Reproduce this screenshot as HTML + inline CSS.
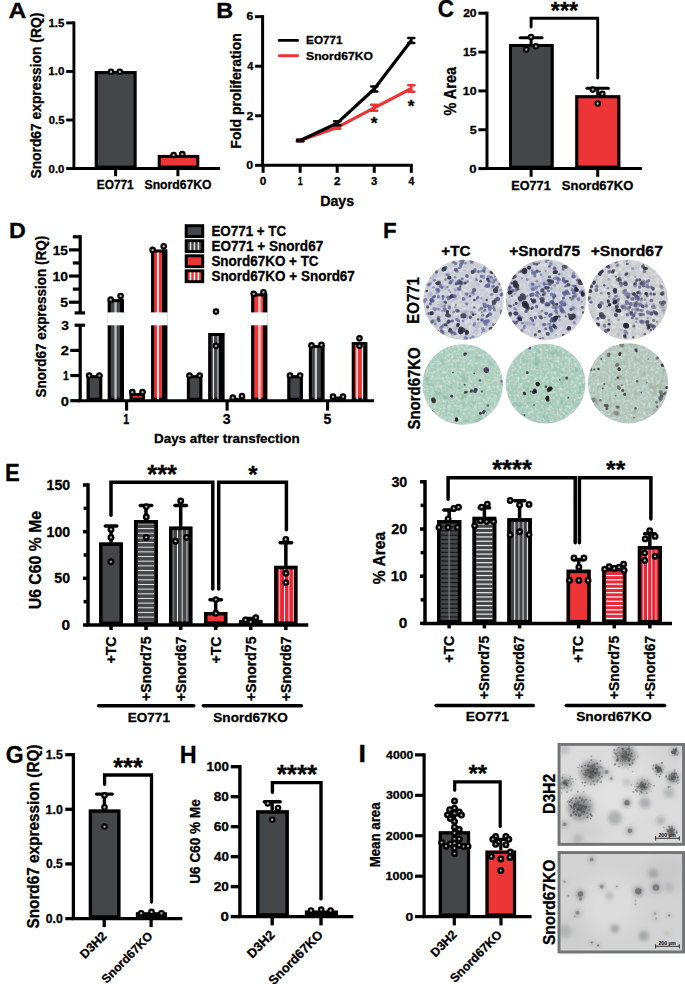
<!DOCTYPE html>
<html><head><meta charset="utf-8"><title>Figure</title>
<style>html,body{margin:0;padding:0;background:#fff;}body{width:685px;height:984px;overflow:hidden;font-family:"Liberation Sans", sans-serif;}svg{display:block;}</style>
</head><body><svg width="685" height="984" viewBox="0 0 685 984" font-family='"Liberation Sans", sans-serif'><defs><filter id="bl" x="-5%" y="-5%" width="110%" height="110%"><feGaussianBlur stdDeviation="0.45"/></filter><filter id="bl2" x="-50%" y="-50%" width="200%" height="200%"><feGaussianBlur stdDeviation="2.2"/></filter><filter id="bl3" x="-50%" y="-50%" width="200%" height="200%"><feGaussianBlur stdDeviation="0.9"/></filter><clipPath id="w1"><circle cx="463.5" cy="299.9" r="40.2"/></clipPath><filter id="w1n0" x="0" y="0" width="100%" height="100%" color-interpolation-filters="sRGB"><feTurbulence type="fractalNoise" baseFrequency="0.25" numOctaves="3" seed="110"/><feColorMatrix type="matrix" values="0 0 0 0 0.88 0 0 0 0 0.89 0 0 0 0 0.91 -2.2 0 0 0 1.3"/></filter><filter id="w1n1" x="0" y="0" width="100%" height="100%" color-interpolation-filters="sRGB"><feTurbulence type="fractalNoise" baseFrequency="0.1" numOctaves="2" seed="111"/><feColorMatrix type="matrix" values="0 0 0 0 0.52 0 0 0 0 0.54 0 0 0 0 0.72 -2.6 0 0 0 1.0"/></filter><clipPath id="w2"><circle cx="546" cy="299.7" r="40.2"/></clipPath><filter id="w2n0" x="0" y="0" width="100%" height="100%" color-interpolation-filters="sRGB"><feTurbulence type="fractalNoise" baseFrequency="0.25" numOctaves="3" seed="120"/><feColorMatrix type="matrix" values="0 0 0 0 0.88 0 0 0 0 0.89 0 0 0 0 0.91 -2.2 0 0 0 1.3"/></filter><filter id="w2n1" x="0" y="0" width="100%" height="100%" color-interpolation-filters="sRGB"><feTurbulence type="fractalNoise" baseFrequency="0.1" numOctaves="2" seed="121"/><feColorMatrix type="matrix" values="0 0 0 0 0.52 0 0 0 0 0.54 0 0 0 0 0.72 -2.6 0 0 0 1.0"/></filter><clipPath id="w3"><circle cx="627.7" cy="299.7" r="40"/></clipPath><filter id="w3n0" x="0" y="0" width="100%" height="100%" color-interpolation-filters="sRGB"><feTurbulence type="fractalNoise" baseFrequency="0.25" numOctaves="3" seed="130"/><feColorMatrix type="matrix" values="0 0 0 0 0.9 0 0 0 0 0.9 0 0 0 0 0.91 -2.2 0 0 0 1.3"/></filter><filter id="w3n1" x="0" y="0" width="100%" height="100%" color-interpolation-filters="sRGB"><feTurbulence type="fractalNoise" baseFrequency="0.1" numOctaves="2" seed="131"/><feColorMatrix type="matrix" values="0 0 0 0 0.54 0 0 0 0 0.54 0 0 0 0 0.64 -2.6 0 0 0 1.0"/></filter><clipPath id="w4"><circle cx="462.7" cy="384.5" r="40.2"/></clipPath><filter id="w4n0" x="0" y="0" width="100%" height="100%" color-interpolation-filters="sRGB"><feTurbulence type="fractalNoise" baseFrequency="0.35" numOctaves="2" seed="210"/><feColorMatrix type="matrix" values="0 0 0 0 0.87 0 0 0 0 0.91 0 0 0 0 0.87 -2.0 0 0 0 1.15"/></filter><filter id="w4n1" x="0" y="0" width="100%" height="100%" color-interpolation-filters="sRGB"><feTurbulence type="fractalNoise" baseFrequency="0.12" numOctaves="2" seed="211"/><feColorMatrix type="matrix" values="0 0 0 0 0.5 0 0 0 0 0.7 0 0 0 0 0.6 -2.3 0 0 0 1.0"/></filter><clipPath id="w5"><circle cx="545.6" cy="383.6" r="39.9"/></clipPath><filter id="w5n0" x="0" y="0" width="100%" height="100%" color-interpolation-filters="sRGB"><feTurbulence type="fractalNoise" baseFrequency="0.35" numOctaves="2" seed="220"/><feColorMatrix type="matrix" values="0 0 0 0 0.87 0 0 0 0 0.91 0 0 0 0 0.87 -2.0 0 0 0 1.15"/></filter><filter id="w5n1" x="0" y="0" width="100%" height="100%" color-interpolation-filters="sRGB"><feTurbulence type="fractalNoise" baseFrequency="0.12" numOctaves="2" seed="221"/><feColorMatrix type="matrix" values="0 0 0 0 0.5 0 0 0 0 0.7 0 0 0 0 0.6 -2.3 0 0 0 1.0"/></filter><clipPath id="w6"><circle cx="628.1" cy="383.3" r="40.1"/></clipPath><filter id="w6n0" x="0" y="0" width="100%" height="100%" color-interpolation-filters="sRGB"><feTurbulence type="fractalNoise" baseFrequency="0.35" numOctaves="2" seed="230"/><feColorMatrix type="matrix" values="0 0 0 0 0.86 0 0 0 0 0.88 0 0 0 0 0.86 -2.0 0 0 0 1.15"/></filter><filter id="w6n1" x="0" y="0" width="100%" height="100%" color-interpolation-filters="sRGB"><feTurbulence type="fractalNoise" baseFrequency="0.12" numOctaves="2" seed="231"/><feColorMatrix type="matrix" values="0 0 0 0 0.6 0 0 0 0 0.62 0 0 0 0 0.56 -2.3 0 0 0 1.0"/></filter><filter id="bl4" x="-50%" y="-50%" width="200%" height="200%"><feGaussianBlur stdDeviation="8"/></filter><filter id="bl5" x="-50%" y="-50%" width="200%" height="200%"><feGaussianBlur stdDeviation="0.55"/></filter><clipPath id="m1"><rect x="557.6" y="743" width="127.4" height="102.8"/></clipPath><clipPath id="m2"><rect x="557.6" y="851.1" width="127.4" height="102.3"/></clipPath></defs><text x="8.5" y="17.8" font-size="22.4" text-anchor="start" font-weight="bold" fill="#000" textLength="17.89" lengthAdjust="spacingAndGlyphs" stroke="#000" stroke-width="0.3">A</text><line x1="73.9" y1="21.45" x2="73.9" y2="168.55" stroke="#000" stroke-width="2.9" stroke-linecap="butt"/><line x1="66.2" y1="22.9" x2="73.9" y2="22.9" stroke="#000" stroke-width="2.9" stroke-linecap="butt"/><text x="64.4" y="26.85" font-size="11" text-anchor="end" font-weight="bold" fill="#000" textLength="15.87" lengthAdjust="spacingAndGlyphs" stroke="#000" stroke-width="0.3">1.5</text><line x1="66.2" y1="71.45" x2="73.9" y2="71.45" stroke="#000" stroke-width="2.9" stroke-linecap="butt"/><text x="64.4" y="75.4" font-size="11" text-anchor="end" font-weight="bold" fill="#000" textLength="16.06" lengthAdjust="spacingAndGlyphs" stroke="#000" stroke-width="0.3">1.0</text><line x1="66.2" y1="120" x2="73.9" y2="120" stroke="#000" stroke-width="2.9" stroke-linecap="butt"/><text x="64.4" y="123.95" font-size="11" text-anchor="end" font-weight="bold" fill="#000" textLength="15.63" lengthAdjust="spacingAndGlyphs" stroke="#000" stroke-width="0.3">0.5</text><line x1="66.2" y1="168.55" x2="73.9" y2="168.55" stroke="#000" stroke-width="2.9" stroke-linecap="butt"/><text x="64.4" y="172.5" font-size="11" text-anchor="end" font-weight="bold" fill="#000" textLength="15.81" lengthAdjust="spacingAndGlyphs" stroke="#000" stroke-width="0.3">0.0</text><rect x="94.8" y="71.15" width="41.7" height="97.4" fill="#434749"/><rect x="96.3" y="72.65" width="38.7" height="94.4" fill="none" stroke="#000" stroke-width="3"/><rect x="157.8" y="154.95" width="41.4" height="13.6" fill="#eb3536"/><rect x="159.3" y="156.45" width="38.4" height="10.6" fill="none" stroke="#000" stroke-width="3"/><line x1="72.45" y1="168.55" x2="220" y2="168.55" stroke="#000" stroke-width="2.9" stroke-linecap="butt"/><line x1="115.6" y1="168.55" x2="115.6" y2="176.2" stroke="#000" stroke-width="3" stroke-linecap="butt"/><line x1="177.9" y1="168.55" x2="177.9" y2="176.2" stroke="#000" stroke-width="3" stroke-linecap="butt"/><circle cx="111" cy="71.7" r="2.25" fill="#b0b0b0" stroke="#000" stroke-width="2.15"/><circle cx="119.8" cy="71.7" r="2.25" fill="#b0b0b0" stroke="#000" stroke-width="2.15"/><circle cx="173.6" cy="155.1" r="2.25" fill="#b0b0b0" stroke="#000" stroke-width="2.15"/><circle cx="182.3" cy="154.1" r="2.25" fill="#b0b0b0" stroke="#000" stroke-width="2.15"/><text x="115.25" y="188.8" font-size="11.9" text-anchor="middle" font-weight="bold" fill="#000" textLength="37.01" lengthAdjust="spacingAndGlyphs" stroke="#000" stroke-width="0.3">EO771</text><text x="178.05" y="188.8" font-size="11.9" text-anchor="middle" font-weight="bold" fill="#000" textLength="66.97" lengthAdjust="spacingAndGlyphs" stroke="#000" stroke-width="0.3">Snord67KO</text><text x="0" y="0" font-size="13.83" text-anchor="middle" font-weight="bold" fill="#000" transform="translate(41.3 95.65) scale(1.08 1) rotate(-90)" stroke="#000" stroke-width="0.3">Snord67 expression (RQ)</text><text x="216.2" y="17.8" font-size="22.8" text-anchor="start" font-weight="bold" fill="#000" textLength="16.93" lengthAdjust="spacingAndGlyphs" stroke="#000" stroke-width="0.3">B</text><line x1="262.6" y1="15.18" x2="262.6" y2="165.3" stroke="#000" stroke-width="3" stroke-linecap="butt"/><line x1="255.1" y1="16.68" x2="262.6" y2="16.68" stroke="#000" stroke-width="3" stroke-linecap="butt"/><text x="253.3" y="20.48" font-size="10.6" text-anchor="end" font-weight="bold" fill="#000" textLength="6.77" lengthAdjust="spacingAndGlyphs" stroke="#000" stroke-width="0.3">6</text><line x1="255.1" y1="66.22" x2="262.6" y2="66.22" stroke="#000" stroke-width="3" stroke-linecap="butt"/><text x="253.3" y="70.02" font-size="10.6" text-anchor="end" font-weight="bold" fill="#000" textLength="6.13" lengthAdjust="spacingAndGlyphs" stroke="#000" stroke-width="0.3">4</text><line x1="255.1" y1="115.76" x2="262.6" y2="115.76" stroke="#000" stroke-width="3" stroke-linecap="butt"/><text x="253.3" y="119.56" font-size="10.6" text-anchor="end" font-weight="bold" fill="#000" textLength="6.84" lengthAdjust="spacingAndGlyphs" stroke="#000" stroke-width="0.3">2</text><line x1="255.1" y1="165.3" x2="262.6" y2="165.3" stroke="#000" stroke-width="3" stroke-linecap="butt"/><text x="253.3" y="169.1" font-size="10.6" text-anchor="end" font-weight="bold" fill="#000" textLength="6.91" lengthAdjust="spacingAndGlyphs" stroke="#000" stroke-width="0.3">0</text><line x1="261.1" y1="165.3" x2="412.8" y2="165.3" stroke="#000" stroke-width="3" stroke-linecap="butt"/><line x1="263.1" y1="165.3" x2="263.1" y2="172.8" stroke="#000" stroke-width="3" stroke-linecap="butt"/><text x="263.1" y="185.4" font-size="10.8" text-anchor="middle" font-weight="bold" fill="#000" textLength="6.56" lengthAdjust="spacingAndGlyphs" stroke="#000" stroke-width="0.3">0</text><line x1="300.15" y1="165.3" x2="300.15" y2="172.8" stroke="#000" stroke-width="3" stroke-linecap="butt"/><text x="300.15" y="185.4" font-size="10.8" text-anchor="middle" font-weight="bold" fill="#000" textLength="4.97" lengthAdjust="spacingAndGlyphs" stroke="#000" stroke-width="0.3">1</text><line x1="337.2" y1="165.3" x2="337.2" y2="172.8" stroke="#000" stroke-width="3" stroke-linecap="butt"/><text x="337.2" y="185.4" font-size="10.8" text-anchor="middle" font-weight="bold" fill="#000" textLength="6.49" lengthAdjust="spacingAndGlyphs" stroke="#000" stroke-width="0.3">2</text><line x1="374.25" y1="165.3" x2="374.25" y2="172.8" stroke="#000" stroke-width="3" stroke-linecap="butt"/><text x="374.25" y="185.4" font-size="10.8" text-anchor="middle" font-weight="bold" fill="#000" textLength="6.29" lengthAdjust="spacingAndGlyphs" stroke="#000" stroke-width="0.3">3</text><line x1="411.3" y1="165.3" x2="411.3" y2="172.8" stroke="#000" stroke-width="3" stroke-linecap="butt"/><text x="411.3" y="185.4" font-size="10.8" text-anchor="middle" font-weight="bold" fill="#000" textLength="5.82" lengthAdjust="spacingAndGlyphs" stroke="#000" stroke-width="0.3">4</text><polyline points="300.15,140.53 337.2,127.4 374.25,107.83 411.3,88.51" fill="none" stroke="#eb3536" stroke-width="3.2" stroke-linecap="butt" stroke-linejoin="round"/><line x1="300.15" y1="139.79" x2="300.15" y2="141.27" stroke="#eb3536" stroke-width="2.6" stroke-linecap="butt"/><line x1="297.15" y1="139.79" x2="303.15" y2="139.79" stroke="#eb3536" stroke-width="2.6" stroke-linecap="round"/><line x1="297.15" y1="141.27" x2="303.15" y2="141.27" stroke="#eb3536" stroke-width="2.6" stroke-linecap="round"/><line x1="337.2" y1="126.16" x2="337.2" y2="128.64" stroke="#eb3536" stroke-width="2.6" stroke-linecap="butt"/><line x1="334.2" y1="126.16" x2="340.2" y2="126.16" stroke="#eb3536" stroke-width="2.6" stroke-linecap="round"/><line x1="334.2" y1="128.64" x2="340.2" y2="128.64" stroke="#eb3536" stroke-width="2.6" stroke-linecap="round"/><line x1="374.25" y1="104.86" x2="374.25" y2="110.81" stroke="#eb3536" stroke-width="2.6" stroke-linecap="butt"/><line x1="371.25" y1="104.86" x2="377.25" y2="104.86" stroke="#eb3536" stroke-width="2.6" stroke-linecap="round"/><line x1="371.25" y1="110.81" x2="377.25" y2="110.81" stroke="#eb3536" stroke-width="2.6" stroke-linecap="round"/><line x1="411.3" y1="85.29" x2="411.3" y2="91.73" stroke="#eb3536" stroke-width="2.6" stroke-linecap="butt"/><line x1="408.3" y1="85.29" x2="414.3" y2="85.29" stroke="#eb3536" stroke-width="2.6" stroke-linecap="round"/><line x1="408.3" y1="91.73" x2="414.3" y2="91.73" stroke="#eb3536" stroke-width="2.6" stroke-linecap="round"/><polyline points="300.15,140.53 337.2,123.19 374.25,89.01 411.3,40.46" fill="none" stroke="#000" stroke-width="3.2" stroke-linecap="butt" stroke-linejoin="round"/><line x1="300.15" y1="139.79" x2="300.15" y2="141.27" stroke="#000" stroke-width="2.6" stroke-linecap="butt"/><line x1="297.15" y1="139.79" x2="303.15" y2="139.79" stroke="#000" stroke-width="2.6" stroke-linecap="round"/><line x1="297.15" y1="141.27" x2="303.15" y2="141.27" stroke="#000" stroke-width="2.6" stroke-linecap="round"/><line x1="337.2" y1="121.21" x2="337.2" y2="125.17" stroke="#000" stroke-width="2.6" stroke-linecap="butt"/><line x1="334.2" y1="121.21" x2="340.2" y2="121.21" stroke="#000" stroke-width="2.6" stroke-linecap="round"/><line x1="334.2" y1="125.17" x2="340.2" y2="125.17" stroke="#000" stroke-width="2.6" stroke-linecap="round"/><line x1="374.25" y1="86.53" x2="374.25" y2="91.49" stroke="#000" stroke-width="2.6" stroke-linecap="butt"/><line x1="371.25" y1="86.53" x2="377.25" y2="86.53" stroke="#000" stroke-width="2.6" stroke-linecap="round"/><line x1="371.25" y1="91.49" x2="377.25" y2="91.49" stroke="#000" stroke-width="2.6" stroke-linecap="round"/><line x1="411.3" y1="37.98" x2="411.3" y2="42.94" stroke="#000" stroke-width="2.6" stroke-linecap="butt"/><line x1="408.3" y1="37.98" x2="414.3" y2="37.98" stroke="#000" stroke-width="2.6" stroke-linecap="round"/><line x1="408.3" y1="42.94" x2="414.3" y2="42.94" stroke="#000" stroke-width="2.6" stroke-linecap="round"/><line x1="279.3" y1="40.4" x2="297.6" y2="40.4" stroke="#000" stroke-width="2.9" stroke-linecap="round"/><line x1="279.3" y1="55.7" x2="297.6" y2="55.7" stroke="#eb3536" stroke-width="2.9" stroke-linecap="round"/><text x="306.1" y="44.1" font-size="11.3" text-anchor="start" font-weight="bold" fill="#000" textLength="36.49" lengthAdjust="spacingAndGlyphs" stroke="#000" stroke-width="0.3">EO771</text><text x="306.1" y="60" font-size="11.3" text-anchor="start" font-weight="bold" fill="#000" textLength="66.76" lengthAdjust="spacingAndGlyphs" stroke="#000" stroke-width="0.3">Snord67KO</text><text x="374.2" y="128.6" font-size="17.3" text-anchor="middle" font-weight="bold" fill="#000" stroke="#000" stroke-width="0.3">*</text><text x="411.2" y="112.1" font-size="17.3" text-anchor="middle" font-weight="bold" fill="#000" stroke="#000" stroke-width="0.3">*</text><text x="337.15" y="205.8" font-size="14.2" text-anchor="middle" font-weight="bold" fill="#000" textLength="34" lengthAdjust="spacingAndGlyphs" stroke="#000" stroke-width="0.3">Days</text><text x="0" y="0" font-size="14.06" text-anchor="middle" font-weight="bold" fill="#000" transform="translate(240.5 90.9) scale(1.08 1) rotate(-90)" stroke="#000" stroke-width="0.3">Fold proliferation</text><text x="437.8" y="17.2" font-size="23" text-anchor="start" font-weight="bold" fill="#000" textLength="16.32" lengthAdjust="spacingAndGlyphs" stroke="#000" stroke-width="0.3">C</text><line x1="487" y1="11.7" x2="487" y2="168.6" stroke="#000" stroke-width="3" stroke-linecap="butt"/><line x1="478.4" y1="13.2" x2="487" y2="13.2" stroke="#000" stroke-width="3" stroke-linecap="butt"/><text x="476.6" y="17.15" font-size="11" text-anchor="end" font-weight="bold" fill="#000" textLength="13.43" lengthAdjust="spacingAndGlyphs" stroke="#000" stroke-width="0.3">20</text><line x1="478.4" y1="52.05" x2="487" y2="52.05" stroke="#000" stroke-width="3" stroke-linecap="butt"/><text x="476.6" y="56" font-size="11" text-anchor="end" font-weight="bold" fill="#000" textLength="13.57" lengthAdjust="spacingAndGlyphs" stroke="#000" stroke-width="0.3">15</text><line x1="478.4" y1="90.9" x2="487" y2="90.9" stroke="#000" stroke-width="3" stroke-linecap="butt"/><text x="476.6" y="94.85" font-size="11" text-anchor="end" font-weight="bold" fill="#000" textLength="13.77" lengthAdjust="spacingAndGlyphs" stroke="#000" stroke-width="0.3">10</text><line x1="478.4" y1="129.75" x2="487" y2="129.75" stroke="#000" stroke-width="3" stroke-linecap="butt"/><text x="476.6" y="133.7" font-size="11" text-anchor="end" font-weight="bold" fill="#000" textLength="6.9" lengthAdjust="spacingAndGlyphs" stroke="#000" stroke-width="0.3">5</text><line x1="478.4" y1="168.6" x2="487" y2="168.6" stroke="#000" stroke-width="3" stroke-linecap="butt"/><text x="476.6" y="172.55" font-size="11" text-anchor="end" font-weight="bold" fill="#000" textLength="7.26" lengthAdjust="spacingAndGlyphs" stroke="#000" stroke-width="0.3">0</text><line x1="531.1" y1="37.68" x2="531.1" y2="44.28" stroke="#000" stroke-width="3" stroke-linecap="butt"/><line x1="520.1" y1="37.68" x2="542.1" y2="37.68" stroke="#000" stroke-width="3" stroke-linecap="round"/><rect x="509" y="43.98" width="44.6" height="124.62" fill="#434749"/><rect x="510.5" y="45.48" width="41.6" height="121.62" fill="none" stroke="#000" stroke-width="3"/><line x1="597.7" y1="88.18" x2="597.7" y2="95.56" stroke="#000" stroke-width="3" stroke-linecap="butt"/><line x1="586.95" y1="88.18" x2="608.45" y2="88.18" stroke="#000" stroke-width="3" stroke-linecap="round"/><rect x="575.3" y="95.26" width="45" height="73.34" fill="#eb3536"/><rect x="576.8" y="96.76" width="42" height="70.34" fill="none" stroke="#000" stroke-width="3"/><line x1="485.5" y1="168.6" x2="642" y2="168.6" stroke="#000" stroke-width="3" stroke-linecap="butt"/><line x1="531.1" y1="168.6" x2="531.1" y2="176.8" stroke="#000" stroke-width="3" stroke-linecap="butt"/><line x1="597.7" y1="168.6" x2="597.7" y2="176.8" stroke="#000" stroke-width="3" stroke-linecap="butt"/><circle cx="531.1" cy="37" r="2.25" fill="#b0b0b0" stroke="#000" stroke-width="2.15"/><circle cx="526.3" cy="49.5" r="2.25" fill="#b0b0b0" stroke="#000" stroke-width="2.15"/><circle cx="535.9" cy="46.3" r="2.25" fill="#b0b0b0" stroke="#000" stroke-width="2.15"/><circle cx="592.8" cy="89.6" r="2.25" fill="#b0b0b0" stroke="#000" stroke-width="2.15"/><circle cx="602.3" cy="93.9" r="2.25" fill="#b0b0b0" stroke="#000" stroke-width="2.15"/><circle cx="597.7" cy="103.5" r="2.25" fill="#b0b0b0" stroke="#000" stroke-width="2.15"/><polyline points="531.1,27.05 531.1,18.3 597.7,18.3 597.7,78.05" fill="none" stroke="#000" stroke-width="2.9" stroke-linecap="round" stroke-linejoin="miter"/><text x="564.45" y="19" font-size="23.4" text-anchor="middle" font-weight="bold" fill="#000" stroke="#000" stroke-width="0.3">***</text><text x="531" y="190.3" font-size="12" text-anchor="middle" font-weight="bold" fill="#000" textLength="39.38" lengthAdjust="spacingAndGlyphs" stroke="#000" stroke-width="0.3">EO771</text><text x="597.55" y="190.3" font-size="12" text-anchor="middle" font-weight="bold" fill="#000" textLength="71.42" lengthAdjust="spacingAndGlyphs" stroke="#000" stroke-width="0.3">Snord67KO</text><text x="0" y="0" font-size="14.42" text-anchor="middle" font-weight="bold" fill="#000" transform="translate(456.3 91.25) scale(1.08 1) rotate(-90)" stroke="#000" stroke-width="0.3">% Area</text><text x="9.1" y="238.1" font-size="22.9" text-anchor="start" font-weight="bold" fill="#000" textLength="16.79" lengthAdjust="spacingAndGlyphs" stroke="#000" stroke-width="0.3">D</text><line x1="80.2" y1="235.22" x2="80.2" y2="312.9" stroke="#000" stroke-width="3.2" stroke-linecap="butt"/><line x1="69" y1="249.9" x2="80.2" y2="249.9" stroke="#000" stroke-width="3.2" stroke-linecap="butt"/><text x="68" y="254.8" font-size="13.7" text-anchor="end" font-weight="bold" fill="#000" textLength="15.3" lengthAdjust="spacingAndGlyphs" stroke="#000" stroke-width="0.3">15</text><line x1="69" y1="276.05" x2="80.2" y2="276.05" stroke="#000" stroke-width="3.2" stroke-linecap="butt"/><text x="68" y="280.95" font-size="13.7" text-anchor="end" font-weight="bold" fill="#000" textLength="15.53" lengthAdjust="spacingAndGlyphs" stroke="#000" stroke-width="0.3">10</text><line x1="69" y1="302.2" x2="80.2" y2="302.2" stroke="#000" stroke-width="3.2" stroke-linecap="butt"/><text x="68" y="307.1" font-size="13.7" text-anchor="end" font-weight="bold" fill="#000" textLength="7.79" lengthAdjust="spacingAndGlyphs" stroke="#000" stroke-width="0.3">5</text><line x1="72.8" y1="236.82" x2="80.2" y2="236.82" stroke="#000" stroke-width="3.2" stroke-linecap="butt"/><line x1="72.8" y1="262.97" x2="80.2" y2="262.97" stroke="#000" stroke-width="3.2" stroke-linecap="butt"/><line x1="72.8" y1="289.12" x2="80.2" y2="289.12" stroke="#000" stroke-width="3.2" stroke-linecap="butt"/><line x1="74.6" y1="312.9" x2="85.1" y2="312.9" stroke="#000" stroke-width="3.2" stroke-linecap="butt"/><line x1="80.2" y1="325.2" x2="80.2" y2="400.7" stroke="#000" stroke-width="3.2" stroke-linecap="butt"/><line x1="74.6" y1="325.2" x2="85.1" y2="325.2" stroke="#000" stroke-width="3.2" stroke-linecap="butt"/><text x="68.8" y="330.1" font-size="13.7" text-anchor="end" font-weight="bold" fill="#000" textLength="7.64" lengthAdjust="spacingAndGlyphs" stroke="#000" stroke-width="0.3">3</text><line x1="70.3" y1="350.4" x2="80.2" y2="350.4" stroke="#000" stroke-width="3.2" stroke-linecap="butt"/><text x="68.9" y="355.3" font-size="13.7" text-anchor="end" font-weight="bold" fill="#000" textLength="8.11" lengthAdjust="spacingAndGlyphs" stroke="#000" stroke-width="0.3">2</text><line x1="70.3" y1="375.55" x2="80.2" y2="375.55" stroke="#000" stroke-width="3.2" stroke-linecap="butt"/><text x="68.9" y="380.45" font-size="13.7" text-anchor="end" font-weight="bold" fill="#000" textLength="5.92" lengthAdjust="spacingAndGlyphs" stroke="#000" stroke-width="0.3">1</text><line x1="70.3" y1="400.7" x2="80.2" y2="400.7" stroke="#000" stroke-width="3.2" stroke-linecap="butt"/><text x="68.9" y="405.6" font-size="13.7" text-anchor="end" font-weight="bold" fill="#000" textLength="8.2" lengthAdjust="spacingAndGlyphs" stroke="#000" stroke-width="0.3">0</text><rect x="86.7" y="375.25" width="15.5" height="25.45" fill="#434749"/><rect x="88.2" y="376.75" width="12.5" height="22.45" fill="none" stroke="#000" stroke-width="3"/><rect x="107.8" y="299.28" width="16" height="101.42" fill="#434749"/><rect x="109.3" y="300.78" width="13" height="98.42" fill="none" stroke="#000" stroke-width="3"/><line x1="115.55" y1="302.28" x2="115.55" y2="400.7" stroke="#bfc0c0" stroke-width="2.3" stroke-linecap="butt"/><rect x="120.1" y="299.28" width="3.7" height="101.42" fill="#000"/><rect x="107.3" y="312.4" width="17" height="12.9" fill="#fff"/><rect x="129.6" y="393.11" width="15.4" height="7.59" fill="#eb3536"/><rect x="131.1" y="394.61" width="12.4" height="4.59" fill="none" stroke="#000" stroke-width="3"/><rect x="151.1" y="249.6" width="16.1" height="151.1" fill="#eb3536"/><rect x="152.6" y="251.1" width="13.1" height="148.1" fill="none" stroke="#000" stroke-width="3"/><line x1="158" y1="252.6" x2="158" y2="400.7" stroke="#ffffff" stroke-width="1.7" stroke-linecap="butt"/><rect x="162" y="249.6" width="5.2" height="151.1" fill="#000"/><rect x="150.6" y="312.4" width="17.1" height="12.9" fill="#fff"/><rect x="186.9" y="375.25" width="15.4" height="25.45" fill="#434749"/><rect x="188.4" y="376.75" width="12.4" height="22.45" fill="none" stroke="#000" stroke-width="3"/><rect x="208.3" y="333" width="16" height="67.7" fill="#434749"/><rect x="209.8" y="334.5" width="13" height="64.7" fill="none" stroke="#000" stroke-width="3"/><line x1="213.45" y1="336" x2="213.45" y2="400.7" stroke="#e8e8e8" stroke-width="1.1" stroke-linecap="butt"/><line x1="218.1" y1="336" x2="218.1" y2="400.7" stroke="#e8e8e8" stroke-width="1.2" stroke-linecap="butt"/><rect x="218.7" y="333" width="5.6" height="67.7" fill="#000"/><rect x="229.8" y="397.88" width="15.4" height="2.81" fill="#eb3536"/><rect x="231.3" y="399.38" width="12.4" height="0.1" fill="none" stroke="#000" stroke-width="3"/><rect x="251.2" y="293.53" width="16" height="107.17" fill="#eb3536"/><rect x="252.7" y="295.03" width="13" height="104.17" fill="none" stroke="#000" stroke-width="3"/><line x1="259.1" y1="296.53" x2="259.1" y2="400.7" stroke="#ffffff" stroke-width="1.4" stroke-linecap="butt"/><line x1="260.55" y1="296.53" x2="260.55" y2="400.7" stroke="#f49a9a" stroke-width="1.5" stroke-linecap="butt"/><rect x="263.1" y="293.53" width="4.1" height="107.17" fill="#000"/><rect x="250.7" y="312.4" width="17" height="12.9" fill="#fff"/><rect x="287.4" y="375.25" width="15.4" height="25.45" fill="#434749"/><rect x="288.9" y="376.75" width="12.4" height="22.45" fill="none" stroke="#000" stroke-width="3"/><rect x="308.9" y="345.07" width="15.4" height="55.63" fill="#434749"/><rect x="310.4" y="346.57" width="12.4" height="52.63" fill="none" stroke="#000" stroke-width="3"/><line x1="315.9" y1="348.07" x2="315.9" y2="400.7" stroke="#d0d0d0" stroke-width="2.1" stroke-linecap="butt"/><rect x="320.8" y="345.07" width="3.5" height="55.63" fill="#000"/><rect x="330.3" y="396.63" width="15.4" height="4.07" fill="#eb3536"/><rect x="331.8" y="398.13" width="12.4" height="1.07" fill="none" stroke="#000" stroke-width="3"/><rect x="351.8" y="342.05" width="15.4" height="58.65" fill="#eb3536"/><rect x="353.3" y="343.55" width="12.4" height="55.65" fill="none" stroke="#000" stroke-width="3"/><line x1="357.1" y1="345.05" x2="357.1" y2="400.7" stroke="#ffffff" stroke-width="1.4" stroke-linecap="butt"/><line x1="362.6" y1="345.05" x2="362.6" y2="400.7" stroke="#ffffff" stroke-width="1.4" stroke-linecap="butt"/><rect x="363.3" y="342.05" width="3.9" height="58.65" fill="#000"/><line x1="78.6" y1="400.7" x2="374" y2="400.7" stroke="#000" stroke-width="3.1" stroke-linecap="butt"/><line x1="126.6" y1="400.7" x2="126.6" y2="410.6" stroke="#000" stroke-width="3.1" stroke-linecap="butt"/><line x1="227.1" y1="400.7" x2="227.1" y2="410.6" stroke="#000" stroke-width="3.1" stroke-linecap="butt"/><line x1="327.6" y1="400.7" x2="327.6" y2="410.6" stroke="#000" stroke-width="3.1" stroke-linecap="butt"/><circle cx="89.2" cy="375.55" r="2.25" fill="#b0b0b0" stroke="#000" stroke-width="2.15"/><circle cx="99.4" cy="375.55" r="2.25" fill="#b0b0b0" stroke="#000" stroke-width="2.15"/><circle cx="110.7" cy="299.69" r="2.25" fill="#b0b0b0" stroke="#000" stroke-width="2.15"/><circle cx="120.6" cy="296.03" r="2.25" fill="#b0b0b0" stroke="#000" stroke-width="2.15"/><circle cx="132.3" cy="392.15" r="2.25" fill="#b0b0b0" stroke="#000" stroke-width="2.15"/><circle cx="142.5" cy="392.15" r="2.25" fill="#b0b0b0" stroke="#000" stroke-width="2.15"/><circle cx="152.6" cy="249.9" r="2.25" fill="#b0b0b0" stroke="#000" stroke-width="2.15"/><circle cx="163.7" cy="246.24" r="2.25" fill="#b0b0b0" stroke="#000" stroke-width="2.15"/><circle cx="189.5" cy="375.55" r="2.25" fill="#b0b0b0" stroke="#000" stroke-width="2.15"/><circle cx="199.6" cy="375.55" r="2.25" fill="#b0b0b0" stroke="#000" stroke-width="2.15"/><circle cx="216" cy="311.6" r="2.25" fill="#b0b0b0" stroke="#000" stroke-width="2.15"/><circle cx="216" cy="345.87" r="2.25" fill="#b0b0b0" stroke="#000" stroke-width="2.15"/><circle cx="232.8" cy="397.68" r="2.25" fill="#b0b0b0" stroke="#000" stroke-width="2.15"/><circle cx="242" cy="396.17" r="2.25" fill="#b0b0b0" stroke="#000" stroke-width="2.15"/><circle cx="253.7" cy="293.83" r="2.25" fill="#b0b0b0" stroke="#000" stroke-width="2.15"/><circle cx="263.5" cy="292.26" r="2.25" fill="#b0b0b0" stroke="#000" stroke-width="2.15"/><circle cx="290" cy="375.55" r="2.25" fill="#b0b0b0" stroke="#000" stroke-width="2.15"/><circle cx="300.1" cy="375.55" r="2.25" fill="#b0b0b0" stroke="#000" stroke-width="2.15"/><circle cx="311.5" cy="345.37" r="2.25" fill="#b0b0b0" stroke="#000" stroke-width="2.15"/><circle cx="321.5" cy="344.87" r="2.25" fill="#b0b0b0" stroke="#000" stroke-width="2.15"/><circle cx="333" cy="396.68" r="2.25" fill="#b0b0b0" stroke="#000" stroke-width="2.15"/><circle cx="343" cy="396.68" r="2.25" fill="#b0b0b0" stroke="#000" stroke-width="2.15"/><circle cx="359.5" cy="338.33" r="2.25" fill="#b0b0b0" stroke="#000" stroke-width="2.15"/><circle cx="359.5" cy="345.87" r="2.25" fill="#b0b0b0" stroke="#000" stroke-width="2.15"/><text x="126.3" y="424" font-size="14" text-anchor="middle" font-weight="bold" fill="#000" textLength="5.92" lengthAdjust="spacingAndGlyphs" stroke="#000" stroke-width="0.3">1</text><text x="226.8" y="424" font-size="14" text-anchor="middle" font-weight="bold" fill="#000" textLength="7.87" lengthAdjust="spacingAndGlyphs" stroke="#000" stroke-width="0.3">3</text><text x="327.3" y="424" font-size="14" text-anchor="middle" font-weight="bold" fill="#000" textLength="7.79" lengthAdjust="spacingAndGlyphs" stroke="#000" stroke-width="0.3">5</text><text x="226.85" y="443.3" font-size="13.7" text-anchor="middle" font-weight="bold" fill="#000" textLength="145.81" lengthAdjust="spacingAndGlyphs" stroke="#000" stroke-width="0.3">Days after transfection</text><text x="0" y="0" font-size="13.48" text-anchor="middle" font-weight="bold" fill="#000" transform="translate(46 316.65) scale(1.08 1) rotate(-90)" stroke="#000" stroke-width="0.3">Snord67 expression (RQ)</text><rect x="184.7" y="224.2" width="19.5" height="13.8" fill="#000"/><rect x="187.7" y="227.2" width="13.5" height="7.8" fill="#434749"/><text x="211.4" y="235.8" font-size="14" text-anchor="start" font-weight="bold" fill="#000" textLength="74.82" lengthAdjust="spacingAndGlyphs" stroke="#000" stroke-width="0.3">EO771 + TC</text><rect x="184.7" y="239.25" width="19.5" height="13.8" fill="#000"/><rect x="187.7" y="242.25" width="13.5" height="7.8" fill="#434749"/><line x1="190.5" y1="242.25" x2="190.5" y2="250.05" stroke="#e0e0e0" stroke-width="1.5" stroke-linecap="butt"/><line x1="194.45" y1="242.25" x2="194.45" y2="250.05" stroke="#e0e0e0" stroke-width="1.5" stroke-linecap="butt"/><line x1="198.4" y1="242.25" x2="198.4" y2="250.05" stroke="#e0e0e0" stroke-width="1.5" stroke-linecap="butt"/><text x="211.4" y="250.85" font-size="14" text-anchor="start" font-weight="bold" fill="#000" textLength="111.81" lengthAdjust="spacingAndGlyphs" stroke="#000" stroke-width="0.3">EO771 + Snord67</text><rect x="184.7" y="254.3" width="19.5" height="13.8" fill="#000"/><rect x="187.7" y="257.3" width="13.5" height="7.8" fill="#eb3536"/><text x="211.4" y="265.9" font-size="14" text-anchor="start" font-weight="bold" fill="#000" textLength="107.19" lengthAdjust="spacingAndGlyphs" stroke="#000" stroke-width="0.3">Snord67KO + TC</text><rect x="184.7" y="269.35" width="19.5" height="13.8" fill="#000"/><rect x="187.7" y="272.35" width="13.5" height="7.8" fill="#eb3536"/><line x1="190.5" y1="272.35" x2="190.5" y2="280.15" stroke="#ffffff" stroke-width="1.5" stroke-linecap="butt"/><line x1="194.45" y1="272.35" x2="194.45" y2="280.15" stroke="#ffffff" stroke-width="1.5" stroke-linecap="butt"/><line x1="198.4" y1="272.35" x2="198.4" y2="280.15" stroke="#ffffff" stroke-width="1.5" stroke-linecap="butt"/><text x="211.4" y="280.95" font-size="14" text-anchor="start" font-weight="bold" fill="#000" textLength="143.47" lengthAdjust="spacingAndGlyphs" stroke="#000" stroke-width="0.3">Snord67KO + Snord67</text><text x="5" y="480.6" font-size="23.4" text-anchor="start" font-weight="bold" fill="#000" textLength="14.76" lengthAdjust="spacingAndGlyphs" stroke="#000" stroke-width="0.3">E</text><line x1="88" y1="483.25" x2="88" y2="625" stroke="#000" stroke-width="3.5" stroke-linecap="butt"/><line x1="83" y1="485" x2="88" y2="485" stroke="#000" stroke-width="3.5" stroke-linecap="butt"/><text x="70.1" y="490" font-size="14.1" text-anchor="end" font-weight="bold" fill="#000" textLength="23.56" lengthAdjust="spacingAndGlyphs" stroke="#000" stroke-width="0.3">150</text><line x1="83" y1="531.67" x2="88" y2="531.67" stroke="#000" stroke-width="3.5" stroke-linecap="butt"/><text x="70.1" y="536.67" font-size="14.1" text-anchor="end" font-weight="bold" fill="#000" textLength="23.56" lengthAdjust="spacingAndGlyphs" stroke="#000" stroke-width="0.3">100</text><line x1="83" y1="578.34" x2="88" y2="578.34" stroke="#000" stroke-width="3.5" stroke-linecap="butt"/><text x="70.1" y="583.34" font-size="14.1" text-anchor="end" font-weight="bold" fill="#000" textLength="15.72" lengthAdjust="spacingAndGlyphs" stroke="#000" stroke-width="0.3">50</text><line x1="83" y1="625" x2="88" y2="625" stroke="#000" stroke-width="3.5" stroke-linecap="butt"/><text x="70.1" y="630" font-size="14.1" text-anchor="end" font-weight="bold" fill="#000" textLength="8.55" lengthAdjust="spacingAndGlyphs" stroke="#000" stroke-width="0.3">0</text><line x1="83.6" y1="508.34" x2="88" y2="508.34" stroke="#000" stroke-width="3.5" stroke-linecap="butt"/><line x1="83.6" y1="555" x2="88" y2="555" stroke="#000" stroke-width="3.5" stroke-linecap="butt"/><line x1="83.6" y1="601.67" x2="88" y2="601.67" stroke="#000" stroke-width="3.5" stroke-linecap="butt"/><line x1="111.05" y1="526.07" x2="111.05" y2="542.87" stroke="#000" stroke-width="3.5" stroke-linecap="butt"/><line x1="105.3" y1="526.07" x2="116.8" y2="526.07" stroke="#000" stroke-width="3.5" stroke-linecap="round"/><rect x="99.1" y="542.47" width="23.9" height="82.53" fill="#434749"/><rect x="100.85" y="544.22" width="20.4" height="79.03" fill="none" stroke="#000" stroke-width="3.5"/><line x1="146" y1="505.54" x2="146" y2="520.47" stroke="#000" stroke-width="3.5" stroke-linecap="butt"/><line x1="140.25" y1="505.54" x2="151.75" y2="505.54" stroke="#000" stroke-width="3.5" stroke-linecap="round"/><rect x="134" y="520.07" width="24" height="104.93" fill="#434749"/><line x1="137.9" y1="523.91" x2="154.1" y2="523.91" stroke="#e6e6e6" stroke-width="1" stroke-linecap="butt"/><line x1="137.9" y1="528.57" x2="154.1" y2="528.57" stroke="#e6e6e6" stroke-width="1" stroke-linecap="butt"/><line x1="137.9" y1="533.23" x2="154.1" y2="533.23" stroke="#e6e6e6" stroke-width="1" stroke-linecap="butt"/><line x1="137.9" y1="537.89" x2="154.1" y2="537.89" stroke="#e6e6e6" stroke-width="1" stroke-linecap="butt"/><line x1="137.9" y1="542.55" x2="154.1" y2="542.55" stroke="#e6e6e6" stroke-width="1" stroke-linecap="butt"/><line x1="137.9" y1="547.21" x2="154.1" y2="547.21" stroke="#e6e6e6" stroke-width="1" stroke-linecap="butt"/><line x1="137.9" y1="551.87" x2="154.1" y2="551.87" stroke="#e6e6e6" stroke-width="1" stroke-linecap="butt"/><line x1="137.9" y1="556.53" x2="154.1" y2="556.53" stroke="#e6e6e6" stroke-width="1" stroke-linecap="butt"/><line x1="137.9" y1="561.19" x2="154.1" y2="561.19" stroke="#e6e6e6" stroke-width="1" stroke-linecap="butt"/><line x1="137.9" y1="565.85" x2="154.1" y2="565.85" stroke="#e6e6e6" stroke-width="1" stroke-linecap="butt"/><line x1="137.9" y1="570.51" x2="154.1" y2="570.51" stroke="#e6e6e6" stroke-width="1" stroke-linecap="butt"/><line x1="137.9" y1="575.17" x2="154.1" y2="575.17" stroke="#e6e6e6" stroke-width="1" stroke-linecap="butt"/><line x1="137.9" y1="579.83" x2="154.1" y2="579.83" stroke="#e6e6e6" stroke-width="1" stroke-linecap="butt"/><line x1="137.9" y1="584.49" x2="154.1" y2="584.49" stroke="#e6e6e6" stroke-width="1" stroke-linecap="butt"/><line x1="137.9" y1="589.15" x2="154.1" y2="589.15" stroke="#e6e6e6" stroke-width="1" stroke-linecap="butt"/><line x1="137.9" y1="593.81" x2="154.1" y2="593.81" stroke="#e6e6e6" stroke-width="1" stroke-linecap="butt"/><line x1="137.9" y1="598.47" x2="154.1" y2="598.47" stroke="#e6e6e6" stroke-width="1" stroke-linecap="butt"/><line x1="137.9" y1="603.13" x2="154.1" y2="603.13" stroke="#e6e6e6" stroke-width="1" stroke-linecap="butt"/><line x1="137.9" y1="607.79" x2="154.1" y2="607.79" stroke="#e6e6e6" stroke-width="1" stroke-linecap="butt"/><line x1="137.9" y1="612.45" x2="154.1" y2="612.45" stroke="#e6e6e6" stroke-width="1" stroke-linecap="butt"/><line x1="137.9" y1="617.11" x2="154.1" y2="617.11" stroke="#e6e6e6" stroke-width="1" stroke-linecap="butt"/><line x1="137.9" y1="621.77" x2="154.1" y2="621.77" stroke="#e6e6e6" stroke-width="1" stroke-linecap="butt"/><rect x="135.75" y="521.82" width="20.5" height="101.43" fill="none" stroke="#000" stroke-width="3.5"/><line x1="180.7" y1="505.54" x2="180.7" y2="527" stroke="#000" stroke-width="3.5" stroke-linecap="butt"/><line x1="174.95" y1="505.54" x2="186.45" y2="505.54" stroke="#000" stroke-width="3.5" stroke-linecap="round"/><rect x="169" y="526.6" width="23.4" height="98.4" fill="#434749"/><line x1="172.9" y1="530.1" x2="172.9" y2="625" stroke="#b4b4b4" stroke-width="1.05" stroke-linecap="butt"/><line x1="177.5" y1="530.1" x2="177.5" y2="625" stroke="#f2f2f2" stroke-width="1.05" stroke-linecap="butt"/><line x1="182.25" y1="530.1" x2="182.25" y2="625" stroke="#d4d4d4" stroke-width="1.05" stroke-linecap="butt"/><line x1="186.9" y1="530.1" x2="186.9" y2="625" stroke="#c4c4c4" stroke-width="1.05" stroke-linecap="butt"/><rect x="170.75" y="528.35" width="19.9" height="94.9" fill="none" stroke="#000" stroke-width="3.5"/><line x1="215.7" y1="599.8" x2="215.7" y2="612.4" stroke="#000" stroke-width="3.5" stroke-linecap="butt"/><line x1="209.95" y1="599.8" x2="221.45" y2="599.8" stroke="#000" stroke-width="3.5" stroke-linecap="round"/><rect x="204" y="612" width="23.4" height="13" fill="#eb3536"/><rect x="205.75" y="613.75" width="19.9" height="9.5" fill="none" stroke="#000" stroke-width="3.5"/><line x1="250.75" y1="618.47" x2="250.75" y2="620.33" stroke="#000" stroke-width="3.5" stroke-linecap="butt"/><line x1="245" y1="618.47" x2="256.5" y2="618.47" stroke="#000" stroke-width="3.5" stroke-linecap="round"/><rect x="239" y="619.93" width="23.5" height="5.07" fill="#e62838"/><rect x="240.75" y="621.68" width="20" height="1.57" fill="none" stroke="#000" stroke-width="3.5"/><line x1="285.85" y1="542.87" x2="285.85" y2="566.2" stroke="#000" stroke-width="3.5" stroke-linecap="butt"/><line x1="280.1" y1="542.87" x2="291.6" y2="542.87" stroke="#000" stroke-width="3.5" stroke-linecap="round"/><rect x="274.2" y="565.8" width="23.3" height="59.2" fill="#e62838"/><line x1="279.6" y1="569.3" x2="279.6" y2="625" stroke="#f6b4bc" stroke-width="1.05" stroke-linecap="butt"/><line x1="284.5" y1="569.3" x2="284.5" y2="625" stroke="#ffffff" stroke-width="1.05" stroke-linecap="butt"/><line x1="288.9" y1="569.3" x2="288.9" y2="625" stroke="#f8c4cc" stroke-width="1.05" stroke-linecap="butt"/><line x1="293.4" y1="569.3" x2="293.4" y2="625" stroke="#f2a8b0" stroke-width="1.05" stroke-linecap="butt"/><rect x="275.95" y="567.55" width="19.8" height="55.7" fill="none" stroke="#000" stroke-width="3.5"/><circle cx="111" cy="561.8" r="2.3" fill="#b0b0b0" stroke="#000" stroke-width="2.3"/><circle cx="111" cy="537.4" r="2.3" fill="#b0b0b0" stroke="#000" stroke-width="2.3"/><circle cx="111" cy="529.5" r="2.3" fill="#b0b0b0" stroke="#000" stroke-width="2.3"/><circle cx="146.3" cy="506.7" r="2.3" fill="#b0b0b0" stroke="#000" stroke-width="2.3"/><circle cx="146.3" cy="516.9" r="2.3" fill="#b0b0b0" stroke="#000" stroke-width="2.3"/><circle cx="146.3" cy="537.4" r="2.3" fill="#b0b0b0" stroke="#000" stroke-width="2.3"/><circle cx="180.7" cy="500.9" r="2.3" fill="#b0b0b0" stroke="#000" stroke-width="2.3"/><circle cx="175.5" cy="541.2" r="2.3" fill="#b0b0b0" stroke="#000" stroke-width="2.3"/><circle cx="186.6" cy="537.4" r="2.3" fill="#b0b0b0" stroke="#000" stroke-width="2.3"/><circle cx="215.8" cy="599.6" r="2.3" fill="#b0b0b0" stroke="#000" stroke-width="2.3"/><circle cx="215.8" cy="613.3" r="2.3" fill="#b0b0b0" stroke="#000" stroke-width="2.3"/><circle cx="215.8" cy="624.5" r="2.3" fill="#b0b0b0" stroke="#000" stroke-width="2.3"/><circle cx="245.5" cy="620" r="2.3" fill="#b0b0b0" stroke="#000" stroke-width="2.3"/><circle cx="255.8" cy="617.7" r="2.3" fill="#b0b0b0" stroke="#000" stroke-width="2.3"/><circle cx="250.7" cy="622" r="2.3" fill="#b0b0b0" stroke="#000" stroke-width="2.3"/><circle cx="285.8" cy="539.4" r="2.3" fill="#b0b0b0" stroke="#000" stroke-width="2.3"/><circle cx="285.8" cy="573.3" r="2.3" fill="#b0b0b0" stroke="#000" stroke-width="2.3"/><circle cx="285.8" cy="582.6" r="2.3" fill="#b0b0b0" stroke="#000" stroke-width="2.3"/><line x1="86.25" y1="625" x2="308.3" y2="625" stroke="#000" stroke-width="3.5" stroke-linecap="butt"/><line x1="111.05" y1="625" x2="111.05" y2="630" stroke="#000" stroke-width="3.5" stroke-linecap="butt"/><line x1="146" y1="625" x2="146" y2="630" stroke="#000" stroke-width="3.5" stroke-linecap="butt"/><line x1="180.7" y1="625" x2="180.7" y2="630" stroke="#000" stroke-width="3.5" stroke-linecap="butt"/><line x1="215.7" y1="625" x2="215.7" y2="630" stroke="#000" stroke-width="3.5" stroke-linecap="butt"/><line x1="250.75" y1="625" x2="250.75" y2="630" stroke="#000" stroke-width="3.5" stroke-linecap="butt"/><line x1="285.85" y1="625" x2="285.85" y2="630" stroke="#000" stroke-width="3.5" stroke-linecap="butt"/><polyline points="111,515.25 111,482.3 212.8,482.3 212.8,589.05" fill="none" stroke="#000" stroke-width="3.5" stroke-linecap="round" stroke-linejoin="miter"/><polyline points="218.7,589.05 218.7,482.3 286.4,482.3 286.4,529.75" fill="none" stroke="#000" stroke-width="3.5" stroke-linecap="round" stroke-linejoin="miter"/><text x="162.1" y="482.7" font-size="25.5" text-anchor="middle" font-weight="bold" fill="#000" stroke="#000" stroke-width="0.3">***</text><text x="252.8" y="482.5" font-size="24" text-anchor="middle" font-weight="bold" fill="#000" stroke="#000" stroke-width="0.3">*</text><text x="0" y="0" font-size="14.11" text-anchor="end" font-weight="bold" fill="#000" transform="translate(115.85 636.5) scale(1.08 1) rotate(-90)" stroke="#000" stroke-width="0.3">+TC</text><text x="0" y="0" font-size="14.07" text-anchor="end" font-weight="bold" fill="#000" transform="translate(150.8 636.5) scale(1.08 1) rotate(-90)" stroke="#000" stroke-width="0.3">+Snord75</text><text x="0" y="0" font-size="14.12" text-anchor="end" font-weight="bold" fill="#000" transform="translate(185.5 636.5) scale(1.08 1) rotate(-90)" stroke="#000" stroke-width="0.3">+Snord67</text><text x="0" y="0" font-size="14.11" text-anchor="end" font-weight="bold" fill="#000" transform="translate(220.5 636.5) scale(1.08 1) rotate(-90)" stroke="#000" stroke-width="0.3">+TC</text><text x="0" y="0" font-size="14.07" text-anchor="end" font-weight="bold" fill="#000" transform="translate(255.55 636.5) scale(1.08 1) rotate(-90)" stroke="#000" stroke-width="0.3">+Snord75</text><text x="0" y="0" font-size="14.12" text-anchor="end" font-weight="bold" fill="#000" transform="translate(290.65 636.5) scale(1.08 1) rotate(-90)" stroke="#000" stroke-width="0.3">+Snord67</text><line x1="98.5" y1="705.8" x2="193.8" y2="705.8" stroke="#000" stroke-width="3.5" stroke-linecap="round"/><line x1="203.3" y1="705.8" x2="301.4" y2="705.8" stroke="#000" stroke-width="3.5" stroke-linecap="round"/><text x="148.85" y="722.2" font-size="13.3" text-anchor="middle" font-weight="bold" fill="#000" textLength="42.16" lengthAdjust="spacingAndGlyphs" stroke="#000" stroke-width="0.3">EO771</text><text x="250.6" y="722.2" font-size="13.3" text-anchor="middle" font-weight="bold" fill="#000" textLength="74.56" lengthAdjust="spacingAndGlyphs" stroke="#000" stroke-width="0.3">Snord67KO</text><text x="0" y="0" font-size="15.81" text-anchor="middle" font-weight="bold" fill="#000" transform="translate(40.9 560.05) scale(1.08 1) rotate(-90)" stroke="#000" stroke-width="0.3">U6 C60 % Me</text><line x1="425" y1="480.05" x2="425" y2="623.4" stroke="#000" stroke-width="3.5" stroke-linecap="butt"/><line x1="420" y1="481.8" x2="425" y2="481.8" stroke="#000" stroke-width="3.5" stroke-linecap="butt"/><text x="407.3" y="486.8" font-size="14.1" text-anchor="end" font-weight="bold" fill="#000" textLength="15.86" lengthAdjust="spacingAndGlyphs" stroke="#000" stroke-width="0.3">30</text><line x1="420" y1="529" x2="425" y2="529" stroke="#000" stroke-width="3.5" stroke-linecap="butt"/><text x="407.3" y="534" font-size="14.1" text-anchor="end" font-weight="bold" fill="#000" textLength="16.01" lengthAdjust="spacingAndGlyphs" stroke="#000" stroke-width="0.3">20</text><line x1="420" y1="576.2" x2="425" y2="576.2" stroke="#000" stroke-width="3.5" stroke-linecap="butt"/><text x="407.3" y="581.2" font-size="14.1" text-anchor="end" font-weight="bold" fill="#000" textLength="16.41" lengthAdjust="spacingAndGlyphs" stroke="#000" stroke-width="0.3">10</text><line x1="420" y1="623.4" x2="425" y2="623.4" stroke="#000" stroke-width="3.5" stroke-linecap="butt"/><text x="407.3" y="628.4" font-size="14.1" text-anchor="end" font-weight="bold" fill="#000" textLength="8.55" lengthAdjust="spacingAndGlyphs" stroke="#000" stroke-width="0.3">0</text><line x1="420.6" y1="505.4" x2="425" y2="505.4" stroke="#000" stroke-width="3.5" stroke-linecap="butt"/><line x1="420.6" y1="552.6" x2="425" y2="552.6" stroke="#000" stroke-width="3.5" stroke-linecap="butt"/><line x1="420.6" y1="599.8" x2="425" y2="599.8" stroke="#000" stroke-width="3.5" stroke-linecap="butt"/><line x1="449.15" y1="510.12" x2="449.15" y2="520.5" stroke="#000" stroke-width="3.5" stroke-linecap="butt"/><line x1="443.9" y1="510.12" x2="454.4" y2="510.12" stroke="#000" stroke-width="3.5" stroke-linecap="round"/><rect x="437" y="520.1" width="24.3" height="103.3" fill="#434749"/><line x1="440.5" y1="621.2" x2="457.8" y2="621.2" stroke="#1a1a1a" stroke-width="1.2" stroke-linecap="butt"/><line x1="440.5" y1="616.9" x2="457.8" y2="616.9" stroke="#1a1a1a" stroke-width="1.2" stroke-linecap="butt"/><line x1="440.5" y1="612.6" x2="457.8" y2="612.6" stroke="#1a1a1a" stroke-width="1.2" stroke-linecap="butt"/><line x1="440.5" y1="608.3" x2="457.8" y2="608.3" stroke="#1a1a1a" stroke-width="1.2" stroke-linecap="butt"/><line x1="440.5" y1="604" x2="457.8" y2="604" stroke="#1a1a1a" stroke-width="1.2" stroke-linecap="butt"/><line x1="440.5" y1="599.7" x2="457.8" y2="599.7" stroke="#1a1a1a" stroke-width="1.2" stroke-linecap="butt"/><line x1="440.5" y1="595.4" x2="457.8" y2="595.4" stroke="#1a1a1a" stroke-width="1.2" stroke-linecap="butt"/><line x1="440.5" y1="591.1" x2="457.8" y2="591.1" stroke="#1a1a1a" stroke-width="1.2" stroke-linecap="butt"/><line x1="440.5" y1="586.8" x2="457.8" y2="586.8" stroke="#1a1a1a" stroke-width="1.2" stroke-linecap="butt"/><line x1="440.5" y1="582.5" x2="457.8" y2="582.5" stroke="#1a1a1a" stroke-width="1.2" stroke-linecap="butt"/><line x1="440.5" y1="578.2" x2="457.8" y2="578.2" stroke="#1a1a1a" stroke-width="1.2" stroke-linecap="butt"/><line x1="440.5" y1="573.9" x2="457.8" y2="573.9" stroke="#1a1a1a" stroke-width="1.2" stroke-linecap="butt"/><line x1="440.5" y1="569.6" x2="457.8" y2="569.6" stroke="#1a1a1a" stroke-width="1.2" stroke-linecap="butt"/><line x1="440.5" y1="565.3" x2="457.8" y2="565.3" stroke="#1a1a1a" stroke-width="1.2" stroke-linecap="butt"/><line x1="440.5" y1="561" x2="457.8" y2="561" stroke="#1a1a1a" stroke-width="1.2" stroke-linecap="butt"/><line x1="440.5" y1="556.7" x2="457.8" y2="556.7" stroke="#1a1a1a" stroke-width="1.2" stroke-linecap="butt"/><line x1="440.5" y1="552.4" x2="457.8" y2="552.4" stroke="#1a1a1a" stroke-width="1.2" stroke-linecap="butt"/><line x1="440.5" y1="548.1" x2="457.8" y2="548.1" stroke="#1a1a1a" stroke-width="1.2" stroke-linecap="butt"/><line x1="440.5" y1="543.8" x2="457.8" y2="543.8" stroke="#1a1a1a" stroke-width="1.2" stroke-linecap="butt"/><line x1="440.5" y1="539.5" x2="457.8" y2="539.5" stroke="#1a1a1a" stroke-width="1.2" stroke-linecap="butt"/><line x1="440.5" y1="535.2" x2="457.8" y2="535.2" stroke="#1a1a1a" stroke-width="1.2" stroke-linecap="butt"/><line x1="440.5" y1="530.9" x2="457.8" y2="530.9" stroke="#1a1a1a" stroke-width="1.2" stroke-linecap="butt"/><line x1="440.5" y1="526.6" x2="457.8" y2="526.6" stroke="#1a1a1a" stroke-width="1.2" stroke-linecap="butt"/><line x1="449.15" y1="523.6" x2="449.15" y2="623.4" stroke="#9a9a9a" stroke-width="0.9" stroke-linecap="butt"/><rect x="438.75" y="521.85" width="20.8" height="99.8" fill="none" stroke="#000" stroke-width="3.5"/><line x1="484.4" y1="507.76" x2="484.4" y2="517.2" stroke="#000" stroke-width="3.5" stroke-linecap="butt"/><line x1="479.15" y1="507.76" x2="489.65" y2="507.76" stroke="#000" stroke-width="3.5" stroke-linecap="round"/><rect x="472.5" y="516.8" width="23.8" height="106.6" fill="#434749"/><line x1="476.4" y1="524.06" x2="492.4" y2="524.06" stroke="#eeeeee" stroke-width="1.2" stroke-linecap="butt"/><line x1="476.4" y1="528.35" x2="492.4" y2="528.35" stroke="#eeeeee" stroke-width="1.2" stroke-linecap="butt"/><line x1="476.4" y1="532.64" x2="492.4" y2="532.64" stroke="#eeeeee" stroke-width="1.2" stroke-linecap="butt"/><line x1="476.4" y1="536.93" x2="492.4" y2="536.93" stroke="#eeeeee" stroke-width="1.2" stroke-linecap="butt"/><line x1="476.4" y1="541.22" x2="492.4" y2="541.22" stroke="#eeeeee" stroke-width="1.2" stroke-linecap="butt"/><line x1="476.4" y1="545.51" x2="492.4" y2="545.51" stroke="#eeeeee" stroke-width="1.2" stroke-linecap="butt"/><line x1="476.4" y1="549.8" x2="492.4" y2="549.8" stroke="#eeeeee" stroke-width="1.2" stroke-linecap="butt"/><line x1="476.4" y1="554.09" x2="492.4" y2="554.09" stroke="#eeeeee" stroke-width="1.2" stroke-linecap="butt"/><line x1="476.4" y1="558.38" x2="492.4" y2="558.38" stroke="#eeeeee" stroke-width="1.2" stroke-linecap="butt"/><line x1="476.4" y1="562.67" x2="492.4" y2="562.67" stroke="#eeeeee" stroke-width="1.2" stroke-linecap="butt"/><line x1="476.4" y1="566.96" x2="492.4" y2="566.96" stroke="#eeeeee" stroke-width="1.2" stroke-linecap="butt"/><line x1="476.4" y1="571.25" x2="492.4" y2="571.25" stroke="#eeeeee" stroke-width="1.2" stroke-linecap="butt"/><line x1="476.4" y1="575.54" x2="492.4" y2="575.54" stroke="#eeeeee" stroke-width="1.2" stroke-linecap="butt"/><line x1="476.4" y1="579.83" x2="492.4" y2="579.83" stroke="#eeeeee" stroke-width="1.2" stroke-linecap="butt"/><line x1="476.4" y1="584.12" x2="492.4" y2="584.12" stroke="#eeeeee" stroke-width="1.2" stroke-linecap="butt"/><line x1="476.4" y1="588.41" x2="492.4" y2="588.41" stroke="#eeeeee" stroke-width="1.2" stroke-linecap="butt"/><line x1="476.4" y1="592.7" x2="492.4" y2="592.7" stroke="#eeeeee" stroke-width="1.2" stroke-linecap="butt"/><line x1="476.4" y1="596.99" x2="492.4" y2="596.99" stroke="#eeeeee" stroke-width="1.2" stroke-linecap="butt"/><line x1="476.4" y1="601.28" x2="492.4" y2="601.28" stroke="#eeeeee" stroke-width="1.2" stroke-linecap="butt"/><line x1="476.4" y1="605.57" x2="492.4" y2="605.57" stroke="#eeeeee" stroke-width="1.2" stroke-linecap="butt"/><line x1="476.4" y1="609.86" x2="492.4" y2="609.86" stroke="#eeeeee" stroke-width="1.2" stroke-linecap="butt"/><line x1="476.4" y1="614.15" x2="492.4" y2="614.15" stroke="#eeeeee" stroke-width="1.2" stroke-linecap="butt"/><line x1="476.4" y1="618.44" x2="492.4" y2="618.44" stroke="#eeeeee" stroke-width="1.2" stroke-linecap="butt"/><line x1="476.4" y1="622.73" x2="492.4" y2="622.73" stroke="#eeeeee" stroke-width="1.2" stroke-linecap="butt"/><rect x="474.25" y="518.55" width="20.3" height="103.1" fill="none" stroke="#000" stroke-width="3.5"/><line x1="519.6" y1="500.68" x2="519.6" y2="518.62" stroke="#000" stroke-width="3.5" stroke-linecap="butt"/><line x1="514.35" y1="500.68" x2="524.85" y2="500.68" stroke="#000" stroke-width="3.5" stroke-linecap="round"/><rect x="507.3" y="518.22" width="24.6" height="105.18" fill="#434749"/><line x1="514.7" y1="521.72" x2="514.7" y2="623.4" stroke="#f0f0f0" stroke-width="1.05" stroke-linecap="butt"/><line x1="518.9" y1="521.72" x2="518.9" y2="623.4" stroke="#c8c8c8" stroke-width="1.05" stroke-linecap="butt"/><line x1="523.1" y1="521.72" x2="523.1" y2="623.4" stroke="#d4d4d4" stroke-width="1.05" stroke-linecap="butt"/><line x1="527.4" y1="521.72" x2="527.4" y2="623.4" stroke="#f0f0f0" stroke-width="1.05" stroke-linecap="butt"/><rect x="509.05" y="519.97" width="21.1" height="101.68" fill="none" stroke="#000" stroke-width="3.5"/><line x1="578.65" y1="559.68" x2="578.65" y2="570.06" stroke="#000" stroke-width="3.5" stroke-linecap="butt"/><line x1="573.4" y1="559.68" x2="583.9" y2="559.68" stroke="#000" stroke-width="3.5" stroke-linecap="round"/><rect x="566.6" y="569.66" width="24.1" height="53.74" fill="#eb3536"/><rect x="568.35" y="571.41" width="20.6" height="50.24" fill="none" stroke="#000" stroke-width="3.5"/><line x1="614.3" y1="566.76" x2="614.3" y2="568.18" stroke="#000" stroke-width="3.5" stroke-linecap="butt"/><line x1="609.05" y1="566.76" x2="619.55" y2="566.76" stroke="#000" stroke-width="3.5" stroke-linecap="round"/><rect x="602.2" y="567.78" width="24.2" height="55.62" fill="#e62838"/><line x1="606.1" y1="575.54" x2="622.5" y2="575.54" stroke="#ffffff" stroke-width="1.2" stroke-linecap="butt"/><line x1="606.1" y1="579.83" x2="622.5" y2="579.83" stroke="#ffffff" stroke-width="1.2" stroke-linecap="butt"/><line x1="606.1" y1="584.12" x2="622.5" y2="584.12" stroke="#ffffff" stroke-width="1.2" stroke-linecap="butt"/><line x1="606.1" y1="588.41" x2="622.5" y2="588.41" stroke="#ffffff" stroke-width="1.2" stroke-linecap="butt"/><line x1="606.1" y1="592.7" x2="622.5" y2="592.7" stroke="#ffffff" stroke-width="1.2" stroke-linecap="butt"/><line x1="606.1" y1="596.99" x2="622.5" y2="596.99" stroke="#ffffff" stroke-width="1.2" stroke-linecap="butt"/><line x1="606.1" y1="601.28" x2="622.5" y2="601.28" stroke="#ffffff" stroke-width="1.2" stroke-linecap="butt"/><line x1="606.1" y1="605.57" x2="622.5" y2="605.57" stroke="#ffffff" stroke-width="1.2" stroke-linecap="butt"/><line x1="606.1" y1="609.86" x2="622.5" y2="609.86" stroke="#ffffff" stroke-width="1.2" stroke-linecap="butt"/><line x1="606.1" y1="614.15" x2="622.5" y2="614.15" stroke="#ffffff" stroke-width="1.2" stroke-linecap="butt"/><line x1="606.1" y1="618.44" x2="622.5" y2="618.44" stroke="#ffffff" stroke-width="1.2" stroke-linecap="butt"/><line x1="606.1" y1="622.73" x2="622.5" y2="622.73" stroke="#ffffff" stroke-width="1.2" stroke-linecap="butt"/><rect x="603.95" y="569.53" width="20.7" height="52.12" fill="none" stroke="#000" stroke-width="3.5"/><line x1="649.85" y1="533.72" x2="649.85" y2="546.46" stroke="#000" stroke-width="3.5" stroke-linecap="butt"/><line x1="644.6" y1="533.72" x2="655.1" y2="533.72" stroke="#000" stroke-width="3.5" stroke-linecap="round"/><rect x="637.8" y="546.06" width="24.1" height="77.34" fill="#e62838"/><line x1="643.3" y1="549.56" x2="643.3" y2="623.4" stroke="#f8c4cc" stroke-width="1.05" stroke-linecap="butt"/><line x1="647.6" y1="549.56" x2="647.6" y2="623.4" stroke="#ffffff" stroke-width="1.05" stroke-linecap="butt"/><line x1="651.7" y1="549.56" x2="651.7" y2="623.4" stroke="#fbd0d8" stroke-width="1.05" stroke-linecap="butt"/><line x1="655.9" y1="549.56" x2="655.9" y2="623.4" stroke="#f4a8b0" stroke-width="1.05" stroke-linecap="butt"/><rect x="639.55" y="547.81" width="20.6" height="73.84" fill="none" stroke="#000" stroke-width="3.5"/><circle cx="439" cy="527.5" r="2.3" fill="#b0b0b0" stroke="#000" stroke-width="2.3"/><circle cx="448.1" cy="527.5" r="2.3" fill="#b0b0b0" stroke="#000" stroke-width="2.3"/><circle cx="457.5" cy="527.5" r="2.3" fill="#b0b0b0" stroke="#000" stroke-width="2.3"/><circle cx="448.1" cy="519" r="2.3" fill="#b0b0b0" stroke="#000" stroke-width="2.3"/><circle cx="453.8" cy="508.4" r="2.3" fill="#b0b0b0" stroke="#000" stroke-width="2.3"/><circle cx="458.5" cy="507.2" r="2.3" fill="#b0b0b0" stroke="#000" stroke-width="2.3"/><circle cx="474.7" cy="525.8" r="2.3" fill="#b0b0b0" stroke="#000" stroke-width="2.3"/><circle cx="480.4" cy="520.8" r="2.3" fill="#b0b0b0" stroke="#000" stroke-width="2.3"/><circle cx="486.6" cy="521.6" r="2.3" fill="#b0b0b0" stroke="#000" stroke-width="2.3"/><circle cx="493.5" cy="521.6" r="2.3" fill="#b0b0b0" stroke="#000" stroke-width="2.3"/><circle cx="481.6" cy="507.2" r="2.3" fill="#b0b0b0" stroke="#000" stroke-width="2.3"/><circle cx="487.3" cy="504.2" r="2.3" fill="#b0b0b0" stroke="#000" stroke-width="2.3"/><circle cx="510.2" cy="500.5" r="2.3" fill="#b0b0b0" stroke="#000" stroke-width="2.3"/><circle cx="519.6" cy="504.9" r="2.3" fill="#b0b0b0" stroke="#000" stroke-width="2.3"/><circle cx="529" cy="504.4" r="2.3" fill="#b0b0b0" stroke="#000" stroke-width="2.3"/><circle cx="510.2" cy="534.9" r="2.3" fill="#b0b0b0" stroke="#000" stroke-width="2.3"/><circle cx="519.6" cy="531.8" r="2.3" fill="#b0b0b0" stroke="#000" stroke-width="2.3"/><circle cx="529" cy="534.7" r="2.3" fill="#b0b0b0" stroke="#000" stroke-width="2.3"/><circle cx="574" cy="558" r="2.3" fill="#b0b0b0" stroke="#000" stroke-width="2.3"/><circle cx="583.9" cy="558" r="2.3" fill="#b0b0b0" stroke="#000" stroke-width="2.3"/><circle cx="578.9" cy="567.2" r="2.3" fill="#b0b0b0" stroke="#000" stroke-width="2.3"/><circle cx="569.5" cy="580.4" r="2.3" fill="#b0b0b0" stroke="#000" stroke-width="2.3"/><circle cx="578.9" cy="580.4" r="2.3" fill="#b0b0b0" stroke="#000" stroke-width="2.3"/><circle cx="588.1" cy="580.4" r="2.3" fill="#b0b0b0" stroke="#000" stroke-width="2.3"/><circle cx="604.7" cy="569.2" r="2.3" fill="#b0b0b0" stroke="#000" stroke-width="2.3"/><circle cx="609.2" cy="566.7" r="2.3" fill="#b0b0b0" stroke="#000" stroke-width="2.3"/><circle cx="614.2" cy="568.5" r="2.3" fill="#b0b0b0" stroke="#000" stroke-width="2.3"/><circle cx="619.1" cy="567.2" r="2.3" fill="#b0b0b0" stroke="#000" stroke-width="2.3"/><circle cx="623.6" cy="564.2" r="2.3" fill="#b0b0b0" stroke="#000" stroke-width="2.3"/><circle cx="624.1" cy="570.4" r="2.3" fill="#b0b0b0" stroke="#000" stroke-width="2.3"/><circle cx="645.2" cy="538.9" r="2.3" fill="#b0b0b0" stroke="#000" stroke-width="2.3"/><circle cx="649.7" cy="530.7" r="2.3" fill="#b0b0b0" stroke="#000" stroke-width="2.3"/><circle cx="655.1" cy="536.4" r="2.3" fill="#b0b0b0" stroke="#000" stroke-width="2.3"/><circle cx="644.7" cy="553" r="2.3" fill="#b0b0b0" stroke="#000" stroke-width="2.3"/><circle cx="644.7" cy="560.5" r="2.3" fill="#b0b0b0" stroke="#000" stroke-width="2.3"/><circle cx="655.1" cy="556.3" r="2.3" fill="#b0b0b0" stroke="#000" stroke-width="2.3"/><line x1="423.25" y1="623.4" x2="672" y2="623.4" stroke="#000" stroke-width="3.5" stroke-linecap="butt"/><line x1="449.15" y1="623.4" x2="449.15" y2="628.4" stroke="#000" stroke-width="3.5" stroke-linecap="butt"/><line x1="484.4" y1="623.4" x2="484.4" y2="628.4" stroke="#000" stroke-width="3.5" stroke-linecap="butt"/><line x1="519.6" y1="623.4" x2="519.6" y2="628.4" stroke="#000" stroke-width="3.5" stroke-linecap="butt"/><line x1="578.65" y1="623.4" x2="578.65" y2="628.4" stroke="#000" stroke-width="3.5" stroke-linecap="butt"/><line x1="614.3" y1="623.4" x2="614.3" y2="628.4" stroke="#000" stroke-width="3.5" stroke-linecap="butt"/><line x1="649.85" y1="623.4" x2="649.85" y2="628.4" stroke="#000" stroke-width="3.5" stroke-linecap="butt"/><polyline points="448.1,499.25 448.1,477.7 575.2,477.7 575.2,542.65" fill="none" stroke="#000" stroke-width="3.5" stroke-linecap="round" stroke-linejoin="miter"/><polyline points="579.4,542.65 579.4,477.7 650.9,477.7 650.9,519.05" fill="none" stroke="#000" stroke-width="3.5" stroke-linecap="round" stroke-linejoin="miter"/><text x="512" y="478.3" font-size="25.5" text-anchor="middle" font-weight="bold" fill="#000" stroke="#000" stroke-width="0.3">****</text><text x="615.7" y="478.1" font-size="24.7" text-anchor="middle" font-weight="bold" fill="#000" stroke="#000" stroke-width="0.3">**</text><text x="0" y="0" font-size="14.11" text-anchor="end" font-weight="bold" fill="#000" transform="translate(453.95 635.8) scale(1.08 1) rotate(-90)" stroke="#000" stroke-width="0.3">+TC</text><text x="0" y="0" font-size="13.83" text-anchor="end" font-weight="bold" fill="#000" transform="translate(489.2 635.8) scale(1.08 1) rotate(-90)" stroke="#000" stroke-width="0.3">+Snord75</text><text x="0" y="0" font-size="13.87" text-anchor="end" font-weight="bold" fill="#000" transform="translate(524.4 635.8) scale(1.08 1) rotate(-90)" stroke="#000" stroke-width="0.3">+Snord67</text><text x="0" y="0" font-size="14.11" text-anchor="end" font-weight="bold" fill="#000" transform="translate(583.45 635.8) scale(1.08 1) rotate(-90)" stroke="#000" stroke-width="0.3">+TC</text><text x="0" y="0" font-size="13.83" text-anchor="end" font-weight="bold" fill="#000" transform="translate(619.1 635.8) scale(1.08 1) rotate(-90)" stroke="#000" stroke-width="0.3">+Snord75</text><text x="0" y="0" font-size="13.87" text-anchor="end" font-weight="bold" fill="#000" transform="translate(654.65 635.8) scale(1.08 1) rotate(-90)" stroke="#000" stroke-width="0.3">+Snord67</text><line x1="436.1" y1="705.4" x2="533.3" y2="705.4" stroke="#000" stroke-width="3.5" stroke-linecap="round"/><line x1="566.2" y1="705.4" x2="664.5" y2="705.4" stroke="#000" stroke-width="3.5" stroke-linecap="round"/><text x="487.3" y="721.4" font-size="13.3" text-anchor="middle" font-weight="bold" fill="#000" textLength="43.09" lengthAdjust="spacingAndGlyphs" stroke="#000" stroke-width="0.3">EO771</text><text x="614" y="721.4" font-size="13.3" text-anchor="middle" font-weight="bold" fill="#000" textLength="75.58" lengthAdjust="spacingAndGlyphs" stroke="#000" stroke-width="0.3">Snord67KO</text><text x="0" y="0" font-size="15.62" text-anchor="middle" font-weight="bold" fill="#000" transform="translate(385 558.05) scale(1.08 1) rotate(-90)" stroke="#000" stroke-width="0.3">% Area</text><text x="5.7" y="762.5" font-size="23" text-anchor="start" font-weight="bold" fill="#000" textLength="17.86" lengthAdjust="spacingAndGlyphs" stroke="#000" stroke-width="0.3">G</text><line x1="73.4" y1="753" x2="73.4" y2="918.6" stroke="#000" stroke-width="3.3" stroke-linecap="butt"/><line x1="65.3" y1="754.65" x2="73.4" y2="754.65" stroke="#000" stroke-width="3.3" stroke-linecap="butt"/><text x="62.8" y="758.9" font-size="11.9" text-anchor="end" font-weight="bold" fill="#000" textLength="17.04" lengthAdjust="spacingAndGlyphs" stroke="#000" stroke-width="0.3">1.5</text><line x1="65.3" y1="809.3" x2="73.4" y2="809.3" stroke="#000" stroke-width="3.3" stroke-linecap="butt"/><text x="62.8" y="813.55" font-size="11.9" text-anchor="end" font-weight="bold" fill="#000" textLength="17.24" lengthAdjust="spacingAndGlyphs" stroke="#000" stroke-width="0.3">1.0</text><line x1="65.3" y1="863.95" x2="73.4" y2="863.95" stroke="#000" stroke-width="3.3" stroke-linecap="butt"/><text x="62.8" y="868.2" font-size="11.9" text-anchor="end" font-weight="bold" fill="#000" textLength="16.79" lengthAdjust="spacingAndGlyphs" stroke="#000" stroke-width="0.3">0.5</text><line x1="65.3" y1="918.6" x2="73.4" y2="918.6" stroke="#000" stroke-width="3.3" stroke-linecap="butt"/><text x="62.8" y="922.85" font-size="11.9" text-anchor="end" font-weight="bold" fill="#000" textLength="16.98" lengthAdjust="spacingAndGlyphs" stroke="#000" stroke-width="0.3">0.0</text><line x1="104.4" y1="794.05" x2="104.4" y2="809.3" stroke="#000" stroke-width="3.3" stroke-linecap="butt"/><line x1="96.55" y1="794.05" x2="112.25" y2="794.05" stroke="#000" stroke-width="3.3" stroke-linecap="round"/><rect x="88.8" y="809.5" width="31.6" height="109.1" fill="#434749"/><rect x="90.45" y="811.15" width="28.3" height="105.8" fill="none" stroke="#000" stroke-width="3.3"/><rect x="135.9" y="912.3" width="31" height="6.3" fill="#eb3536"/><rect x="137.55" y="913.95" width="27.7" height="3" fill="none" stroke="#000" stroke-width="3.3"/><line x1="71.75" y1="918.6" x2="182.4" y2="918.6" stroke="#000" stroke-width="3.3" stroke-linecap="butt"/><line x1="104.2" y1="918.6" x2="104.2" y2="927.1" stroke="#000" stroke-width="3.3" stroke-linecap="butt"/><line x1="151.1" y1="918.6" x2="151.1" y2="927.1" stroke="#000" stroke-width="3.3" stroke-linecap="butt"/><circle cx="104.5" cy="795.4" r="2.25" fill="#b0b0b0" stroke="#000" stroke-width="2.15"/><circle cx="104.5" cy="807.2" r="2.25" fill="#b0b0b0" stroke="#000" stroke-width="2.15"/><circle cx="104.5" cy="826.6" r="2.25" fill="#b0b0b0" stroke="#000" stroke-width="2.15"/><circle cx="141.2" cy="913.2" r="2.25" fill="#b0b0b0" stroke="#000" stroke-width="2.15"/><circle cx="151.5" cy="911.9" r="2.25" fill="#b0b0b0" stroke="#000" stroke-width="2.15"/><circle cx="161.5" cy="913.2" r="2.25" fill="#b0b0b0" stroke="#000" stroke-width="2.15"/><polyline points="104.6,784.25 104.6,775 151.5,775 151.5,902.05" fill="none" stroke="#000" stroke-width="3.3" stroke-linecap="round" stroke-linejoin="miter"/><text x="128" y="775.6" font-size="25.2" text-anchor="middle" font-weight="bold" fill="#000" stroke="#000" stroke-width="0.3">***</text><text x="107.3" y="936.9" font-size="12.3" text-anchor="end" font-weight="bold" fill="#000" transform="rotate(-45 107.3 936.9)" stroke="#000" stroke-width="0.3">D3H2</text><text x="153.5" y="936.9" font-size="12.1" text-anchor="end" font-weight="bold" fill="#000" transform="rotate(-45 153.5 936.9)" stroke="#000" stroke-width="0.3">Snord67KO</text><text x="0" y="0" font-size="15.35" text-anchor="middle" font-weight="bold" fill="#000" transform="translate(38.5 836.5) scale(1.08 1) rotate(-90)" stroke="#000" stroke-width="0.3">Snord67 expression (RQ)</text><text x="179.7" y="762.8" font-size="23.3" text-anchor="start" font-weight="bold" fill="#000" textLength="16.89" lengthAdjust="spacingAndGlyphs" stroke="#000" stroke-width="0.3">H</text><line x1="239.9" y1="765" x2="239.9" y2="916.6" stroke="#000" stroke-width="3.4" stroke-linecap="butt"/><line x1="230.7" y1="766.7" x2="239.9" y2="766.7" stroke="#000" stroke-width="3.4" stroke-linecap="butt"/><text x="228.9" y="771.3" font-size="12.8" text-anchor="end" font-weight="bold" fill="#000" textLength="22.39" lengthAdjust="spacingAndGlyphs" stroke="#000" stroke-width="0.3">100</text><line x1="230.7" y1="796.68" x2="239.9" y2="796.68" stroke="#000" stroke-width="3.4" stroke-linecap="butt"/><text x="228.9" y="801.28" font-size="12.8" text-anchor="end" font-weight="bold" fill="#000" textLength="15.08" lengthAdjust="spacingAndGlyphs" stroke="#000" stroke-width="0.3">80</text><line x1="230.7" y1="826.66" x2="239.9" y2="826.66" stroke="#000" stroke-width="3.4" stroke-linecap="butt"/><text x="228.9" y="831.26" font-size="12.8" text-anchor="end" font-weight="bold" fill="#000" textLength="15.15" lengthAdjust="spacingAndGlyphs" stroke="#000" stroke-width="0.3">60</text><line x1="230.7" y1="856.64" x2="239.9" y2="856.64" stroke="#000" stroke-width="3.4" stroke-linecap="butt"/><text x="228.9" y="861.24" font-size="12.8" text-anchor="end" font-weight="bold" fill="#000" textLength="14.87" lengthAdjust="spacingAndGlyphs" stroke="#000" stroke-width="0.3">40</text><line x1="230.7" y1="886.62" x2="239.9" y2="886.62" stroke="#000" stroke-width="3.4" stroke-linecap="butt"/><text x="228.9" y="891.22" font-size="12.8" text-anchor="end" font-weight="bold" fill="#000" textLength="15.15" lengthAdjust="spacingAndGlyphs" stroke="#000" stroke-width="0.3">20</text><line x1="230.7" y1="916.6" x2="239.9" y2="916.6" stroke="#000" stroke-width="3.4" stroke-linecap="butt"/><text x="228.9" y="921.2" font-size="12.8" text-anchor="end" font-weight="bold" fill="#000" textLength="8.43" lengthAdjust="spacingAndGlyphs" stroke="#000" stroke-width="0.3">0</text><line x1="272.2" y1="801.7" x2="272.2" y2="810.62" stroke="#000" stroke-width="3.4" stroke-linecap="butt"/><line x1="264.25" y1="801.7" x2="280.15" y2="801.7" stroke="#000" stroke-width="3.4" stroke-linecap="round"/><rect x="256.1" y="810.32" width="32.7" height="106.28" fill="#434749"/><rect x="257.8" y="812.02" width="29.3" height="102.88" fill="none" stroke="#000" stroke-width="3.4"/><rect x="304.9" y="910.6" width="33" height="6" fill="#eb3536"/><rect x="306.6" y="912.3" width="29.6" height="2.6" fill="none" stroke="#000" stroke-width="3.4"/><line x1="238.2" y1="916.6" x2="353.4" y2="916.6" stroke="#000" stroke-width="3.4" stroke-linecap="butt"/><line x1="272.2" y1="916.6" x2="272.2" y2="925.4" stroke="#000" stroke-width="3.4" stroke-linecap="butt"/><line x1="321" y1="916.6" x2="321" y2="925.4" stroke="#000" stroke-width="3.4" stroke-linecap="butt"/><circle cx="267.8" cy="803.4" r="2.25" fill="#b0b0b0" stroke="#000" stroke-width="2.15"/><circle cx="278" cy="808" r="2.25" fill="#b0b0b0" stroke="#000" stroke-width="2.15"/><circle cx="272.2" cy="819.7" r="2.25" fill="#b0b0b0" stroke="#000" stroke-width="2.15"/><circle cx="311" cy="910.5" r="2.25" fill="#b0b0b0" stroke="#000" stroke-width="2.15"/><circle cx="321.2" cy="909.6" r="2.25" fill="#b0b0b0" stroke="#000" stroke-width="2.15"/><circle cx="330.6" cy="910.5" r="2.25" fill="#b0b0b0" stroke="#000" stroke-width="2.15"/><polyline points="272.4,792.2 272.4,782.6 321,782.6 321,898.9" fill="none" stroke="#000" stroke-width="3.4" stroke-linecap="round" stroke-linejoin="miter"/><text x="297" y="783.1" font-size="26" text-anchor="middle" font-weight="bold" fill="#000" stroke="#000" stroke-width="0.3">****</text><text x="275.5" y="935.6" font-size="12.9" text-anchor="end" font-weight="bold" fill="#000" transform="rotate(-45 275.5 935.6)" stroke="#000" stroke-width="0.3">D3H2</text><text x="323.9" y="935.6" font-size="12.9" text-anchor="end" font-weight="bold" fill="#000" transform="rotate(-45 323.9 935.6)" stroke="#000" stroke-width="0.3">Snord67KO</text><text x="0" y="0" font-size="13.57" text-anchor="middle" font-weight="bold" fill="#000" transform="translate(200 841.5) scale(1.08 1) rotate(-90)" stroke="#000" stroke-width="0.3">U6 C60 % Me</text><text x="358.4" y="762.1" font-size="23.5" text-anchor="start" font-weight="bold" fill="#000" textLength="7.47" lengthAdjust="spacingAndGlyphs" stroke="#000" stroke-width="0.3">I</text><line x1="424.1" y1="753.3" x2="424.1" y2="916.6" stroke="#000" stroke-width="3.2" stroke-linecap="butt"/><line x1="415" y1="754.9" x2="424.1" y2="754.9" stroke="#000" stroke-width="3.2" stroke-linecap="butt"/><text x="413.3" y="758.9" font-size="11.2" text-anchor="end" font-weight="bold" fill="#000" textLength="27.17" lengthAdjust="spacingAndGlyphs" stroke="#000" stroke-width="0.3">4000</text><line x1="415" y1="795.33" x2="424.1" y2="795.33" stroke="#000" stroke-width="3.2" stroke-linecap="butt"/><text x="413.3" y="799.33" font-size="11.2" text-anchor="end" font-weight="bold" fill="#000" textLength="27.29" lengthAdjust="spacingAndGlyphs" stroke="#000" stroke-width="0.3">3000</text><line x1="415" y1="835.75" x2="424.1" y2="835.75" stroke="#000" stroke-width="3.2" stroke-linecap="butt"/><text x="413.3" y="839.75" font-size="11.2" text-anchor="end" font-weight="bold" fill="#000" textLength="27.42" lengthAdjust="spacingAndGlyphs" stroke="#000" stroke-width="0.3">2000</text><line x1="415" y1="876.18" x2="424.1" y2="876.18" stroke="#000" stroke-width="3.2" stroke-linecap="butt"/><text x="413.3" y="880.18" font-size="11.2" text-anchor="end" font-weight="bold" fill="#000" textLength="27.74" lengthAdjust="spacingAndGlyphs" stroke="#000" stroke-width="0.3">1000</text><line x1="415" y1="916.6" x2="424.1" y2="916.6" stroke="#000" stroke-width="3.2" stroke-linecap="butt"/><text x="413.3" y="920.6" font-size="11.2" text-anchor="end" font-weight="bold" fill="#000" textLength="7.73" lengthAdjust="spacingAndGlyphs" stroke="#000" stroke-width="0.3">0</text><line x1="454.5" y1="814.8" x2="454.5" y2="831.71" stroke="#000" stroke-width="3.2" stroke-linecap="butt"/><line x1="447.75" y1="814.8" x2="461.25" y2="814.8" stroke="#000" stroke-width="3.2" stroke-linecap="round"/><rect x="438.8" y="831.3" width="31.3" height="85.3" fill="#434749"/><rect x="440.4" y="832.9" width="28.1" height="82.1" fill="none" stroke="#000" stroke-width="3.2"/><line x1="500.8" y1="839.3" x2="500.8" y2="850.6" stroke="#000" stroke-width="3.2" stroke-linecap="butt"/><line x1="494.05" y1="839.3" x2="507.55" y2="839.3" stroke="#000" stroke-width="3.2" stroke-linecap="round"/><rect x="485.5" y="850.6" width="30.6" height="66" fill="#eb3536"/><rect x="487.1" y="852.2" width="27.4" height="62.8" fill="none" stroke="#000" stroke-width="3.2"/><line x1="422.5" y1="916.6" x2="531.6" y2="916.6" stroke="#000" stroke-width="3.2" stroke-linecap="butt"/><line x1="454.3" y1="916.6" x2="454.3" y2="925.4" stroke="#000" stroke-width="3.2" stroke-linecap="butt"/><line x1="501" y1="916.6" x2="501" y2="925.4" stroke="#000" stroke-width="3.2" stroke-linecap="butt"/><circle cx="454.5" cy="801" r="2.3" fill="#b0b0b0" stroke="#000" stroke-width="2.4"/><circle cx="454.5" cy="808.2" r="2.3" fill="#b0b0b0" stroke="#000" stroke-width="2.4"/><circle cx="449.7" cy="809.7" r="2.3" fill="#b0b0b0" stroke="#000" stroke-width="2.4"/><circle cx="459.2" cy="811.9" r="2.3" fill="#b0b0b0" stroke="#000" stroke-width="2.4"/><circle cx="454.5" cy="813.4" r="2.3" fill="#b0b0b0" stroke="#000" stroke-width="2.4"/><circle cx="447.5" cy="814.8" r="2.3" fill="#b0b0b0" stroke="#000" stroke-width="2.4"/><circle cx="461.4" cy="815.1" r="2.3" fill="#b0b0b0" stroke="#000" stroke-width="2.4"/><circle cx="450.4" cy="818.5" r="2.3" fill="#b0b0b0" stroke="#000" stroke-width="2.4"/><circle cx="454.5" cy="821.4" r="2.3" fill="#b0b0b0" stroke="#000" stroke-width="2.4"/><circle cx="454.5" cy="827.2" r="2.3" fill="#b0b0b0" stroke="#000" stroke-width="2.4"/><circle cx="459.2" cy="829.4" r="2.3" fill="#b0b0b0" stroke="#000" stroke-width="2.4"/><circle cx="454.5" cy="833.1" r="2.3" fill="#b0b0b0" stroke="#000" stroke-width="2.4"/><circle cx="454.5" cy="838.9" r="2.3" fill="#b0b0b0" stroke="#000" stroke-width="2.4"/><circle cx="459.2" cy="838.9" r="2.3" fill="#b0b0b0" stroke="#000" stroke-width="2.4"/><circle cx="441.7" cy="842.6" r="2.3" fill="#b0b0b0" stroke="#000" stroke-width="2.4"/><circle cx="446.1" cy="846.2" r="2.3" fill="#b0b0b0" stroke="#000" stroke-width="2.4"/><circle cx="450.4" cy="844" r="2.3" fill="#b0b0b0" stroke="#000" stroke-width="2.4"/><circle cx="454.5" cy="843.3" r="2.3" fill="#b0b0b0" stroke="#000" stroke-width="2.4"/><circle cx="459.2" cy="845.2" r="2.3" fill="#b0b0b0" stroke="#000" stroke-width="2.4"/><circle cx="463.6" cy="846.6" r="2.3" fill="#b0b0b0" stroke="#000" stroke-width="2.4"/><circle cx="468" cy="846.2" r="2.3" fill="#b0b0b0" stroke="#000" stroke-width="2.4"/><circle cx="454.5" cy="848.1" r="2.3" fill="#b0b0b0" stroke="#000" stroke-width="2.4"/><circle cx="454.5" cy="853.5" r="2.3" fill="#b0b0b0" stroke="#000" stroke-width="2.4"/><circle cx="495.7" cy="836.4" r="2.3" fill="#b0b0b0" stroke="#000" stroke-width="2.4"/><circle cx="505.9" cy="836.4" r="2.3" fill="#b0b0b0" stroke="#000" stroke-width="2.4"/><circle cx="492.8" cy="839.3" r="2.3" fill="#b0b0b0" stroke="#000" stroke-width="2.4"/><circle cx="508.8" cy="839.3" r="2.3" fill="#b0b0b0" stroke="#000" stroke-width="2.4"/><circle cx="495.7" cy="844.3" r="2.3" fill="#b0b0b0" stroke="#000" stroke-width="2.4"/><circle cx="505.9" cy="844.7" r="2.3" fill="#b0b0b0" stroke="#000" stroke-width="2.4"/><circle cx="510.3" cy="852" r="2.3" fill="#b0b0b0" stroke="#000" stroke-width="2.4"/><circle cx="491.3" cy="856.4" r="2.3" fill="#b0b0b0" stroke="#000" stroke-width="2.4"/><circle cx="500.8" cy="858.9" r="2.3" fill="#b0b0b0" stroke="#000" stroke-width="2.4"/><circle cx="510" cy="857.4" r="2.3" fill="#b0b0b0" stroke="#000" stroke-width="2.4"/><circle cx="500.8" cy="870.6" r="2.3" fill="#b0b0b0" stroke="#000" stroke-width="2.4"/><polyline points="454.7,790.2 454.7,781.8 500.2,781.8 500.2,826.4" fill="none" stroke="#000" stroke-width="3.2" stroke-linecap="round" stroke-linejoin="miter"/><text x="477.8" y="782.2" font-size="24" text-anchor="middle" font-weight="bold" fill="#000" stroke="#000" stroke-width="0.3">**</text><text x="457.7" y="935.4" font-size="12.3" text-anchor="end" font-weight="bold" fill="#000" transform="rotate(-45 457.7 935.4)" stroke="#000" stroke-width="0.3">D3H2</text><text x="502.9" y="935.4" font-size="12.3" text-anchor="end" font-weight="bold" fill="#000" transform="rotate(-45 502.9 935.4)" stroke="#000" stroke-width="0.3">Snord67KO</text><text x="0" y="0" font-size="13.28" text-anchor="middle" font-weight="bold" fill="#000" transform="translate(379.8 834.9) scale(1.08 1) rotate(-90)" stroke="#000" stroke-width="0.3">Mean area</text><text x="382.9" y="237.9" font-size="22.4" text-anchor="start" font-weight="bold" fill="#000" textLength="13.65" lengthAdjust="spacingAndGlyphs" stroke="#000" stroke-width="0.3">F</text><text x="455.9" y="255.8" font-size="14" text-anchor="middle" font-weight="bold" fill="#000" textLength="29.22" lengthAdjust="spacingAndGlyphs" stroke="#000" stroke-width="0.3">+TC</text><text x="544.65" y="255.8" font-size="14" text-anchor="middle" font-weight="bold" fill="#000" textLength="70.7" lengthAdjust="spacingAndGlyphs" stroke="#000" stroke-width="0.3">+Snord75</text><text x="626.8" y="255.8" font-size="14" text-anchor="middle" font-weight="bold" fill="#000" textLength="72.26" lengthAdjust="spacingAndGlyphs" stroke="#000" stroke-width="0.3">+Snord67</text><text x="0" y="0" font-size="14.93" text-anchor="middle" font-weight="bold" fill="#000" transform="translate(419 300.45) scale(1.08 1) rotate(-90)" stroke="#000" stroke-width="0.3">EO771</text><text x="0" y="0" font-size="14.95" text-anchor="middle" font-weight="bold" fill="#000" transform="translate(420 388.4) scale(1.08 1) rotate(-90)" stroke="#000" stroke-width="0.3">Snord67KO</text><g clip-path="url(#w1)"><rect x="422.3" y="258.7" width="82.4" height="82.4" fill="#c9cbd4"/><rect x="422.3" y="258.7" width="82.4" height="82.4" filter="url(#w1n0)"/><rect x="422.3" y="258.7" width="82.4" height="82.4" filter="url(#w1n1)"/><g filter="url(#bl)"><circle cx="434.04" cy="308.79" r="1.83" fill="#7478a6" fill-opacity="0.61"/><circle cx="435.06" cy="309.44" r="1.83" fill="#7478a6" fill-opacity="0.61"/><circle cx="481.77" cy="312.2" r="1.04" fill="#5a5e92" fill-opacity="0.66"/><circle cx="460.68" cy="267.09" r="1.47" fill="#62669a" fill-opacity="0.47"/><circle cx="460.38" cy="267.5" r="1.47" fill="#62669a" fill-opacity="0.47"/><circle cx="429.08" cy="313" r="1.34" fill="#50547f" fill-opacity="0.62"/><circle cx="429.98" cy="314.2" r="1.34" fill="#50547f" fill-opacity="0.62"/><circle cx="481.02" cy="271.46" r="1.37" fill="#6a6d9e" fill-opacity="0.63"/><circle cx="474.24" cy="307.51" r="1.34" fill="#5a5e92" fill-opacity="0.79"/><circle cx="473.55" cy="336.66" r="1.28" fill="#7478a6" fill-opacity="0.6"/><circle cx="472.44" cy="336.76" r="1.28" fill="#7478a6" fill-opacity="0.6"/><circle cx="497.09" cy="292.03" r="1.08" fill="#6a6d9e" fill-opacity="0.7"/><circle cx="430.69" cy="302.21" r="1.18" fill="#62669a" fill-opacity="0.52"/><circle cx="455.56" cy="289.85" r="1.53" fill="#6a6d9e" fill-opacity="0.45"/><circle cx="430.3" cy="277.93" r="0.93" fill="#6a6d9e" fill-opacity="0.59"/><circle cx="495.93" cy="323.87" r="1.22" fill="#50547f" fill-opacity="0.45"/><circle cx="455.07" cy="307.23" r="1.21" fill="#6a6d9e" fill-opacity="0.46"/><circle cx="485.25" cy="321.58" r="1.72" fill="#6a6d9e" fill-opacity="0.75"/><circle cx="484.39" cy="322.22" r="1.72" fill="#6a6d9e" fill-opacity="0.75"/><circle cx="461.74" cy="284.28" r="1.47" fill="#62669a" fill-opacity="0.52"/><circle cx="460.89" cy="283.36" r="1.47" fill="#62669a" fill-opacity="0.52"/><circle cx="460.18" cy="284.94" r="1.47" fill="#62669a" fill-opacity="0.52"/><circle cx="465.98" cy="334.11" r="1.29" fill="#62669a" fill-opacity="0.62"/><circle cx="477.18" cy="298.53" r="1.3" fill="#62669a" fill-opacity="0.67"/><circle cx="478.05" cy="297.16" r="1.3" fill="#62669a" fill-opacity="0.67"/><circle cx="477.5" cy="297.45" r="1.3" fill="#62669a" fill-opacity="0.67"/><circle cx="484.6" cy="306.88" r="1.36" fill="#6a6d9e" fill-opacity="0.48"/><circle cx="484.2" cy="306.39" r="1.36" fill="#6a6d9e" fill-opacity="0.48"/><circle cx="450.37" cy="292.1" r="0.95" fill="#5a5e92" fill-opacity="0.62"/><circle cx="493.73" cy="306.91" r="1.01" fill="#5a5e92" fill-opacity="0.71"/><circle cx="489.65" cy="313.8" r="1.6" fill="#6a6d9e" fill-opacity="0.73"/><circle cx="490.75" cy="314.17" r="1.6" fill="#6a6d9e" fill-opacity="0.73"/><circle cx="489.78" cy="314.01" r="1.6" fill="#6a6d9e" fill-opacity="0.73"/><circle cx="483.6" cy="276.11" r="1.47" fill="#7478a6" fill-opacity="0.58"/><circle cx="483.66" cy="277.79" r="1.47" fill="#7478a6" fill-opacity="0.58"/><circle cx="488.42" cy="276.45" r="1.48" fill="#62669a" fill-opacity="0.61"/><circle cx="434.49" cy="296.79" r="1.37" fill="#5a5e92" fill-opacity="0.62"/><circle cx="431.54" cy="300.85" r="1.82" fill="#50547f" fill-opacity="0.76"/><circle cx="431.31" cy="299.69" r="1.82" fill="#50547f" fill-opacity="0.76"/><circle cx="432.92" cy="300.81" r="1.82" fill="#50547f" fill-opacity="0.76"/><circle cx="427.94" cy="313.87" r="1.39" fill="#50547f" fill-opacity="0.52"/><circle cx="495.44" cy="280" r="1.48" fill="#62669a" fill-opacity="0.77"/><circle cx="440.78" cy="330.26" r="0.96" fill="#5a5e92" fill-opacity="0.78"/><circle cx="443.44" cy="306.54" r="1.22" fill="#7478a6" fill-opacity="0.58"/><circle cx="455.34" cy="264.04" r="1.47" fill="#50547f" fill-opacity="0.48"/><circle cx="456.07" cy="263.44" r="1.47" fill="#50547f" fill-opacity="0.48"/><circle cx="442.94" cy="326.17" r="1.4" fill="#6a6d9e" fill-opacity="0.59"/><circle cx="443.31" cy="324.97" r="1.4" fill="#6a6d9e" fill-opacity="0.59"/><circle cx="494.49" cy="309.89" r="1.57" fill="#62669a" fill-opacity="0.68"/><circle cx="456.38" cy="282.7" r="1.29" fill="#6a6d9e" fill-opacity="0.7"/><circle cx="455.88" cy="283.9" r="1.29" fill="#6a6d9e" fill-opacity="0.7"/><circle cx="456.38" cy="284.17" r="1.29" fill="#6a6d9e" fill-opacity="0.7"/><circle cx="423.86" cy="300.05" r="1.14" fill="#6a6d9e" fill-opacity="0.48"/><circle cx="481.98" cy="319.9" r="1.47" fill="#5a5e92" fill-opacity="0.58"/><circle cx="481.5" cy="320.03" r="1.47" fill="#5a5e92" fill-opacity="0.58"/><circle cx="482.63" cy="319.89" r="1.47" fill="#5a5e92" fill-opacity="0.58"/><circle cx="459.22" cy="282.21" r="1.8" fill="#5a5e92" fill-opacity="0.79"/><circle cx="458.66" cy="281.73" r="1.8" fill="#5a5e92" fill-opacity="0.79"/><circle cx="458.71" cy="281.36" r="1.8" fill="#5a5e92" fill-opacity="0.79"/><circle cx="444.77" cy="308.84" r="1.82" fill="#6a6d9e" fill-opacity="0.73"/><circle cx="445" cy="310.32" r="1.82" fill="#6a6d9e" fill-opacity="0.73"/><circle cx="488.39" cy="286" r="1.92" fill="#62669a" fill-opacity="0.74"/><circle cx="488.4" cy="285.02" r="1.92" fill="#62669a" fill-opacity="0.74"/><circle cx="486.66" cy="286.08" r="1.92" fill="#62669a" fill-opacity="0.74"/><circle cx="454.58" cy="332.91" r="1.49" fill="#62669a" fill-opacity="0.63"/><circle cx="455.57" cy="333.88" r="1.49" fill="#62669a" fill-opacity="0.63"/><circle cx="454.39" cy="333.78" r="1.49" fill="#62669a" fill-opacity="0.63"/><circle cx="492.04" cy="294.35" r="1.41" fill="#6a6d9e" fill-opacity="0.59"/><circle cx="491.2" cy="294.99" r="1.41" fill="#6a6d9e" fill-opacity="0.59"/><circle cx="438.59" cy="296.43" r="1.68" fill="#62669a" fill-opacity="0.49"/><circle cx="438.27" cy="297.16" r="1.68" fill="#62669a" fill-opacity="0.49"/><circle cx="500.51" cy="290.08" r="1.3" fill="#7478a6" fill-opacity="0.62"/><circle cx="499.67" cy="284.11" r="1.35" fill="#5a5e92" fill-opacity="0.52"/><circle cx="499.42" cy="283.93" r="1.35" fill="#5a5e92" fill-opacity="0.52"/><circle cx="470.32" cy="317.13" r="1.54" fill="#50547f" fill-opacity="0.7"/><circle cx="470.54" cy="317.17" r="1.54" fill="#50547f" fill-opacity="0.7"/><circle cx="442.85" cy="298.74" r="1.2" fill="#62669a" fill-opacity="0.76"/><circle cx="478.45" cy="272" r="1.37" fill="#62669a" fill-opacity="0.67"/><circle cx="478.46" cy="271.35" r="1.37" fill="#62669a" fill-opacity="0.67"/><circle cx="460.77" cy="264.89" r="1.8" fill="#50547f" fill-opacity="0.66"/><circle cx="462.28" cy="262.94" r="1.8" fill="#50547f" fill-opacity="0.66"/><circle cx="466.36" cy="334.15" r="1.29" fill="#5a5e92" fill-opacity="0.6"/><circle cx="459.22" cy="283.48" r="1.47" fill="#5a5e92" fill-opacity="0.48"/><circle cx="457.75" cy="282.62" r="1.47" fill="#5a5e92" fill-opacity="0.48"/><circle cx="458.93" cy="282.62" r="1.47" fill="#5a5e92" fill-opacity="0.48"/><circle cx="456.89" cy="283.94" r="1.01" fill="#5a5e92" fill-opacity="0.46"/><circle cx="486.98" cy="284.82" r="1.18" fill="#5a5e92" fill-opacity="0.52"/><circle cx="474.22" cy="294.29" r="0.99" fill="#7478a6" fill-opacity="0.48"/><circle cx="442.32" cy="310.99" r="1.22" fill="#50547f" fill-opacity="0.45"/><circle cx="474.02" cy="325.09" r="1.61" fill="#7478a6" fill-opacity="0.77"/><circle cx="474.48" cy="323.66" r="1.61" fill="#7478a6" fill-opacity="0.77"/><circle cx="484.04" cy="269.47" r="1.81" fill="#7478a6" fill-opacity="0.65"/><circle cx="484.73" cy="267.84" r="1.81" fill="#7478a6" fill-opacity="0.65"/><circle cx="493.72" cy="281.96" r="1.65" fill="#7478a6" fill-opacity="0.5"/><circle cx="493.49" cy="282.1" r="1.65" fill="#7478a6" fill-opacity="0.5"/><circle cx="492.74" cy="282.01" r="1.65" fill="#7478a6" fill-opacity="0.5"/><circle cx="484.3" cy="310.69" r="1.28" fill="#5a5e92" fill-opacity="0.76"/><circle cx="484.99" cy="309.72" r="1.28" fill="#5a5e92" fill-opacity="0.76"/><circle cx="447.45" cy="274.65" r="1.36" fill="#7478a6" fill-opacity="0.63"/><circle cx="447.65" cy="275.12" r="1.36" fill="#7478a6" fill-opacity="0.63"/><circle cx="446.39" cy="274.5" r="1.36" fill="#7478a6" fill-opacity="0.63"/><circle cx="462.29" cy="278.85" r="1.5" fill="#5a5e92" fill-opacity="0.72"/><circle cx="463.02" cy="321.07" r="1.41" fill="#62669a" fill-opacity="0.63"/><circle cx="495.35" cy="299.84" r="1.69" fill="#5a5e92" fill-opacity="0.64"/><circle cx="495.35" cy="299.91" r="1.69" fill="#5a5e92" fill-opacity="0.64"/><circle cx="481.35" cy="276.41" r="1.44" fill="#7478a6" fill-opacity="0.78"/><circle cx="481.4" cy="276.65" r="1.44" fill="#7478a6" fill-opacity="0.78"/><circle cx="481.71" cy="276.18" r="1.44" fill="#7478a6" fill-opacity="0.78"/><circle cx="493.26" cy="286.13" r="1.62" fill="#5a5e92" fill-opacity="0.45"/><circle cx="492.9" cy="286.23" r="1.62" fill="#5a5e92" fill-opacity="0.45"/><circle cx="485.5" cy="306.61" r="1.5" fill="#62669a" fill-opacity="0.8"/><circle cx="486.05" cy="285.53" r="1.29" fill="#6a6d9e" fill-opacity="0.47"/><circle cx="485.29" cy="285.94" r="1.29" fill="#6a6d9e" fill-opacity="0.47"/><circle cx="475.8" cy="271.76" r="1.07" fill="#62669a" fill-opacity="0.6"/><circle cx="453.61" cy="311.95" r="1.44" fill="#6a6d9e" fill-opacity="0.68"/><circle cx="441.8" cy="287.52" r="1.65" fill="#62669a" fill-opacity="0.74"/><circle cx="440.32" cy="286.24" r="1.65" fill="#62669a" fill-opacity="0.74"/><circle cx="491.56" cy="278.14" r="1.47" fill="#50547f" fill-opacity="0.55"/><circle cx="490.74" cy="277.21" r="1.47" fill="#50547f" fill-opacity="0.55"/><circle cx="501.15" cy="294.85" r="1.77" fill="#5a5e92" fill-opacity="0.67"/><circle cx="501.93" cy="294.13" r="1.77" fill="#5a5e92" fill-opacity="0.67"/><circle cx="453.18" cy="296.97" r="1.03" fill="#6a6d9e" fill-opacity="0.64"/><circle cx="444.62" cy="301.84" r="1.42" fill="#6a6d9e" fill-opacity="0.74"/><circle cx="474.81" cy="269.6" r="1.64" fill="#6a6d9e" fill-opacity="0.61"/><circle cx="474.32" cy="271.01" r="1.64" fill="#6a6d9e" fill-opacity="0.61"/><circle cx="475.23" cy="269.89" r="1.64" fill="#6a6d9e" fill-opacity="0.61"/><circle cx="465.52" cy="263.21" r="1.18" fill="#50547f" fill-opacity="0.65"/><circle cx="437.32" cy="292.24" r="1.4" fill="#7478a6" fill-opacity="0.55"/><circle cx="438.35" cy="292.01" r="1.4" fill="#7478a6" fill-opacity="0.55"/><circle cx="451.87" cy="332.63" r="1.55" fill="#50547f" fill-opacity="0.76"/><circle cx="451.89" cy="331.45" r="1.55" fill="#50547f" fill-opacity="0.76"/><circle cx="455.73" cy="269.92" r="1.82" fill="#50547f" fill-opacity="0.6"/><circle cx="456.89" cy="271.08" r="1.82" fill="#50547f" fill-opacity="0.6"/><circle cx="455.86" cy="269.61" r="1.82" fill="#50547f" fill-opacity="0.6"/><circle cx="466.91" cy="294.15" r="1.53" fill="#62669a" fill-opacity="0.59"/><circle cx="466.25" cy="293.74" r="1.53" fill="#62669a" fill-opacity="0.59"/><circle cx="449.05" cy="290.23" r="1.03" fill="#7478a6" fill-opacity="0.76"/><circle cx="433.23" cy="297.07" r="1.4" fill="#5a5e92" fill-opacity="0.68"/><circle cx="434.49" cy="296.26" r="1.4" fill="#5a5e92" fill-opacity="0.68"/><circle cx="433.26" cy="297.41" r="1.4" fill="#5a5e92" fill-opacity="0.68"/><circle cx="472.45" cy="292.45" r="1.48" fill="#6a6d9e" fill-opacity="0.48"/><circle cx="473.42" cy="293.01" r="1.48" fill="#6a6d9e" fill-opacity="0.48"/><circle cx="473.41" cy="292.77" r="1.48" fill="#6a6d9e" fill-opacity="0.48"/><circle cx="443.16" cy="334.38" r="1.53" fill="#7478a6" fill-opacity="0.62"/><circle cx="442.59" cy="334.21" r="1.53" fill="#7478a6" fill-opacity="0.62"/><circle cx="444.99" cy="268.17" r="1.69" fill="#5a5e92" fill-opacity="0.76"/><circle cx="445.58" cy="267.56" r="1.69" fill="#5a5e92" fill-opacity="0.76"/><circle cx="449.41" cy="307.12" r="1.61" fill="#7478a6" fill-opacity="0.69"/><circle cx="449.59" cy="308.21" r="1.61" fill="#7478a6" fill-opacity="0.69"/><circle cx="449.12" cy="306.88" r="1.61" fill="#7478a6" fill-opacity="0.69"/><circle cx="486.8" cy="321.23" r="1.65" fill="#6a6d9e" fill-opacity="0.77"/><circle cx="488.42" cy="320.88" r="1.65" fill="#6a6d9e" fill-opacity="0.77"/><circle cx="487.17" cy="320.98" r="1.65" fill="#6a6d9e" fill-opacity="0.77"/><circle cx="437.67" cy="283.33" r="1.29" fill="#62669a" fill-opacity="0.53"/><circle cx="437.7" cy="284.19" r="1.29" fill="#62669a" fill-opacity="0.53"/><circle cx="436.93" cy="271.74" r="1.38" fill="#50547f" fill-opacity="0.62"/><circle cx="436.3" cy="272.8" r="1.38" fill="#50547f" fill-opacity="0.62"/><circle cx="436.19" cy="271.53" r="1.38" fill="#50547f" fill-opacity="0.62"/><circle cx="501.34" cy="310.99" r="1.68" fill="#7478a6" fill-opacity="0.79"/><circle cx="501.63" cy="312.75" r="1.68" fill="#7478a6" fill-opacity="0.79"/><circle cx="501.52" cy="312.78" r="1.68" fill="#7478a6" fill-opacity="0.79"/><circle cx="444.93" cy="305.52" r="1.53" fill="#6a6d9e" fill-opacity="0.6"/><circle cx="493.85" cy="279.77" r="1.1" fill="#62669a" fill-opacity="0.54"/><circle cx="463.37" cy="298.67" r="1.71" fill="#6a6d9e" fill-opacity="0.74"/><circle cx="463.75" cy="299.26" r="1.71" fill="#6a6d9e" fill-opacity="0.74"/><circle cx="458.52" cy="288.41" r="1.62" fill="#62669a" fill-opacity="0.75"/><circle cx="458.87" cy="289.41" r="1.62" fill="#62669a" fill-opacity="0.75"/><circle cx="460.06" cy="288.92" r="1.62" fill="#62669a" fill-opacity="0.75"/><circle cx="487.94" cy="305.57" r="1.31" fill="#50547f" fill-opacity="0.56"/><circle cx="488.58" cy="306.24" r="1.31" fill="#50547f" fill-opacity="0.56"/><circle cx="488.41" cy="306.2" r="1.31" fill="#50547f" fill-opacity="0.56"/><circle cx="482.59" cy="315.27" r="1.59" fill="#5a5e92" fill-opacity="0.68"/><circle cx="459.33" cy="280.32" r="1.4" fill="#7478a6" fill-opacity="0.72"/><circle cx="458.85" cy="281.69" r="1.4" fill="#7478a6" fill-opacity="0.72"/><circle cx="462.8" cy="260.38" r="1.63" fill="#62669a" fill-opacity="0.68"/><circle cx="462.64" cy="260.25" r="1.63" fill="#62669a" fill-opacity="0.68"/><circle cx="462.97" cy="260.57" r="1.63" fill="#62669a" fill-opacity="0.68"/><circle cx="445.82" cy="279.42" r="1.47" fill="#5a5e92" fill-opacity="0.5"/><circle cx="458.47" cy="283.02" r="1.5" fill="#7478a6" fill-opacity="0.66"/><circle cx="471.79" cy="312.36" r="1.51" fill="#5a5e92" fill-opacity="0.57"/><circle cx="475.67" cy="314.01" r="1.12" fill="#7478a6" fill-opacity="0.62"/><circle cx="459.1" cy="268.09" r="1.38" fill="#6a6d9e" fill-opacity="0.68"/><circle cx="452.06" cy="320.98" r="1.5" fill="#5a5e92" fill-opacity="0.65"/><circle cx="452.65" cy="320.64" r="1.5" fill="#5a5e92" fill-opacity="0.65"/><circle cx="482.83" cy="328.74" r="1.8" fill="#62669a" fill-opacity="0.53"/><circle cx="483.64" cy="330.54" r="1.8" fill="#62669a" fill-opacity="0.53"/><circle cx="453.56" cy="261.8" r="1.4" fill="#5a5e92" fill-opacity="0.67"/><circle cx="453.04" cy="262.29" r="1.4" fill="#5a5e92" fill-opacity="0.67"/><circle cx="457.29" cy="310.94" r="1.77" fill="#50547f" fill-opacity="0.61"/><circle cx="456.82" cy="310.59" r="1.77" fill="#50547f" fill-opacity="0.61"/><circle cx="454.02" cy="296.14" r="1.82" fill="#6a6d9e" fill-opacity="0.77"/><circle cx="454.52" cy="296.52" r="1.82" fill="#6a6d9e" fill-opacity="0.77"/><circle cx="454.69" cy="296.41" r="1.82" fill="#6a6d9e" fill-opacity="0.77"/><circle cx="430.65" cy="283.44" r="1.18" fill="#62669a" fill-opacity="0.73"/><circle cx="471.69" cy="262.29" r="1.92" fill="#6a6d9e" fill-opacity="0.56"/><circle cx="472.04" cy="261.13" r="1.92" fill="#6a6d9e" fill-opacity="0.56"/><circle cx="471.2" cy="260.83" r="1.92" fill="#6a6d9e" fill-opacity="0.56"/><circle cx="449.53" cy="297.59" r="1.51" fill="#50547f" fill-opacity="0.63"/><circle cx="447.61" cy="327.53" r="0.96" fill="#6a6d9e" fill-opacity="0.59"/><circle cx="441.98" cy="332.45" r="1.82" fill="#62669a" fill-opacity="0.72"/><circle cx="442.78" cy="332.13" r="1.82" fill="#62669a" fill-opacity="0.72"/><circle cx="441.81" cy="331.17" r="1.82" fill="#62669a" fill-opacity="0.72"/><circle cx="429.17" cy="284.19" r="1.35" fill="#62669a" fill-opacity="0.63"/><circle cx="427.74" cy="284.88" r="1.35" fill="#62669a" fill-opacity="0.63"/><circle cx="429.17" cy="284.89" r="1.35" fill="#62669a" fill-opacity="0.63"/><circle cx="434.64" cy="280.32" r="1.36" fill="#62669a" fill-opacity="0.76"/><circle cx="465.41" cy="337.79" r="1.89" fill="#7478a6" fill-opacity="0.69"/><circle cx="466.34" cy="338.31" r="1.89" fill="#7478a6" fill-opacity="0.69"/><circle cx="498.01" cy="299" r="1.77" fill="#50547f" fill-opacity="0.75"/><circle cx="498.2" cy="299.57" r="1.77" fill="#50547f" fill-opacity="0.75"/><circle cx="497.03" cy="298.8" r="1.77" fill="#50547f" fill-opacity="0.75"/><circle cx="448.67" cy="298.62" r="1.78" fill="#62669a" fill-opacity="0.78"/><circle cx="448.06" cy="297.39" r="1.78" fill="#62669a" fill-opacity="0.78"/><circle cx="437.61" cy="308.91" r="1.36" fill="#6a6d9e" fill-opacity="0.57"/><circle cx="439.05" cy="309.38" r="1.36" fill="#6a6d9e" fill-opacity="0.57"/><circle cx="424.17" cy="301.29" r="1.89" fill="#7478a6" fill-opacity="0.76"/><circle cx="425.59" cy="299.57" r="1.89" fill="#7478a6" fill-opacity="0.76"/><circle cx="476.11" cy="279.11" r="1.29" fill="#6a6d9e" fill-opacity="0.67"/><circle cx="476.78" cy="280.3" r="1.29" fill="#6a6d9e" fill-opacity="0.67"/><circle cx="450.09" cy="282.87" r="1.7" fill="#50547f" fill-opacity="0.75"/><circle cx="451.03" cy="281.72" r="1.7" fill="#50547f" fill-opacity="0.75"/><circle cx="481.84" cy="332.53" r="1.08" fill="#6a6d9e" fill-opacity="0.54"/><circle cx="458.58" cy="320.9" r="1.68" fill="#62669a" fill-opacity="0.76"/><circle cx="456.91" cy="319.49" r="1.68" fill="#62669a" fill-opacity="0.76"/><circle cx="485.65" cy="324.25" r="1.59" fill="#5a5e92" fill-opacity="0.6"/><circle cx="493.47" cy="308.2" r="1.33" fill="#50547f" fill-opacity="0.6"/><circle cx="481.29" cy="298.21" r="1.17" fill="#62669a" fill-opacity="0.46"/><circle cx="487.9" cy="279.94" r="1.82" fill="#62669a" fill-opacity="0.58"/><circle cx="489.53" cy="281.86" r="1.82" fill="#62669a" fill-opacity="0.58"/><circle cx="488.49" cy="280.89" r="1.82" fill="#62669a" fill-opacity="0.58"/><circle cx="484.97" cy="304.81" r="1.71" fill="#62669a" fill-opacity="0.71"/><circle cx="483.94" cy="304.09" r="1.71" fill="#62669a" fill-opacity="0.71"/><circle cx="448.97" cy="274.42" r="1.28" fill="#6a6d9e" fill-opacity="0.54"/><circle cx="447.58" cy="287.09" r="1.2" fill="#5a5e92" fill-opacity="0.65"/><circle cx="467.19" cy="303.5" r="1.32" fill="#7478a6" fill-opacity="0.63"/><circle cx="465.97" cy="303.74" r="1.32" fill="#7478a6" fill-opacity="0.63"/><circle cx="466.83" cy="304.4" r="1.32" fill="#7478a6" fill-opacity="0.63"/><circle cx="457.8" cy="268.77" r="0.98" fill="#7478a6" fill-opacity="0.46"/><circle cx="442.86" cy="296.16" r="1.43" fill="#5a5e92" fill-opacity="0.68"/><circle cx="443.08" cy="296.89" r="1.43" fill="#5a5e92" fill-opacity="0.68"/><circle cx="440.78" cy="285.19" r="1.37" fill="#7478a6" fill-opacity="0.58"/><circle cx="490.69" cy="308.25" r="1.63" fill="#6a6d9e" fill-opacity="0.5"/><circle cx="489.63" cy="307.07" r="1.63" fill="#6a6d9e" fill-opacity="0.5"/><circle cx="490.7" cy="306.42" r="1.63" fill="#6a6d9e" fill-opacity="0.5"/><circle cx="437.11" cy="289.49" r="1.84" fill="#5a5e92" fill-opacity="0.69"/><circle cx="438.4" cy="290.18" r="1.84" fill="#5a5e92" fill-opacity="0.69"/><circle cx="479.47" cy="309.88" r="1.36" fill="#62669a" fill-opacity="0.53"/><circle cx="497.94" cy="298.57" r="1.4" fill="#62669a" fill-opacity="0.77"/><circle cx="498.6" cy="298.55" r="1.4" fill="#62669a" fill-opacity="0.77"/><circle cx="467.58" cy="281.58" r="1.42" fill="#6a6d9e" fill-opacity="0.73"/><circle cx="439.15" cy="317.47" r="1.63" fill="#7478a6" fill-opacity="0.61"/><circle cx="438.17" cy="317.2" r="1.63" fill="#7478a6" fill-opacity="0.61"/><circle cx="455.1" cy="277.33" r="1.31" fill="#5a5e92" fill-opacity="0.63"/><circle cx="433.54" cy="287.13" r="1.23" fill="#5a5e92" fill-opacity="0.58"/><circle cx="441.8" cy="326.94" r="1.59" fill="#5a5e92" fill-opacity="0.46"/><circle cx="441.83" cy="326.81" r="1.59" fill="#5a5e92" fill-opacity="0.46"/><circle cx="440.64" cy="327.79" r="1.59" fill="#5a5e92" fill-opacity="0.46"/><circle cx="452.78" cy="279.91" r="1.45" fill="#7478a6" fill-opacity="0.46"/><circle cx="452.23" cy="280.42" r="1.45" fill="#7478a6" fill-opacity="0.46"/><circle cx="430.59" cy="303.79" r="1.34" fill="#62669a" fill-opacity="0.54"/><circle cx="429.82" cy="304.02" r="1.34" fill="#62669a" fill-opacity="0.54"/><circle cx="430.67" cy="304.23" r="1.34" fill="#62669a" fill-opacity="0.54"/><circle cx="435.34" cy="323.93" r="1.24" fill="#50547f" fill-opacity="0.58"/><circle cx="483.87" cy="270.86" r="1.3" fill="#5a5e92" fill-opacity="0.73"/><circle cx="484.18" cy="271.66" r="1.3" fill="#5a5e92" fill-opacity="0.73"/><circle cx="483.37" cy="270.95" r="1.3" fill="#5a5e92" fill-opacity="0.73"/><circle cx="466.52" cy="275.59" r="1.66" fill="#50547f" fill-opacity="0.48"/><circle cx="467.28" cy="276.5" r="1.66" fill="#50547f" fill-opacity="0.48"/><circle cx="466.86" cy="276.03" r="1.66" fill="#50547f" fill-opacity="0.48"/><circle cx="470.61" cy="337.99" r="1.2" fill="#6a6d9e" fill-opacity="0.57"/><circle cx="462.18" cy="260.64" r="1.69" fill="#7478a6" fill-opacity="0.65"/><circle cx="461.53" cy="261.36" r="1.69" fill="#7478a6" fill-opacity="0.65"/><circle cx="460.84" cy="261.44" r="1.69" fill="#7478a6" fill-opacity="0.65"/><circle cx="489.39" cy="308.6" r="1.42" fill="#7478a6" fill-opacity="0.7"/><circle cx="489.84" cy="309.2" r="1.42" fill="#7478a6" fill-opacity="0.7"/><circle cx="489.79" cy="309.98" r="1.42" fill="#7478a6" fill-opacity="0.7"/><circle cx="487.72" cy="279.03" r="1.58" fill="#26283a" fill-opacity="0.83"/><circle cx="496.09" cy="288.03" r="1.55" fill="#44465c" fill-opacity="0.71"/><circle cx="497.26" cy="287.17" r="1.55" fill="#44465c" fill-opacity="0.71"/><circle cx="469.95" cy="296.25" r="1.2" fill="#26283a" fill-opacity="0.61"/><circle cx="473.21" cy="314.22" r="1.34" fill="#3a3c50" fill-opacity="0.58"/><circle cx="447.63" cy="311.37" r="1.39" fill="#2e3040" fill-opacity="0.72"/><circle cx="447.21" cy="312.59" r="1.39" fill="#2e3040" fill-opacity="0.72"/><circle cx="447.54" cy="311.88" r="1.39" fill="#2e3040" fill-opacity="0.72"/><circle cx="473.26" cy="314.64" r="1.24" fill="#26283a" fill-opacity="0.72"/><circle cx="448.55" cy="316.05" r="1.7" fill="#44465c" fill-opacity="0.58"/><circle cx="449.72" cy="316.11" r="1.7" fill="#44465c" fill-opacity="0.58"/><circle cx="492.24" cy="272.47" r="1.78" fill="#26283a" fill-opacity="0.54"/><circle cx="491.18" cy="272.34" r="1.78" fill="#26283a" fill-opacity="0.54"/><circle cx="492.01" cy="272.03" r="1.78" fill="#26283a" fill-opacity="0.54"/><circle cx="449.02" cy="321.28" r="1.69" fill="#44465c" fill-opacity="0.59"/><circle cx="448.64" cy="321.64" r="1.69" fill="#44465c" fill-opacity="0.59"/><circle cx="448.68" cy="321.03" r="1.69" fill="#44465c" fill-opacity="0.59"/><circle cx="491.5" cy="328.12" r="1.57" fill="#3a3c50" fill-opacity="0.72"/><circle cx="490.66" cy="329.18" r="1.57" fill="#3a3c50" fill-opacity="0.72"/><circle cx="490.38" cy="328.23" r="1.57" fill="#3a3c50" fill-opacity="0.72"/><circle cx="493.95" cy="302.86" r="1.93" fill="#3a3c50" fill-opacity="0.59"/><circle cx="493.9" cy="303.59" r="1.93" fill="#3a3c50" fill-opacity="0.59"/><circle cx="495.33" cy="301.46" r="1.93" fill="#3a3c50" fill-opacity="0.59"/><circle cx="460.38" cy="286.76" r="1.06" fill="#26283a" fill-opacity="0.62"/><circle cx="431.5" cy="322.15" r="1.8" fill="#44465c" fill-opacity="0.56"/><circle cx="432.69" cy="320.99" r="1.8" fill="#44465c" fill-opacity="0.56"/><circle cx="439.04" cy="320.43" r="1.72" fill="#44465c" fill-opacity="0.74"/><circle cx="438.18" cy="319.08" r="1.72" fill="#44465c" fill-opacity="0.74"/><circle cx="493.39" cy="324.64" r="1.38" fill="#44465c" fill-opacity="0.65"/><circle cx="459.28" cy="329.95" r="1.41" fill="#44465c" fill-opacity="0.6"/><circle cx="450.15" cy="315.37" r="1.08" fill="#2e3040" fill-opacity="0.5"/><circle cx="486.69" cy="299.92" r="1.21" fill="#3a3c50" fill-opacity="0.85"/><circle cx="445.2" cy="324.88" r="1.47" fill="#3a3c50" fill-opacity="0.69"/><circle cx="446.28" cy="324.98" r="1.47" fill="#3a3c50" fill-opacity="0.69"/><circle cx="445.5" cy="324.69" r="1.47" fill="#3a3c50" fill-opacity="0.69"/><circle cx="461.04" cy="283.01" r="1.04" fill="#3a3c50" fill-opacity="0.69"/><circle cx="492.81" cy="304.9" r="1.09" fill="#44465c" fill-opacity="0.5"/><circle cx="493.59" cy="301.88" r="1.77" fill="#44465c" fill-opacity="0.64"/><circle cx="493.37" cy="301.72" r="1.77" fill="#44465c" fill-opacity="0.64"/><circle cx="488.96" cy="280.95" r="1.01" fill="#3a3c50" fill-opacity="0.58"/><circle cx="443.18" cy="270.34" r="1.55" fill="#44465c" fill-opacity="0.62"/><circle cx="458.5" cy="311.08" r="1.5" fill="#3a3c50" fill-opacity="0.57"/><circle cx="455.95" cy="284.02" r="1.16" fill="#3a3c50" fill-opacity="0.63"/><circle cx="455.71" cy="304.82" r="1.14" fill="#3a3c50" fill-opacity="0.51"/><circle cx="437.17" cy="283.53" r="1.48" fill="#44465c" fill-opacity="0.84"/><circle cx="458.63" cy="283.14" r="1.41" fill="#44465c" fill-opacity="0.83"/><circle cx="438.02" cy="331.3" r="1.22" fill="#44465c" fill-opacity="0.82"/><circle cx="447.79" cy="322.47" r="1.66" fill="#44465c" fill-opacity="0.68"/><circle cx="449.08" cy="321.85" r="1.66" fill="#44465c" fill-opacity="0.68"/><circle cx="427.53" cy="306.59" r="1.4" fill="#44465c" fill-opacity="0.71"/><circle cx="427.73" cy="307.32" r="1.4" fill="#44465c" fill-opacity="0.71"/><circle cx="438.87" cy="283.31" r="1.92" fill="#3a3c50" fill-opacity="0.69"/><circle cx="437.24" cy="283.31" r="1.92" fill="#3a3c50" fill-opacity="0.69"/><circle cx="438.86" cy="282.51" r="1.92" fill="#3a3c50" fill-opacity="0.69"/><circle cx="473.97" cy="289.69" r="1.99" fill="#44465c" fill-opacity="0.54"/><circle cx="474.22" cy="290.13" r="1.99" fill="#44465c" fill-opacity="0.54"/><circle cx="472.51" cy="271.81" r="1.99" fill="#2e3040" fill-opacity="0.56"/><circle cx="472.75" cy="272.31" r="1.99" fill="#2e3040" fill-opacity="0.56"/><circle cx="426.73" cy="290.93" r="1.29" fill="#26283a" fill-opacity="0.84"/><circle cx="431.57" cy="312.79" r="1.85" fill="#2e3040" fill-opacity="0.78"/><circle cx="431.88" cy="313.37" r="1.85" fill="#2e3040" fill-opacity="0.78"/><circle cx="478.1" cy="319.41" r="1.15" fill="#2e3040" fill-opacity="0.83"/><circle cx="458.06" cy="324.25" r="1.54" fill="#2e3040" fill-opacity="0.8"/><circle cx="458.22" cy="324.51" r="1.54" fill="#2e3040" fill-opacity="0.8"/><circle cx="457.54" cy="325.8" r="1.54" fill="#2e3040" fill-opacity="0.8"/><circle cx="461.4" cy="282.92" r="1.6" fill="#44465c" fill-opacity="0.63"/><circle cx="461.9" cy="282.55" r="1.6" fill="#44465c" fill-opacity="0.63"/><circle cx="460.42" cy="281.65" r="1.6" fill="#44465c" fill-opacity="0.63"/><circle cx="464.76" cy="283.05" r="1.5" fill="#2e3040" fill-opacity="0.55"/><circle cx="465.44" cy="282.98" r="1.5" fill="#2e3040" fill-opacity="0.55"/><circle cx="474.4" cy="300.04" r="1.31" fill="#26283a" fill-opacity="0.8"/><circle cx="481.6" cy="308.31" r="1.56" fill="#44465c" fill-opacity="0.6"/><circle cx="486.71" cy="316.72" r="1.3" fill="#44465c" fill-opacity="0.7"/><circle cx="488.06" cy="315.42" r="1.3" fill="#44465c" fill-opacity="0.7"/><circle cx="487.57" cy="315.66" r="1.3" fill="#44465c" fill-opacity="0.7"/><circle cx="445.54" cy="302.16" r="1.3" fill="#3a3c50" fill-opacity="0.66"/><circle cx="445.9" cy="302.68" r="1.3" fill="#3a3c50" fill-opacity="0.66"/><circle cx="459.75" cy="332.5" r="1.02" fill="#3a3c50" fill-opacity="0.51"/><circle cx="480.7" cy="281.37" r="1.42" fill="#2e3040" fill-opacity="0.79"/><circle cx="451.05" cy="296.82" r="1.88" fill="#2e3040" fill-opacity="0.78"/><circle cx="451.74" cy="295.93" r="1.88" fill="#2e3040" fill-opacity="0.78"/><circle cx="494.75" cy="276.42" r="1.03" fill="#3a3c50" fill-opacity="0.66"/><circle cx="450.1" cy="329.52" r="1.53" fill="#3a3c50" fill-opacity="0.84"/><circle cx="450.31" cy="329.29" r="1.53" fill="#3a3c50" fill-opacity="0.84"/><circle cx="449.38" cy="330.99" r="1.53" fill="#3a3c50" fill-opacity="0.84"/><circle cx="443.68" cy="269.14" r="2.1" fill="#3a3c50" fill-opacity="0.9"/><circle cx="444.41" cy="268.89" r="2.1" fill="#3a3c50" fill-opacity="0.9"/><circle cx="495.69" cy="290.16" r="2.47" fill="#44465c" fill-opacity="0.96"/><circle cx="495.49" cy="290.81" r="2.47" fill="#44465c" fill-opacity="0.96"/><circle cx="460.91" cy="329.12" r="2.54" fill="#2e3040" fill-opacity="0.86"/><circle cx="462.8" cy="329.98" r="2.54" fill="#2e3040" fill-opacity="0.86"/><circle cx="463.99" cy="315.72" r="2.55" fill="#44465c" fill-opacity="0.83"/><circle cx="462.86" cy="315.72" r="2.55" fill="#44465c" fill-opacity="0.83"/><circle cx="460.86" cy="332.01" r="2.43" fill="#2e3040" fill-opacity="0.88"/><circle cx="460.5" cy="331.83" r="2.43" fill="#2e3040" fill-opacity="0.88"/><circle cx="447.66" cy="314.67" r="1.99" fill="#44465c" fill-opacity="0.86"/><circle cx="447.22" cy="315.26" r="1.99" fill="#44465c" fill-opacity="0.86"/><circle cx="448.93" cy="277.73" r="1.8" fill="#3a3c50" fill-opacity="0.91"/><circle cx="449.7" cy="277.63" r="1.8" fill="#3a3c50" fill-opacity="0.91"/><circle cx="466.58" cy="331.54" r="2.03" fill="#2e3040" fill-opacity="0.86"/><circle cx="466.99" cy="332.65" r="2.03" fill="#2e3040" fill-opacity="0.86"/></g></g><g clip-path="url(#w2)"><rect x="504.8" y="258.5" width="82.4" height="82.4" fill="#c7c9d4"/><rect x="504.8" y="258.5" width="82.4" height="82.4" filter="url(#w2n0)"/><rect x="504.8" y="258.5" width="82.4" height="82.4" filter="url(#w2n1)"/><g filter="url(#bl)"><circle cx="513.8" cy="305.05" r="1.11" fill="#5a5e92" fill-opacity="0.8"/><circle cx="573.83" cy="292.63" r="1.89" fill="#50547f" fill-opacity="0.51"/><circle cx="573.87" cy="292.32" r="1.89" fill="#50547f" fill-opacity="0.51"/><circle cx="532.86" cy="321.29" r="0.93" fill="#5a5e92" fill-opacity="0.74"/><circle cx="573.01" cy="298.7" r="1.51" fill="#6a6d9e" fill-opacity="0.64"/><circle cx="572.22" cy="297.98" r="1.51" fill="#6a6d9e" fill-opacity="0.64"/><circle cx="573.33" cy="314.74" r="1.28" fill="#62669a" fill-opacity="0.58"/><circle cx="572.61" cy="315.87" r="1.28" fill="#62669a" fill-opacity="0.58"/><circle cx="542.78" cy="338.39" r="1.48" fill="#50547f" fill-opacity="0.49"/><circle cx="509.46" cy="297.29" r="0.94" fill="#7478a6" fill-opacity="0.46"/><circle cx="562.56" cy="304.15" r="1.62" fill="#6a6d9e" fill-opacity="0.51"/><circle cx="563.18" cy="304.88" r="1.62" fill="#6a6d9e" fill-opacity="0.51"/><circle cx="562.59" cy="304.52" r="1.62" fill="#6a6d9e" fill-opacity="0.51"/><circle cx="551.38" cy="320.45" r="1.87" fill="#7478a6" fill-opacity="0.53"/><circle cx="550.72" cy="320.96" r="1.87" fill="#7478a6" fill-opacity="0.53"/><circle cx="551.89" cy="329.88" r="1.82" fill="#50547f" fill-opacity="0.51"/><circle cx="551.02" cy="330.14" r="1.82" fill="#50547f" fill-opacity="0.51"/><circle cx="531.49" cy="295.14" r="1.78" fill="#50547f" fill-opacity="0.67"/><circle cx="530.83" cy="294.81" r="1.78" fill="#50547f" fill-opacity="0.67"/><circle cx="534.93" cy="275.82" r="1.57" fill="#62669a" fill-opacity="0.76"/><circle cx="512.04" cy="295.9" r="1.22" fill="#50547f" fill-opacity="0.63"/><circle cx="563.62" cy="297.73" r="1.29" fill="#5a5e92" fill-opacity="0.65"/><circle cx="563.34" cy="298.5" r="1.29" fill="#5a5e92" fill-opacity="0.65"/><circle cx="563.67" cy="297.99" r="1.29" fill="#5a5e92" fill-opacity="0.65"/><circle cx="532.68" cy="320.19" r="1.4" fill="#5a5e92" fill-opacity="0.69"/><circle cx="532.67" cy="320.38" r="1.4" fill="#5a5e92" fill-opacity="0.69"/><circle cx="510.91" cy="292.23" r="1.05" fill="#50547f" fill-opacity="0.52"/><circle cx="534.93" cy="273.41" r="1.22" fill="#62669a" fill-opacity="0.7"/><circle cx="526.72" cy="311.97" r="1.11" fill="#5a5e92" fill-opacity="0.7"/><circle cx="531.98" cy="270.43" r="1.16" fill="#6a6d9e" fill-opacity="0.62"/><circle cx="544.79" cy="317.45" r="0.91" fill="#50547f" fill-opacity="0.58"/><circle cx="566.81" cy="285.95" r="1.32" fill="#7478a6" fill-opacity="0.66"/><circle cx="566.13" cy="285.92" r="1.32" fill="#7478a6" fill-opacity="0.66"/><circle cx="518" cy="318.45" r="1.35" fill="#7478a6" fill-opacity="0.68"/><circle cx="517.66" cy="318.53" r="1.35" fill="#7478a6" fill-opacity="0.68"/><circle cx="533.94" cy="324.75" r="1.36" fill="#6a6d9e" fill-opacity="0.62"/><circle cx="520.16" cy="301.03" r="1.51" fill="#62669a" fill-opacity="0.55"/><circle cx="574.97" cy="295.85" r="1.68" fill="#7478a6" fill-opacity="0.59"/><circle cx="575.29" cy="296.21" r="1.68" fill="#7478a6" fill-opacity="0.59"/><circle cx="575.96" cy="294.63" r="1.68" fill="#7478a6" fill-opacity="0.59"/><circle cx="555.76" cy="317.55" r="1.76" fill="#50547f" fill-opacity="0.79"/><circle cx="554.75" cy="317.58" r="1.76" fill="#50547f" fill-opacity="0.79"/><circle cx="555.72" cy="317.55" r="1.76" fill="#50547f" fill-opacity="0.79"/><circle cx="537.96" cy="296.49" r="1.19" fill="#6a6d9e" fill-opacity="0.7"/><circle cx="555.1" cy="320.16" r="1.45" fill="#5a5e92" fill-opacity="0.58"/><circle cx="555.09" cy="320.53" r="1.45" fill="#5a5e92" fill-opacity="0.58"/><circle cx="555.58" cy="320.26" r="1.45" fill="#5a5e92" fill-opacity="0.58"/><circle cx="527.2" cy="279.54" r="1.48" fill="#7478a6" fill-opacity="0.76"/><circle cx="561.96" cy="301.63" r="1.45" fill="#5a5e92" fill-opacity="0.78"/><circle cx="519.14" cy="316.28" r="1.73" fill="#6a6d9e" fill-opacity="0.57"/><circle cx="519.03" cy="316.11" r="1.73" fill="#6a6d9e" fill-opacity="0.57"/><circle cx="546.28" cy="313.15" r="1.46" fill="#5a5e92" fill-opacity="0.66"/><circle cx="545.74" cy="313.5" r="1.46" fill="#5a5e92" fill-opacity="0.66"/><circle cx="546.64" cy="313.77" r="1.46" fill="#5a5e92" fill-opacity="0.66"/><circle cx="578.9" cy="299.66" r="1.54" fill="#50547f" fill-opacity="0.5"/><circle cx="578.41" cy="298.53" r="1.54" fill="#50547f" fill-opacity="0.5"/><circle cx="550.32" cy="328.18" r="1.71" fill="#50547f" fill-opacity="0.57"/><circle cx="550.42" cy="327.03" r="1.71" fill="#50547f" fill-opacity="0.57"/><circle cx="550.59" cy="327.66" r="1.71" fill="#50547f" fill-opacity="0.57"/><circle cx="556.05" cy="308.22" r="1.73" fill="#7478a6" fill-opacity="0.71"/><circle cx="555.57" cy="307.35" r="1.73" fill="#7478a6" fill-opacity="0.71"/><circle cx="556.37" cy="306.87" r="1.73" fill="#7478a6" fill-opacity="0.71"/><circle cx="551.04" cy="302.01" r="1.81" fill="#50547f" fill-opacity="0.78"/><circle cx="552.89" cy="302.72" r="1.81" fill="#50547f" fill-opacity="0.78"/><circle cx="552.28" cy="301.99" r="1.81" fill="#50547f" fill-opacity="0.78"/><circle cx="574.86" cy="290.97" r="0.96" fill="#50547f" fill-opacity="0.68"/><circle cx="561.53" cy="310.61" r="1.91" fill="#50547f" fill-opacity="0.51"/><circle cx="562.63" cy="310.89" r="1.91" fill="#50547f" fill-opacity="0.51"/><circle cx="561.64" cy="310.74" r="1.91" fill="#50547f" fill-opacity="0.51"/><circle cx="549.9" cy="316.37" r="1.37" fill="#6a6d9e" fill-opacity="0.78"/><circle cx="524.41" cy="326.17" r="1.26" fill="#62669a" fill-opacity="0.72"/><circle cx="553.21" cy="295.98" r="1.01" fill="#50547f" fill-opacity="0.59"/><circle cx="567.78" cy="329.16" r="1.37" fill="#50547f" fill-opacity="0.6"/><circle cx="563.86" cy="311.42" r="1.38" fill="#62669a" fill-opacity="0.62"/><circle cx="562.64" cy="312.65" r="1.38" fill="#62669a" fill-opacity="0.62"/><circle cx="578.29" cy="279.33" r="1.45" fill="#6a6d9e" fill-opacity="0.49"/><circle cx="545.39" cy="287.17" r="1.31" fill="#62669a" fill-opacity="0.51"/><circle cx="545.48" cy="287.72" r="1.31" fill="#62669a" fill-opacity="0.51"/><circle cx="537" cy="306.86" r="1.35" fill="#62669a" fill-opacity="0.73"/><circle cx="536.71" cy="306.95" r="1.35" fill="#62669a" fill-opacity="0.73"/><circle cx="536.13" cy="306.78" r="1.35" fill="#62669a" fill-opacity="0.73"/><circle cx="514.78" cy="294.07" r="1.23" fill="#7478a6" fill-opacity="0.55"/><circle cx="551.61" cy="320.98" r="1.55" fill="#50547f" fill-opacity="0.48"/><circle cx="551.57" cy="320.89" r="1.55" fill="#50547f" fill-opacity="0.48"/><circle cx="567.31" cy="329.14" r="1.15" fill="#62669a" fill-opacity="0.74"/><circle cx="550.02" cy="324.41" r="1.32" fill="#62669a" fill-opacity="0.61"/><circle cx="546.84" cy="303.49" r="1.64" fill="#6a6d9e" fill-opacity="0.51"/><circle cx="545.53" cy="304.02" r="1.64" fill="#6a6d9e" fill-opacity="0.51"/><circle cx="550.29" cy="314.94" r="1.47" fill="#62669a" fill-opacity="0.77"/><circle cx="549.4" cy="315.45" r="1.47" fill="#62669a" fill-opacity="0.77"/><circle cx="550.83" cy="314.35" r="1.47" fill="#62669a" fill-opacity="0.77"/><circle cx="512.13" cy="290.24" r="1.78" fill="#5a5e92" fill-opacity="0.79"/><circle cx="512.99" cy="290.79" r="1.78" fill="#5a5e92" fill-opacity="0.79"/><circle cx="560.23" cy="302.73" r="1.41" fill="#50547f" fill-opacity="0.68"/><circle cx="532.63" cy="294.81" r="1.84" fill="#62669a" fill-opacity="0.52"/><circle cx="532.17" cy="294.35" r="1.84" fill="#62669a" fill-opacity="0.52"/><circle cx="533.51" cy="294.22" r="1.84" fill="#62669a" fill-opacity="0.52"/><circle cx="533.27" cy="272.44" r="1.9" fill="#5a5e92" fill-opacity="0.52"/><circle cx="532.93" cy="272.95" r="1.9" fill="#5a5e92" fill-opacity="0.52"/><circle cx="534.96" cy="272.91" r="1.9" fill="#5a5e92" fill-opacity="0.52"/><circle cx="573.58" cy="316.83" r="1.15" fill="#62669a" fill-opacity="0.68"/><circle cx="551.26" cy="288.38" r="1.25" fill="#7478a6" fill-opacity="0.71"/><circle cx="563.57" cy="279.24" r="1.39" fill="#6a6d9e" fill-opacity="0.5"/><circle cx="563.74" cy="278.44" r="1.39" fill="#6a6d9e" fill-opacity="0.5"/><circle cx="563.22" cy="278.46" r="1.39" fill="#6a6d9e" fill-opacity="0.5"/><circle cx="532.18" cy="284.18" r="1.38" fill="#62669a" fill-opacity="0.76"/><circle cx="532.88" cy="284.33" r="1.38" fill="#62669a" fill-opacity="0.76"/><circle cx="553.62" cy="324.48" r="1.17" fill="#5a5e92" fill-opacity="0.69"/><circle cx="521.03" cy="294.75" r="1.03" fill="#62669a" fill-opacity="0.74"/><circle cx="559.69" cy="307.1" r="1.73" fill="#5a5e92" fill-opacity="0.5"/><circle cx="560.47" cy="306.11" r="1.73" fill="#5a5e92" fill-opacity="0.5"/><circle cx="521.74" cy="330.42" r="1.56" fill="#5a5e92" fill-opacity="0.76"/><circle cx="513.89" cy="322.38" r="1.92" fill="#5a5e92" fill-opacity="0.56"/><circle cx="512.84" cy="322.1" r="1.92" fill="#5a5e92" fill-opacity="0.56"/><circle cx="567.56" cy="292.71" r="1.84" fill="#62669a" fill-opacity="0.75"/><circle cx="566.42" cy="291.1" r="1.84" fill="#62669a" fill-opacity="0.75"/><circle cx="567.58" cy="293.17" r="1.84" fill="#62669a" fill-opacity="0.75"/><circle cx="534.16" cy="288.8" r="1.73" fill="#7478a6" fill-opacity="0.56"/><circle cx="532.08" cy="288.71" r="1.73" fill="#7478a6" fill-opacity="0.56"/><circle cx="533.14" cy="289.5" r="1.73" fill="#7478a6" fill-opacity="0.56"/><circle cx="548.68" cy="258.95" r="1.68" fill="#7478a6" fill-opacity="0.5"/><circle cx="547.58" cy="259.68" r="1.68" fill="#7478a6" fill-opacity="0.5"/><circle cx="547.26" cy="259.66" r="1.68" fill="#7478a6" fill-opacity="0.5"/><circle cx="563.56" cy="293.05" r="1.83" fill="#62669a" fill-opacity="0.73"/><circle cx="564.72" cy="294.42" r="1.83" fill="#62669a" fill-opacity="0.73"/><circle cx="544.72" cy="293.1" r="1.75" fill="#50547f" fill-opacity="0.52"/><circle cx="543.53" cy="294.54" r="1.75" fill="#50547f" fill-opacity="0.52"/><circle cx="544.12" cy="293.95" r="1.75" fill="#50547f" fill-opacity="0.52"/><circle cx="556.76" cy="312.97" r="1.54" fill="#6a6d9e" fill-opacity="0.71"/><circle cx="548.62" cy="290.83" r="1.37" fill="#5a5e92" fill-opacity="0.78"/><circle cx="536.28" cy="305.59" r="0.96" fill="#5a5e92" fill-opacity="0.79"/><circle cx="580.69" cy="291.78" r="1.5" fill="#7478a6" fill-opacity="0.62"/><circle cx="580.37" cy="291.93" r="1.5" fill="#7478a6" fill-opacity="0.62"/><circle cx="580.71" cy="292.52" r="1.5" fill="#7478a6" fill-opacity="0.62"/><circle cx="549.43" cy="277.2" r="1.25" fill="#7478a6" fill-opacity="0.55"/><circle cx="556.05" cy="334.84" r="0.93" fill="#7478a6" fill-opacity="0.65"/><circle cx="551.76" cy="330.97" r="1.56" fill="#6a6d9e" fill-opacity="0.77"/><circle cx="551.74" cy="294" r="1.85" fill="#62669a" fill-opacity="0.49"/><circle cx="551.57" cy="294.7" r="1.85" fill="#62669a" fill-opacity="0.49"/><circle cx="515.66" cy="309.18" r="1.51" fill="#62669a" fill-opacity="0.45"/><circle cx="514.92" cy="308.52" r="1.51" fill="#62669a" fill-opacity="0.45"/><circle cx="554.42" cy="293.7" r="1.09" fill="#7478a6" fill-opacity="0.6"/><circle cx="553.49" cy="297.89" r="1.5" fill="#50547f" fill-opacity="0.68"/><circle cx="559.38" cy="319.64" r="1.21" fill="#7478a6" fill-opacity="0.66"/><circle cx="577.39" cy="299.39" r="1.12" fill="#7478a6" fill-opacity="0.58"/><circle cx="516.06" cy="290.3" r="1.53" fill="#6a6d9e" fill-opacity="0.54"/><circle cx="516.75" cy="289.54" r="1.53" fill="#6a6d9e" fill-opacity="0.54"/><circle cx="515.59" cy="290.32" r="1.53" fill="#6a6d9e" fill-opacity="0.54"/><circle cx="569.63" cy="294.09" r="0.94" fill="#50547f" fill-opacity="0.56"/><circle cx="582.09" cy="291.02" r="1.44" fill="#7478a6" fill-opacity="0.47"/><circle cx="582.23" cy="290.72" r="1.44" fill="#7478a6" fill-opacity="0.47"/><circle cx="583.03" cy="291.18" r="1.44" fill="#7478a6" fill-opacity="0.47"/><circle cx="532.57" cy="289.15" r="1.46" fill="#62669a" fill-opacity="0.66"/><circle cx="559.15" cy="279.36" r="1.82" fill="#6a6d9e" fill-opacity="0.77"/><circle cx="557.91" cy="278.25" r="1.82" fill="#6a6d9e" fill-opacity="0.77"/><circle cx="558.27" cy="279.86" r="1.82" fill="#6a6d9e" fill-opacity="0.77"/><circle cx="550.86" cy="262.98" r="1.78" fill="#6a6d9e" fill-opacity="0.47"/><circle cx="551.02" cy="264.47" r="1.78" fill="#6a6d9e" fill-opacity="0.47"/><circle cx="526.5" cy="309.96" r="1.55" fill="#5a5e92" fill-opacity="0.54"/><circle cx="525.91" cy="311.55" r="1.55" fill="#5a5e92" fill-opacity="0.54"/><circle cx="525.83" cy="311.53" r="1.55" fill="#5a5e92" fill-opacity="0.54"/><circle cx="539.44" cy="286.24" r="1.27" fill="#50547f" fill-opacity="0.55"/><circle cx="556.18" cy="311.02" r="1.71" fill="#6a6d9e" fill-opacity="0.63"/><circle cx="555.78" cy="310.92" r="1.71" fill="#6a6d9e" fill-opacity="0.63"/><circle cx="545.73" cy="271.11" r="1.08" fill="#7478a6" fill-opacity="0.8"/><circle cx="521.8" cy="278.31" r="1.08" fill="#62669a" fill-opacity="0.74"/><circle cx="541.16" cy="274.67" r="1.39" fill="#7478a6" fill-opacity="0.7"/><circle cx="572.73" cy="285.51" r="1.32" fill="#5a5e92" fill-opacity="0.57"/><circle cx="525.12" cy="271.15" r="1.14" fill="#62669a" fill-opacity="0.71"/><circle cx="546.19" cy="284.32" r="0.91" fill="#6a6d9e" fill-opacity="0.74"/><circle cx="534.5" cy="273.81" r="1.22" fill="#7478a6" fill-opacity="0.62"/><circle cx="537.15" cy="271.31" r="1.72" fill="#50547f" fill-opacity="0.65"/><circle cx="537.22" cy="271.12" r="1.72" fill="#50547f" fill-opacity="0.65"/><circle cx="519.29" cy="298" r="1.4" fill="#7478a6" fill-opacity="0.53"/><circle cx="518.48" cy="298" r="1.4" fill="#7478a6" fill-opacity="0.53"/><circle cx="575.3" cy="286.93" r="1.6" fill="#50547f" fill-opacity="0.65"/><circle cx="574.78" cy="286.2" r="1.6" fill="#50547f" fill-opacity="0.65"/><circle cx="518.91" cy="272.51" r="1.02" fill="#50547f" fill-opacity="0.48"/><circle cx="579.63" cy="281.91" r="1.69" fill="#62669a" fill-opacity="0.74"/><circle cx="580.78" cy="281.01" r="1.69" fill="#62669a" fill-opacity="0.74"/><circle cx="548.61" cy="304.18" r="1.8" fill="#5a5e92" fill-opacity="0.68"/><circle cx="547.4" cy="303.54" r="1.8" fill="#5a5e92" fill-opacity="0.68"/><circle cx="513.29" cy="277.16" r="1.77" fill="#50547f" fill-opacity="0.58"/><circle cx="513.51" cy="277.16" r="1.77" fill="#50547f" fill-opacity="0.58"/><circle cx="515.92" cy="322.84" r="1.8" fill="#50547f" fill-opacity="0.64"/><circle cx="515.92" cy="322.94" r="1.8" fill="#50547f" fill-opacity="0.64"/><circle cx="527.29" cy="296.08" r="1.14" fill="#50547f" fill-opacity="0.47"/><circle cx="546.63" cy="304.59" r="1.43" fill="#50547f" fill-opacity="0.77"/><circle cx="546.44" cy="305.14" r="1.43" fill="#50547f" fill-opacity="0.77"/><circle cx="550.05" cy="284.39" r="1.4" fill="#50547f" fill-opacity="0.59"/><circle cx="550.25" cy="284.24" r="1.4" fill="#50547f" fill-opacity="0.59"/><circle cx="548.76" cy="284.23" r="1.4" fill="#50547f" fill-opacity="0.59"/><circle cx="554.14" cy="296.35" r="1.71" fill="#50547f" fill-opacity="0.74"/><circle cx="554.71" cy="295.67" r="1.71" fill="#50547f" fill-opacity="0.74"/><circle cx="541.93" cy="311.14" r="1.31" fill="#50547f" fill-opacity="0.49"/><circle cx="540.89" cy="295.67" r="0.96" fill="#62669a" fill-opacity="0.61"/><circle cx="582.01" cy="301.83" r="1.09" fill="#6a6d9e" fill-opacity="0.61"/><circle cx="565.07" cy="292" r="1.45" fill="#5a5e92" fill-opacity="0.53"/><circle cx="564.94" cy="293.05" r="1.45" fill="#5a5e92" fill-opacity="0.53"/><circle cx="564.79" cy="293.34" r="1.45" fill="#5a5e92" fill-opacity="0.53"/><circle cx="543.49" cy="324.95" r="1.74" fill="#5a5e92" fill-opacity="0.51"/><circle cx="544.49" cy="324.47" r="1.74" fill="#5a5e92" fill-opacity="0.51"/><circle cx="544.4" cy="324.29" r="1.74" fill="#5a5e92" fill-opacity="0.51"/><circle cx="565.18" cy="286.61" r="1.26" fill="#5a5e92" fill-opacity="0.6"/><circle cx="572.26" cy="290.2" r="1.4" fill="#7478a6" fill-opacity="0.63"/><circle cx="572.24" cy="289.71" r="1.4" fill="#7478a6" fill-opacity="0.63"/><circle cx="572.15" cy="289.42" r="1.4" fill="#7478a6" fill-opacity="0.63"/><circle cx="547.51" cy="288.52" r="1.53" fill="#7478a6" fill-opacity="0.5"/><circle cx="553.13" cy="295.51" r="1.3" fill="#7478a6" fill-opacity="0.51"/><circle cx="553.05" cy="295.18" r="1.3" fill="#7478a6" fill-opacity="0.51"/><circle cx="574.01" cy="323.18" r="1.47" fill="#62669a" fill-opacity="0.49"/><circle cx="574.42" cy="322.28" r="1.47" fill="#62669a" fill-opacity="0.49"/><circle cx="556.44" cy="277.76" r="1.73" fill="#62669a" fill-opacity="0.52"/><circle cx="554.64" cy="278.43" r="1.73" fill="#62669a" fill-opacity="0.52"/><circle cx="573.12" cy="276.38" r="1.86" fill="#62669a" fill-opacity="0.78"/><circle cx="573.92" cy="276.44" r="1.86" fill="#62669a" fill-opacity="0.78"/><circle cx="553.1" cy="300.25" r="0.98" fill="#50547f" fill-opacity="0.52"/><circle cx="571.33" cy="299.7" r="1.34" fill="#5a5e92" fill-opacity="0.45"/><circle cx="563.14" cy="269.43" r="1.37" fill="#50547f" fill-opacity="0.75"/><circle cx="548.65" cy="276.93" r="1.19" fill="#7478a6" fill-opacity="0.5"/><circle cx="573.32" cy="307.77" r="1.68" fill="#62669a" fill-opacity="0.54"/><circle cx="572.18" cy="308.89" r="1.68" fill="#62669a" fill-opacity="0.54"/><circle cx="548.33" cy="290.63" r="1.26" fill="#6a6d9e" fill-opacity="0.69"/><circle cx="554.79" cy="285.55" r="1.43" fill="#6a6d9e" fill-opacity="0.46"/><circle cx="523.91" cy="327.98" r="1.29" fill="#6a6d9e" fill-opacity="0.72"/><circle cx="564.99" cy="303.55" r="1.13" fill="#50547f" fill-opacity="0.48"/><circle cx="508.36" cy="289.3" r="1.55" fill="#5a5e92" fill-opacity="0.56"/><circle cx="508.96" cy="288.21" r="1.55" fill="#5a5e92" fill-opacity="0.56"/><circle cx="509.99" cy="288.47" r="1.55" fill="#5a5e92" fill-opacity="0.56"/><circle cx="553.03" cy="307.13" r="1.49" fill="#7478a6" fill-opacity="0.5"/><circle cx="552.95" cy="307.63" r="1.49" fill="#7478a6" fill-opacity="0.5"/><circle cx="554.33" cy="307.16" r="1.49" fill="#7478a6" fill-opacity="0.5"/><circle cx="557.54" cy="283.05" r="1.51" fill="#50547f" fill-opacity="0.63"/><circle cx="544.14" cy="284.36" r="1.5" fill="#62669a" fill-opacity="0.76"/><circle cx="544.11" cy="283.44" r="1.5" fill="#62669a" fill-opacity="0.76"/><circle cx="535.57" cy="318.04" r="1.4" fill="#62669a" fill-opacity="0.55"/><circle cx="535.26" cy="317.22" r="1.4" fill="#62669a" fill-opacity="0.55"/><circle cx="535.4" cy="317.5" r="1.4" fill="#62669a" fill-opacity="0.55"/><circle cx="548.18" cy="323.57" r="1.29" fill="#7478a6" fill-opacity="0.47"/><circle cx="548.61" cy="324.58" r="1.29" fill="#7478a6" fill-opacity="0.47"/><circle cx="538.49" cy="293.75" r="1.51" fill="#62669a" fill-opacity="0.73"/><circle cx="536.95" cy="292.17" r="1.51" fill="#62669a" fill-opacity="0.73"/><circle cx="537.41" cy="292.45" r="1.51" fill="#62669a" fill-opacity="0.73"/><circle cx="565.2" cy="312.43" r="1.05" fill="#50547f" fill-opacity="0.51"/><circle cx="536.72" cy="281.13" r="1.33" fill="#50547f" fill-opacity="0.5"/><circle cx="536.18" cy="287.95" r="1.7" fill="#6a6d9e" fill-opacity="0.54"/><circle cx="536.81" cy="287.12" r="1.7" fill="#6a6d9e" fill-opacity="0.54"/><circle cx="555.29" cy="268.64" r="1.51" fill="#5a5e92" fill-opacity="0.75"/><circle cx="554.19" cy="268.55" r="1.51" fill="#5a5e92" fill-opacity="0.75"/><circle cx="554.58" cy="267.83" r="1.51" fill="#5a5e92" fill-opacity="0.75"/><circle cx="551.8" cy="318.48" r="1.4" fill="#50547f" fill-opacity="0.63"/><circle cx="552.18" cy="318.65" r="1.4" fill="#50547f" fill-opacity="0.63"/><circle cx="564.47" cy="304.98" r="1.46" fill="#5a5e92" fill-opacity="0.68"/><circle cx="564.38" cy="303.82" r="1.46" fill="#5a5e92" fill-opacity="0.68"/><circle cx="564.94" cy="304.49" r="1.46" fill="#5a5e92" fill-opacity="0.68"/><circle cx="561.14" cy="309.13" r="1.82" fill="#5a5e92" fill-opacity="0.62"/><circle cx="561.91" cy="310.45" r="1.82" fill="#5a5e92" fill-opacity="0.62"/><circle cx="561.81" cy="309.06" r="1.82" fill="#5a5e92" fill-opacity="0.62"/><circle cx="573.22" cy="273.71" r="1.45" fill="#6a6d9e" fill-opacity="0.68"/><circle cx="564.59" cy="281.91" r="1.65" fill="#62669a" fill-opacity="0.75"/><circle cx="563.3" cy="280.25" r="1.65" fill="#62669a" fill-opacity="0.75"/><circle cx="563.54" cy="280.28" r="1.65" fill="#62669a" fill-opacity="0.75"/><circle cx="521.46" cy="317.81" r="1.85" fill="#6a6d9e" fill-opacity="0.52"/><circle cx="520.06" cy="318.68" r="1.85" fill="#6a6d9e" fill-opacity="0.52"/><circle cx="583.25" cy="279.96" r="1.32" fill="#62669a" fill-opacity="0.78"/><circle cx="540.26" cy="338.88" r="1.05" fill="#3a3c50" fill-opacity="0.88"/><circle cx="542.53" cy="289.72" r="1.75" fill="#44465c" fill-opacity="0.68"/><circle cx="542.85" cy="290.9" r="1.75" fill="#44465c" fill-opacity="0.68"/><circle cx="541.68" cy="290.54" r="1.75" fill="#44465c" fill-opacity="0.68"/><circle cx="532.34" cy="307.7" r="1.52" fill="#2e3040" fill-opacity="0.67"/><circle cx="511.53" cy="292.35" r="1.38" fill="#2e3040" fill-opacity="0.61"/><circle cx="510.78" cy="292.96" r="1.38" fill="#2e3040" fill-opacity="0.61"/><circle cx="540.42" cy="298.67" r="1.17" fill="#3a3c50" fill-opacity="0.72"/><circle cx="577.25" cy="280.48" r="1.15" fill="#3a3c50" fill-opacity="0.76"/><circle cx="553.74" cy="304.42" r="1.55" fill="#44465c" fill-opacity="0.75"/><circle cx="546.21" cy="261.86" r="1.24" fill="#3a3c50" fill-opacity="0.56"/><circle cx="568.84" cy="327.72" r="1.99" fill="#2e3040" fill-opacity="0.59"/><circle cx="569.25" cy="327.99" r="1.99" fill="#2e3040" fill-opacity="0.59"/><circle cx="568.84" cy="328.71" r="1.99" fill="#2e3040" fill-opacity="0.59"/><circle cx="573.32" cy="296.51" r="1.29" fill="#44465c" fill-opacity="0.73"/><circle cx="520.5" cy="271.71" r="1.11" fill="#26283a" fill-opacity="0.6"/><circle cx="554.59" cy="272.18" r="2.02" fill="#26283a" fill-opacity="0.76"/><circle cx="556" cy="272.08" r="2.02" fill="#26283a" fill-opacity="0.76"/><circle cx="522.81" cy="295.94" r="1.76" fill="#2e3040" fill-opacity="0.85"/><circle cx="524.13" cy="296.93" r="1.76" fill="#2e3040" fill-opacity="0.85"/><circle cx="522.77" cy="297.84" r="1.76" fill="#2e3040" fill-opacity="0.85"/><circle cx="568.8" cy="284.96" r="1.75" fill="#2e3040" fill-opacity="0.55"/><circle cx="568.11" cy="284.42" r="1.75" fill="#2e3040" fill-opacity="0.55"/><circle cx="570.09" cy="297.8" r="1.16" fill="#3a3c50" fill-opacity="0.66"/><circle cx="549.58" cy="276.94" r="1.46" fill="#44465c" fill-opacity="0.63"/><circle cx="536.79" cy="264.27" r="1.43" fill="#2e3040" fill-opacity="0.74"/><circle cx="548.65" cy="287.52" r="1.17" fill="#3a3c50" fill-opacity="0.84"/><circle cx="582.17" cy="292.52" r="1.24" fill="#26283a" fill-opacity="0.78"/><circle cx="520.88" cy="319.88" r="1.35" fill="#2e3040" fill-opacity="0.81"/><circle cx="580.39" cy="281.6" r="1.42" fill="#2e3040" fill-opacity="0.68"/><circle cx="580.18" cy="281.48" r="1.42" fill="#2e3040" fill-opacity="0.68"/><circle cx="579.5" cy="280.48" r="1.42" fill="#2e3040" fill-opacity="0.68"/><circle cx="539.83" cy="271.41" r="1.03" fill="#2e3040" fill-opacity="0.61"/><circle cx="511.85" cy="283.24" r="1.17" fill="#2e3040" fill-opacity="0.76"/><circle cx="570.75" cy="319.13" r="1.16" fill="#2e3040" fill-opacity="0.76"/><circle cx="545.85" cy="328.78" r="1.59" fill="#26283a" fill-opacity="0.59"/><circle cx="559.46" cy="316.52" r="1.29" fill="#26283a" fill-opacity="0.53"/><circle cx="558.58" cy="316.47" r="1.29" fill="#26283a" fill-opacity="0.53"/><circle cx="554.12" cy="326.18" r="1.84" fill="#26283a" fill-opacity="0.58"/><circle cx="553.92" cy="325.83" r="1.84" fill="#26283a" fill-opacity="0.58"/><circle cx="555.51" cy="327.6" r="1.84" fill="#26283a" fill-opacity="0.58"/><circle cx="549.13" cy="281.91" r="1.57" fill="#26283a" fill-opacity="0.54"/><circle cx="548.1" cy="280.29" r="1.57" fill="#26283a" fill-opacity="0.54"/><circle cx="549" cy="280.46" r="1.57" fill="#26283a" fill-opacity="0.54"/><circle cx="583.44" cy="312.56" r="1.32" fill="#3a3c50" fill-opacity="0.85"/><circle cx="534.03" cy="263.61" r="1.52" fill="#2e3040" fill-opacity="0.58"/><circle cx="527.72" cy="309.82" r="1.41" fill="#44465c" fill-opacity="0.55"/><circle cx="527.63" cy="308.99" r="1.41" fill="#44465c" fill-opacity="0.55"/><circle cx="536.32" cy="295.54" r="1.32" fill="#2e3040" fill-opacity="0.54"/><circle cx="521.85" cy="271.26" r="1.44" fill="#2e3040" fill-opacity="0.67"/><circle cx="518.05" cy="289.27" r="1.33" fill="#3a3c50" fill-opacity="0.79"/><circle cx="540.16" cy="316.58" r="1.75" fill="#3a3c50" fill-opacity="0.53"/><circle cx="541.36" cy="317.8" r="1.75" fill="#3a3c50" fill-opacity="0.53"/><circle cx="540.87" cy="317.86" r="1.75" fill="#3a3c50" fill-opacity="0.53"/><circle cx="580.26" cy="282.92" r="1.8" fill="#2e3040" fill-opacity="0.51"/><circle cx="579.57" cy="282.09" r="1.8" fill="#2e3040" fill-opacity="0.51"/><circle cx="579.21" cy="283.15" r="1.8" fill="#2e3040" fill-opacity="0.51"/><circle cx="567.3" cy="281.21" r="1.4" fill="#2e3040" fill-opacity="0.6"/><circle cx="517.58" cy="321.18" r="1.22" fill="#44465c" fill-opacity="0.65"/><circle cx="535.16" cy="335.09" r="1.49" fill="#44465c" fill-opacity="0.63"/><circle cx="535.73" cy="334.64" r="1.49" fill="#44465c" fill-opacity="0.63"/><circle cx="546.91" cy="288.36" r="1.64" fill="#3a3c50" fill-opacity="0.55"/><circle cx="545.11" cy="287.88" r="1.64" fill="#3a3c50" fill-opacity="0.55"/><circle cx="546.89" cy="287.28" r="1.64" fill="#3a3c50" fill-opacity="0.55"/><circle cx="509.88" cy="313.97" r="1.7" fill="#3a3c50" fill-opacity="0.79"/><circle cx="510.18" cy="313.24" r="1.7" fill="#3a3c50" fill-opacity="0.79"/><circle cx="563.73" cy="266.6" r="1.89" fill="#3a3c50" fill-opacity="0.75"/><circle cx="565.83" cy="267.01" r="1.89" fill="#3a3c50" fill-opacity="0.75"/><circle cx="539.38" cy="331.22" r="1.51" fill="#2e3040" fill-opacity="0.79"/><circle cx="531.5" cy="309" r="1.14" fill="#2e3040" fill-opacity="0.8"/><circle cx="531.09" cy="299.19" r="1.09" fill="#26283a" fill-opacity="0.65"/><circle cx="509.96" cy="287.25" r="1.46" fill="#26283a" fill-opacity="0.65"/><circle cx="525.25" cy="305.89" r="1.79" fill="#2e3040" fill-opacity="0.52"/><circle cx="524.73" cy="304.29" r="1.79" fill="#2e3040" fill-opacity="0.52"/><circle cx="525.49" cy="304.66" r="1.79" fill="#2e3040" fill-opacity="0.52"/><circle cx="576.12" cy="289.02" r="1.9" fill="#26283a" fill-opacity="0.78"/><circle cx="576.2" cy="289.57" r="1.9" fill="#26283a" fill-opacity="0.78"/><circle cx="577.06" cy="290.07" r="1.9" fill="#26283a" fill-opacity="0.78"/><circle cx="550.39" cy="280.79" r="1.72" fill="#3a3c50" fill-opacity="0.81"/><circle cx="552.26" cy="281.1" r="1.72" fill="#3a3c50" fill-opacity="0.81"/><circle cx="552.14" cy="282.36" r="1.72" fill="#3a3c50" fill-opacity="0.81"/><circle cx="548.35" cy="305.21" r="1.28" fill="#3a3c50" fill-opacity="0.85"/><circle cx="565.69" cy="316.46" r="1.11" fill="#3a3c50" fill-opacity="0.64"/><circle cx="531.07" cy="318.13" r="1.5" fill="#2e3040" fill-opacity="0.61"/><circle cx="539.04" cy="263.11" r="1.01" fill="#44465c" fill-opacity="0.62"/><circle cx="553.87" cy="320.69" r="2.01" fill="#2e3040" fill-opacity="0.71"/><circle cx="555.49" cy="318.67" r="2.01" fill="#2e3040" fill-opacity="0.71"/><circle cx="554.57" cy="318.53" r="2.01" fill="#2e3040" fill-opacity="0.71"/><circle cx="510.67" cy="306.34" r="1.37" fill="#26283a" fill-opacity="0.61"/><circle cx="509.38" cy="305.82" r="1.37" fill="#26283a" fill-opacity="0.61"/><circle cx="568.75" cy="314.51" r="1.23" fill="#44465c" fill-opacity="0.88"/><circle cx="516.15" cy="303.41" r="1.42" fill="#26283a" fill-opacity="0.8"/><circle cx="522.41" cy="323.16" r="1.43" fill="#3a3c50" fill-opacity="0.51"/><circle cx="556.4" cy="317.97" r="1.61" fill="#26283a" fill-opacity="0.68"/><circle cx="556.74" cy="317.44" r="1.61" fill="#26283a" fill-opacity="0.68"/><circle cx="556.36" cy="317.11" r="1.61" fill="#26283a" fill-opacity="0.68"/><circle cx="551.55" cy="314.67" r="1.09" fill="#44465c" fill-opacity="0.81"/><circle cx="543.03" cy="294.96" r="1.05" fill="#2e3040" fill-opacity="0.7"/><circle cx="563.27" cy="335.05" r="1.32" fill="#3a3c50" fill-opacity="0.88"/><circle cx="529.27" cy="267.71" r="1.94" fill="#26283a" fill-opacity="0.68"/><circle cx="528.79" cy="267.68" r="1.94" fill="#26283a" fill-opacity="0.68"/><circle cx="528.84" cy="307.88" r="1.58" fill="#3a3c50" fill-opacity="0.78"/><circle cx="527.34" cy="308.37" r="1.58" fill="#3a3c50" fill-opacity="0.78"/><circle cx="527.34" cy="306.92" r="1.58" fill="#3a3c50" fill-opacity="0.78"/><circle cx="582.37" cy="307.48" r="1.48" fill="#2e3040" fill-opacity="0.61"/><circle cx="515.08" cy="284.22" r="1.8" fill="#44465c" fill-opacity="0.81"/><circle cx="515.31" cy="283.01" r="1.8" fill="#44465c" fill-opacity="0.81"/><circle cx="565.85" cy="281.48" r="1.53" fill="#3a3c50" fill-opacity="0.66"/><circle cx="514.51" cy="276.72" r="1.87" fill="#3a3c50" fill-opacity="0.51"/><circle cx="515" cy="275.81" r="1.87" fill="#3a3c50" fill-opacity="0.51"/><circle cx="513" cy="277.51" r="1.87" fill="#3a3c50" fill-opacity="0.51"/><circle cx="559.15" cy="274.09" r="1.19" fill="#2e3040" fill-opacity="0.57"/><circle cx="582.82" cy="293.41" r="1.91" fill="#26283a" fill-opacity="0.84"/><circle cx="582.77" cy="294.79" r="1.91" fill="#26283a" fill-opacity="0.84"/><circle cx="582.77" cy="294.53" r="1.91" fill="#26283a" fill-opacity="0.84"/><circle cx="547.97" cy="333.71" r="1.99" fill="#44465c" fill-opacity="0.63"/><circle cx="547.48" cy="333.88" r="1.99" fill="#44465c" fill-opacity="0.63"/><circle cx="556.54" cy="304.21" r="1.5" fill="#2e3040" fill-opacity="0.61"/><circle cx="556.76" cy="303.88" r="1.5" fill="#2e3040" fill-opacity="0.61"/><circle cx="549.53" cy="266.42" r="1.33" fill="#44465c" fill-opacity="0.73"/><circle cx="570.84" cy="309.38" r="1.51" fill="#3a3c50" fill-opacity="0.66"/><circle cx="515.33" cy="313.52" r="1.9" fill="#44465c" fill-opacity="0.87"/><circle cx="516.54" cy="313.51" r="1.9" fill="#44465c" fill-opacity="0.87"/><circle cx="515.45" cy="313.34" r="1.9" fill="#44465c" fill-opacity="0.87"/><circle cx="526.08" cy="305.52" r="2.86" fill="#26283a" fill-opacity="0.92"/><circle cx="524.74" cy="303.53" r="2.86" fill="#26283a" fill-opacity="0.92"/><circle cx="524.98" cy="304.82" r="2.86" fill="#26283a" fill-opacity="0.92"/><circle cx="520.4" cy="298.31" r="2.26" fill="#44465c" fill-opacity="1"/><circle cx="520.58" cy="299.26" r="2.26" fill="#44465c" fill-opacity="1"/><circle cx="542.3" cy="301.38" r="2.36" fill="#44465c" fill-opacity="0.88"/><circle cx="542.35" cy="299.33" r="2.36" fill="#44465c" fill-opacity="0.88"/><circle cx="509.88" cy="292.79" r="2.04" fill="#2e3040" fill-opacity="0.99"/><circle cx="509.73" cy="292.2" r="2.04" fill="#2e3040" fill-opacity="0.99"/><circle cx="515.04" cy="282.85" r="2.57" fill="#2e3040" fill-opacity="0.93"/><circle cx="515.56" cy="284.99" r="2.57" fill="#2e3040" fill-opacity="0.93"/><circle cx="516.67" cy="285.99" r="2.57" fill="#2e3040" fill-opacity="0.93"/><circle cx="519.42" cy="318.3" r="1.82" fill="#26283a" fill-opacity="0.83"/><circle cx="519.99" cy="318.92" r="1.82" fill="#26283a" fill-opacity="0.83"/><circle cx="519.74" cy="319.54" r="1.82" fill="#26283a" fill-opacity="0.83"/><circle cx="571.45" cy="317.62" r="2.66" fill="#3a3c50" fill-opacity="0.96"/><circle cx="573.19" cy="316.2" r="2.66" fill="#3a3c50" fill-opacity="0.96"/><circle cx="571.12" cy="316.68" r="2.66" fill="#3a3c50" fill-opacity="0.96"/><circle cx="581.83" cy="282.3" r="2.04" fill="#44465c" fill-opacity="0.83"/><circle cx="580.97" cy="282.92" r="2.04" fill="#44465c" fill-opacity="0.83"/><circle cx="581.94" cy="282.64" r="2.04" fill="#44465c" fill-opacity="0.83"/><circle cx="522.52" cy="296.03" r="2.79" fill="#44465c" fill-opacity="0.86"/><circle cx="523.52" cy="297.53" r="2.79" fill="#44465c" fill-opacity="0.86"/><circle cx="509.8" cy="314.57" r="2.13" fill="#44465c" fill-opacity="0.85"/><circle cx="508.27" cy="316.25" r="2.13" fill="#44465c" fill-opacity="0.85"/><circle cx="533.51" cy="300.87" r="2.46" fill="#3a3c50" fill-opacity="0.82"/><circle cx="533.74" cy="301.33" r="2.46" fill="#3a3c50" fill-opacity="0.82"/><circle cx="524.59" cy="270.36" r="2.63" fill="#2e3040" fill-opacity="0.93"/><circle cx="524.52" cy="271.52" r="2.63" fill="#2e3040" fill-opacity="0.93"/></g></g><g clip-path="url(#w3)"><rect x="586.7" y="258.7" width="82" height="82" fill="#cacbcf"/><rect x="586.7" y="258.7" width="82" height="82" filter="url(#w3n0)"/><rect x="586.7" y="258.7" width="82" height="82" filter="url(#w3n1)"/><g filter="url(#bl)"><circle cx="626.7" cy="333.09" r="1.89" fill="#6d6f93" fill-opacity="0.68"/><circle cx="625.09" cy="331.75" r="1.89" fill="#6d6f93" fill-opacity="0.68"/><circle cx="651.44" cy="313.49" r="2.08" fill="#55577c" fill-opacity="0.74"/><circle cx="651.27" cy="313.53" r="2.08" fill="#55577c" fill-opacity="0.74"/><circle cx="626.77" cy="260.84" r="1.41" fill="#6d6f93" fill-opacity="0.62"/><circle cx="635.22" cy="305.75" r="1.85" fill="#55577c" fill-opacity="0.69"/><circle cx="635.44" cy="304.74" r="1.85" fill="#55577c" fill-opacity="0.69"/><circle cx="637.92" cy="309.89" r="1.94" fill="#7a7c98" fill-opacity="0.64"/><circle cx="636.09" cy="309.23" r="1.94" fill="#7a7c98" fill-opacity="0.64"/><circle cx="616.71" cy="310.93" r="1.36" fill="#7a7c98" fill-opacity="0.73"/><circle cx="641.56" cy="321.78" r="1.93" fill="#55577c" fill-opacity="0.52"/><circle cx="642.49" cy="321.89" r="1.93" fill="#55577c" fill-opacity="0.52"/><circle cx="640.88" cy="321.39" r="1.93" fill="#55577c" fill-opacity="0.52"/><circle cx="632.7" cy="293.7" r="1.06" fill="#55577c" fill-opacity="0.51"/><circle cx="623.47" cy="306.71" r="1.83" fill="#5f6188" fill-opacity="0.79"/><circle cx="622.28" cy="306.22" r="1.83" fill="#5f6188" fill-opacity="0.79"/><circle cx="622.93" cy="307.58" r="1.83" fill="#5f6188" fill-opacity="0.79"/><circle cx="596.38" cy="286.52" r="1.47" fill="#5f6188" fill-opacity="0.45"/><circle cx="597.07" cy="287.01" r="1.47" fill="#5f6188" fill-opacity="0.45"/><circle cx="596.5" cy="285.87" r="1.47" fill="#5f6188" fill-opacity="0.45"/><circle cx="635.34" cy="276.75" r="1.25" fill="#6d6f93" fill-opacity="0.54"/><circle cx="637.81" cy="309.52" r="1.33" fill="#55577c" fill-opacity="0.6"/><circle cx="636.47" cy="303.04" r="1.64" fill="#55577c" fill-opacity="0.52"/><circle cx="634.56" cy="303.33" r="1.64" fill="#55577c" fill-opacity="0.52"/><circle cx="636.39" cy="302.55" r="1.64" fill="#55577c" fill-opacity="0.52"/><circle cx="631.69" cy="314.86" r="1.47" fill="#55577c" fill-opacity="0.49"/><circle cx="632.46" cy="299.22" r="1.83" fill="#55577c" fill-opacity="0.51"/><circle cx="632.48" cy="298.74" r="1.83" fill="#55577c" fill-opacity="0.51"/><circle cx="636.2" cy="321.91" r="1.08" fill="#6d6f93" fill-opacity="0.68"/><circle cx="651.88" cy="287.49" r="1.59" fill="#5f6188" fill-opacity="0.49"/><circle cx="650.74" cy="286.77" r="1.59" fill="#5f6188" fill-opacity="0.49"/><circle cx="618.6" cy="320.11" r="1.27" fill="#5f6188" fill-opacity="0.49"/><circle cx="620.52" cy="283.52" r="1.72" fill="#55577c" fill-opacity="0.77"/><circle cx="622.42" cy="283.87" r="1.72" fill="#55577c" fill-opacity="0.77"/><circle cx="641.32" cy="300.41" r="1.41" fill="#55577c" fill-opacity="0.53"/><circle cx="648.28" cy="281" r="1.32" fill="#6d6f93" fill-opacity="0.61"/><circle cx="648.75" cy="280.7" r="1.32" fill="#6d6f93" fill-opacity="0.61"/><circle cx="648.91" cy="280.44" r="1.32" fill="#6d6f93" fill-opacity="0.61"/><circle cx="628.29" cy="294.84" r="1.93" fill="#7a7c98" fill-opacity="0.65"/><circle cx="629.34" cy="294.08" r="1.93" fill="#7a7c98" fill-opacity="0.65"/><circle cx="633.73" cy="298.11" r="1.23" fill="#6d6f93" fill-opacity="0.68"/><circle cx="646.67" cy="305.72" r="1.45" fill="#7a7c98" fill-opacity="0.76"/><circle cx="646.44" cy="306.41" r="1.45" fill="#7a7c98" fill-opacity="0.76"/><circle cx="645.92" cy="305.54" r="1.45" fill="#7a7c98" fill-opacity="0.76"/><circle cx="626.96" cy="302.13" r="1.21" fill="#55577c" fill-opacity="0.7"/><circle cx="627.25" cy="314.32" r="1.56" fill="#5f6188" fill-opacity="0.64"/><circle cx="627.58" cy="315.04" r="1.56" fill="#5f6188" fill-opacity="0.64"/><circle cx="626.14" cy="294.71" r="1.99" fill="#7a7c98" fill-opacity="0.63"/><circle cx="627.57" cy="294.74" r="1.99" fill="#7a7c98" fill-opacity="0.63"/><circle cx="626.23" cy="293.23" r="1.99" fill="#7a7c98" fill-opacity="0.63"/><circle cx="602.34" cy="303.75" r="1.8" fill="#7a7c98" fill-opacity="0.59"/><circle cx="601.24" cy="302.55" r="1.8" fill="#7a7c98" fill-opacity="0.59"/><circle cx="601.39" cy="302.79" r="1.8" fill="#7a7c98" fill-opacity="0.59"/><circle cx="647.07" cy="296.24" r="1.33" fill="#5f6188" fill-opacity="0.71"/><circle cx="644.86" cy="299.82" r="1.3" fill="#5f6188" fill-opacity="0.53"/><circle cx="609.83" cy="271.37" r="1.82" fill="#6d6f93" fill-opacity="0.49"/><circle cx="609.6" cy="271.97" r="1.82" fill="#6d6f93" fill-opacity="0.49"/><circle cx="608.81" cy="271.8" r="1.82" fill="#6d6f93" fill-opacity="0.49"/><circle cx="633.83" cy="315.46" r="1.51" fill="#55577c" fill-opacity="0.55"/><circle cx="633.95" cy="315.85" r="1.51" fill="#55577c" fill-opacity="0.55"/><circle cx="647.39" cy="295.46" r="1.35" fill="#55577c" fill-opacity="0.49"/><circle cx="663.78" cy="310.3" r="1.22" fill="#7a7c98" fill-opacity="0.53"/><circle cx="655.45" cy="312.74" r="1.85" fill="#7a7c98" fill-opacity="0.46"/><circle cx="654.14" cy="312.08" r="1.85" fill="#7a7c98" fill-opacity="0.46"/><circle cx="632.52" cy="309.66" r="1.31" fill="#6d6f93" fill-opacity="0.71"/><circle cx="661.91" cy="287.5" r="1.79" fill="#7a7c98" fill-opacity="0.59"/><circle cx="660.93" cy="286.17" r="1.79" fill="#7a7c98" fill-opacity="0.59"/><circle cx="633.48" cy="315.13" r="1.31" fill="#5f6188" fill-opacity="0.72"/><circle cx="634.15" cy="314.48" r="1.31" fill="#5f6188" fill-opacity="0.72"/><circle cx="633.54" cy="315.01" r="1.31" fill="#5f6188" fill-opacity="0.72"/><circle cx="641.06" cy="299.41" r="1.44" fill="#7a7c98" fill-opacity="0.46"/><circle cx="639.96" cy="287.51" r="1.53" fill="#5f6188" fill-opacity="0.59"/><circle cx="639.51" cy="286.92" r="1.53" fill="#5f6188" fill-opacity="0.59"/><circle cx="634.34" cy="284.18" r="1.31" fill="#6d6f93" fill-opacity="0.75"/><circle cx="635.16" cy="283.32" r="1.31" fill="#6d6f93" fill-opacity="0.75"/><circle cx="635.74" cy="283.43" r="1.31" fill="#6d6f93" fill-opacity="0.75"/><circle cx="617.76" cy="300.06" r="1.62" fill="#6d6f93" fill-opacity="0.7"/><circle cx="618.67" cy="299.11" r="1.62" fill="#6d6f93" fill-opacity="0.7"/><circle cx="635.19" cy="284.58" r="2.03" fill="#6d6f93" fill-opacity="0.5"/><circle cx="635.17" cy="285.62" r="2.03" fill="#6d6f93" fill-opacity="0.5"/><circle cx="636.53" cy="295.74" r="1.8" fill="#5f6188" fill-opacity="0.7"/><circle cx="636.09" cy="296.23" r="1.8" fill="#5f6188" fill-opacity="0.7"/><circle cx="651.71" cy="300.4" r="1.83" fill="#55577c" fill-opacity="0.5"/><circle cx="651.02" cy="300.62" r="1.83" fill="#55577c" fill-opacity="0.5"/><circle cx="617.01" cy="265.54" r="1.44" fill="#7a7c98" fill-opacity="0.63"/><circle cx="617.69" cy="265.31" r="1.44" fill="#7a7c98" fill-opacity="0.63"/><circle cx="628.93" cy="296.61" r="1.39" fill="#6d6f93" fill-opacity="0.54"/><circle cx="628.32" cy="297.22" r="1.39" fill="#6d6f93" fill-opacity="0.54"/><circle cx="628.49" cy="297.19" r="1.39" fill="#6d6f93" fill-opacity="0.54"/><circle cx="620.75" cy="330.2" r="1.03" fill="#7a7c98" fill-opacity="0.54"/><circle cx="618.08" cy="303.8" r="1.18" fill="#55577c" fill-opacity="0.48"/><circle cx="623.4" cy="293.1" r="1" fill="#5f6188" fill-opacity="0.79"/><circle cx="605.73" cy="331.06" r="1.9" fill="#5f6188" fill-opacity="0.66"/><circle cx="605.53" cy="331.08" r="1.9" fill="#5f6188" fill-opacity="0.66"/><circle cx="606.99" cy="330.38" r="1.9" fill="#5f6188" fill-opacity="0.66"/><circle cx="643.96" cy="314.43" r="1.29" fill="#5f6188" fill-opacity="0.48"/><circle cx="643.49" cy="314.36" r="1.29" fill="#5f6188" fill-opacity="0.48"/><circle cx="642.5" cy="314.66" r="1.29" fill="#5f6188" fill-opacity="0.48"/><circle cx="630.17" cy="312.55" r="1.66" fill="#5f6188" fill-opacity="0.56"/><circle cx="630.81" cy="313.86" r="1.66" fill="#5f6188" fill-opacity="0.56"/><circle cx="631.67" cy="313.75" r="1.66" fill="#5f6188" fill-opacity="0.56"/><circle cx="641.65" cy="298.45" r="1.25" fill="#55577c" fill-opacity="0.72"/><circle cx="667.63" cy="320.33" r="1.09" fill="#6d6f93" fill-opacity="0.55"/><circle cx="664.42" cy="302.62" r="1.77" fill="#55577c" fill-opacity="0.79"/><circle cx="663.51" cy="301.92" r="1.77" fill="#55577c" fill-opacity="0.79"/><circle cx="636.51" cy="318.7" r="1.45" fill="#6d6f93" fill-opacity="0.75"/><circle cx="639.49" cy="304.65" r="1.64" fill="#7a7c98" fill-opacity="0.54"/><circle cx="641.21" cy="304.21" r="1.64" fill="#7a7c98" fill-opacity="0.54"/><circle cx="640.1" cy="304.07" r="1.64" fill="#7a7c98" fill-opacity="0.54"/><circle cx="632.18" cy="317.89" r="1.41" fill="#5f6188" fill-opacity="0.64"/><circle cx="632.65" cy="317.53" r="1.41" fill="#5f6188" fill-opacity="0.64"/><circle cx="609.23" cy="296.58" r="1.17" fill="#6d6f93" fill-opacity="0.78"/><circle cx="608.72" cy="279.28" r="1.33" fill="#7a7c98" fill-opacity="0.59"/><circle cx="638.3" cy="298.05" r="1.86" fill="#55577c" fill-opacity="0.62"/><circle cx="636.72" cy="297.96" r="1.86" fill="#55577c" fill-opacity="0.62"/><circle cx="638.06" cy="297.79" r="1.86" fill="#55577c" fill-opacity="0.62"/><circle cx="642" cy="305.82" r="1.63" fill="#55577c" fill-opacity="0.77"/><circle cx="643.11" cy="306.58" r="1.63" fill="#55577c" fill-opacity="0.77"/><circle cx="642.66" cy="306.48" r="1.63" fill="#55577c" fill-opacity="0.77"/><circle cx="637.27" cy="303.57" r="1.84" fill="#5f6188" fill-opacity="0.49"/><circle cx="638.62" cy="305.32" r="1.84" fill="#5f6188" fill-opacity="0.49"/><circle cx="650.74" cy="293.99" r="1.35" fill="#5f6188" fill-opacity="0.49"/><circle cx="650.91" cy="294" r="1.35" fill="#5f6188" fill-opacity="0.49"/><circle cx="650.39" cy="294.42" r="1.35" fill="#5f6188" fill-opacity="0.49"/><circle cx="631.74" cy="312.51" r="1.12" fill="#5f6188" fill-opacity="0.75"/><circle cx="604.86" cy="326.72" r="1.57" fill="#7a7c98" fill-opacity="0.63"/><circle cx="604.16" cy="325.67" r="1.57" fill="#7a7c98" fill-opacity="0.63"/><circle cx="604.66" cy="325.1" r="1.57" fill="#7a7c98" fill-opacity="0.63"/><circle cx="591.26" cy="302.22" r="1.49" fill="#55577c" fill-opacity="0.57"/><circle cx="590.64" cy="301.91" r="1.49" fill="#55577c" fill-opacity="0.57"/><circle cx="588.65" cy="298" r="1.76" fill="#55577c" fill-opacity="0.55"/><circle cx="589.7" cy="297.73" r="1.76" fill="#55577c" fill-opacity="0.55"/><circle cx="589.01" cy="298.79" r="1.76" fill="#55577c" fill-opacity="0.55"/><circle cx="607.28" cy="306.6" r="1.01" fill="#5f6188" fill-opacity="0.79"/><circle cx="643.47" cy="281.53" r="2.03" fill="#7a7c98" fill-opacity="0.48"/><circle cx="642.91" cy="282.13" r="2.03" fill="#7a7c98" fill-opacity="0.48"/><circle cx="644.48" cy="282.64" r="2.03" fill="#7a7c98" fill-opacity="0.48"/><circle cx="651" cy="293.21" r="1.04" fill="#55577c" fill-opacity="0.78"/><circle cx="627.41" cy="295.69" r="1.12" fill="#6d6f93" fill-opacity="0.75"/><circle cx="654.9" cy="294.08" r="1.07" fill="#5f6188" fill-opacity="0.67"/><circle cx="638.88" cy="292.17" r="1.7" fill="#55577c" fill-opacity="0.54"/><circle cx="639.13" cy="292.52" r="1.7" fill="#55577c" fill-opacity="0.54"/><circle cx="630.57" cy="298.11" r="1.1" fill="#7a7c98" fill-opacity="0.53"/><circle cx="647.42" cy="311.98" r="1.82" fill="#7a7c98" fill-opacity="0.78"/><circle cx="648.6" cy="312.91" r="1.82" fill="#7a7c98" fill-opacity="0.78"/><circle cx="648.09" cy="312.31" r="1.82" fill="#7a7c98" fill-opacity="0.78"/><circle cx="630.78" cy="304.55" r="1.88" fill="#5f6188" fill-opacity="0.47"/><circle cx="631.18" cy="303.93" r="1.88" fill="#5f6188" fill-opacity="0.47"/><circle cx="630.17" cy="303.58" r="1.88" fill="#5f6188" fill-opacity="0.47"/><circle cx="644.34" cy="271.82" r="1.8" fill="#5f6188" fill-opacity="0.47"/><circle cx="644.42" cy="271.27" r="1.8" fill="#5f6188" fill-opacity="0.47"/><circle cx="616.01" cy="301.37" r="2.04" fill="#55577c" fill-opacity="0.63"/><circle cx="615.47" cy="300.52" r="2.04" fill="#55577c" fill-opacity="0.63"/><circle cx="614.64" cy="301.98" r="2.04" fill="#55577c" fill-opacity="0.63"/><circle cx="632.57" cy="268.39" r="1.5" fill="#6d6f93" fill-opacity="0.57"/><circle cx="653.05" cy="307.18" r="1.99" fill="#7a7c98" fill-opacity="0.65"/><circle cx="653.18" cy="306.13" r="1.99" fill="#7a7c98" fill-opacity="0.65"/><circle cx="654.18" cy="307.19" r="1.99" fill="#7a7c98" fill-opacity="0.65"/><circle cx="627.91" cy="308.69" r="1.38" fill="#7a7c98" fill-opacity="0.8"/><circle cx="629.43" cy="307.8" r="1.38" fill="#7a7c98" fill-opacity="0.8"/><circle cx="628.79" cy="307.28" r="1.38" fill="#7a7c98" fill-opacity="0.8"/><circle cx="596.49" cy="290.17" r="1.84" fill="#55577c" fill-opacity="0.51"/><circle cx="596.44" cy="289.84" r="1.84" fill="#55577c" fill-opacity="0.51"/><circle cx="653.02" cy="326.4" r="1.94" fill="#55577c" fill-opacity="0.63"/><circle cx="654.03" cy="326.63" r="1.94" fill="#55577c" fill-opacity="0.63"/><circle cx="653.41" cy="326.35" r="1.94" fill="#55577c" fill-opacity="0.63"/><circle cx="624.88" cy="305.66" r="1.55" fill="#6d6f93" fill-opacity="0.46"/><circle cx="646.52" cy="303.02" r="1.07" fill="#7a7c98" fill-opacity="0.5"/><circle cx="615.72" cy="261.66" r="1.3" fill="#6d6f93" fill-opacity="0.75"/><circle cx="615.53" cy="262.34" r="1.3" fill="#6d6f93" fill-opacity="0.75"/><circle cx="616.66" cy="261.91" r="1.3" fill="#6d6f93" fill-opacity="0.75"/><circle cx="588.26" cy="300.16" r="1.08" fill="#7a7c98" fill-opacity="0.49"/><circle cx="608.74" cy="320.06" r="1.24" fill="#6d6f93" fill-opacity="0.72"/><circle cx="615.37" cy="296.41" r="1.17" fill="#7a7c98" fill-opacity="0.67"/><circle cx="635.73" cy="298.42" r="1.4" fill="#7a7c98" fill-opacity="0.7"/><circle cx="627.25" cy="303.43" r="1.88" fill="#6d6f93" fill-opacity="0.79"/><circle cx="626.7" cy="301.74" r="1.88" fill="#6d6f93" fill-opacity="0.79"/><circle cx="613.74" cy="299.85" r="1.5" fill="#6d6f93" fill-opacity="0.79"/><circle cx="613.83" cy="298.83" r="1.5" fill="#6d6f93" fill-opacity="0.79"/><circle cx="640.98" cy="293.93" r="1.53" fill="#55577c" fill-opacity="0.45"/><circle cx="601.19" cy="293.17" r="1.35" fill="#6d6f93" fill-opacity="0.58"/><circle cx="628.81" cy="310.02" r="1.4" fill="#6d6f93" fill-opacity="0.47"/><circle cx="621.14" cy="285.7" r="1.53" fill="#7a7c98" fill-opacity="0.78"/><circle cx="607.9" cy="288.33" r="1.23" fill="#55577c" fill-opacity="0.55"/><circle cx="653.81" cy="311.8" r="1.47" fill="#55577c" fill-opacity="0.79"/><circle cx="642.45" cy="283.23" r="1.93" fill="#5f6188" fill-opacity="0.61"/><circle cx="643.28" cy="283.44" r="1.93" fill="#5f6188" fill-opacity="0.61"/><circle cx="642.69" cy="283.46" r="1.93" fill="#5f6188" fill-opacity="0.61"/><circle cx="640.71" cy="283.8" r="1.36" fill="#7a7c98" fill-opacity="0.53"/><circle cx="639.99" cy="282.85" r="1.36" fill="#7a7c98" fill-opacity="0.53"/><circle cx="647.67" cy="317.98" r="1.08" fill="#5f6188" fill-opacity="0.59"/><circle cx="642.3" cy="310.25" r="1.58" fill="#7a7c98" fill-opacity="0.57"/><circle cx="641.67" cy="310.81" r="1.58" fill="#7a7c98" fill-opacity="0.57"/><circle cx="640.47" cy="310.05" r="1.14" fill="#55577c" fill-opacity="0.71"/><circle cx="625.45" cy="290.3" r="1.49" fill="#6d6f93" fill-opacity="0.77"/><circle cx="624.66" cy="291.24" r="1.49" fill="#6d6f93" fill-opacity="0.77"/><circle cx="623.9" cy="290.74" r="1.49" fill="#6d6f93" fill-opacity="0.77"/><circle cx="656.84" cy="321.74" r="1.11" fill="#5f6188" fill-opacity="0.75"/><circle cx="628.09" cy="263.74" r="1.08" fill="#55577c" fill-opacity="0.59"/><circle cx="647.6" cy="281.87" r="1.44" fill="#7a7c98" fill-opacity="0.76"/><circle cx="647.09" cy="281.93" r="1.44" fill="#7a7c98" fill-opacity="0.76"/><circle cx="647.24" cy="281.09" r="1.44" fill="#7a7c98" fill-opacity="0.76"/><circle cx="648.53" cy="287.1" r="1.58" fill="#6d6f93" fill-opacity="0.78"/><circle cx="647.48" cy="286.68" r="1.58" fill="#6d6f93" fill-opacity="0.78"/><circle cx="616.4" cy="296.27" r="1.43" fill="#5f6188" fill-opacity="0.69"/><circle cx="647.42" cy="284.76" r="1.43" fill="#7a7c98" fill-opacity="0.78"/><circle cx="625.63" cy="308.86" r="1.62" fill="#7a7c98" fill-opacity="0.63"/><circle cx="624.91" cy="307.33" r="1.62" fill="#7a7c98" fill-opacity="0.63"/><circle cx="624.91" cy="307.38" r="1.62" fill="#7a7c98" fill-opacity="0.63"/><circle cx="638.21" cy="299.82" r="1.59" fill="#5f6188" fill-opacity="0.57"/><circle cx="639.97" cy="314.51" r="1.73" fill="#55577c" fill-opacity="0.71"/><circle cx="641.32" cy="314.72" r="1.73" fill="#55577c" fill-opacity="0.71"/><circle cx="643.81" cy="283.66" r="1.86" fill="#6d6f93" fill-opacity="0.78"/><circle cx="643.69" cy="285.58" r="1.86" fill="#6d6f93" fill-opacity="0.78"/><circle cx="643.52" cy="285.41" r="1.86" fill="#6d6f93" fill-opacity="0.78"/><circle cx="646.31" cy="286.85" r="1.25" fill="#7a7c98" fill-opacity="0.58"/><circle cx="632.03" cy="293.6" r="1.09" fill="#6d6f93" fill-opacity="0.57"/><circle cx="635.47" cy="312.85" r="1.48" fill="#5f6188" fill-opacity="0.52"/><circle cx="635.87" cy="296.41" r="1.42" fill="#55577c" fill-opacity="0.46"/><circle cx="636.08" cy="297.16" r="1.42" fill="#55577c" fill-opacity="0.46"/><circle cx="636.3" cy="296.23" r="1.42" fill="#55577c" fill-opacity="0.46"/><circle cx="634.9" cy="283.86" r="1.09" fill="#26283a" fill-opacity="0.65"/><circle cx="615.81" cy="276.56" r="1.12" fill="#26283a" fill-opacity="0.52"/><circle cx="627.75" cy="297.43" r="1.44" fill="#44465c" fill-opacity="0.67"/><circle cx="609.19" cy="293.57" r="1.02" fill="#44465c" fill-opacity="0.7"/><circle cx="637.76" cy="292.41" r="1.41" fill="#3a3c50" fill-opacity="0.74"/><circle cx="637.76" cy="293.09" r="1.41" fill="#3a3c50" fill-opacity="0.74"/><circle cx="616.15" cy="315.46" r="1.81" fill="#3a3c50" fill-opacity="0.54"/><circle cx="615.52" cy="314.53" r="1.81" fill="#3a3c50" fill-opacity="0.54"/><circle cx="615.96" cy="315.02" r="1.81" fill="#3a3c50" fill-opacity="0.54"/><circle cx="606.81" cy="266.18" r="1.81" fill="#44465c" fill-opacity="0.79"/><circle cx="607.59" cy="265.82" r="1.81" fill="#44465c" fill-opacity="0.79"/><circle cx="608.54" cy="267.01" r="1.81" fill="#44465c" fill-opacity="0.79"/><circle cx="636.47" cy="280.75" r="1.5" fill="#44465c" fill-opacity="0.69"/><circle cx="637.18" cy="279.83" r="1.5" fill="#44465c" fill-opacity="0.69"/><circle cx="640.87" cy="284.38" r="1.44" fill="#44465c" fill-opacity="0.63"/><circle cx="641.45" cy="282.88" r="1.44" fill="#44465c" fill-opacity="0.63"/><circle cx="604.29" cy="285.19" r="1.23" fill="#3a3c50" fill-opacity="0.79"/><circle cx="647.63" cy="324.91" r="1.81" fill="#26283a" fill-opacity="0.61"/><circle cx="648.76" cy="325.61" r="1.81" fill="#26283a" fill-opacity="0.61"/><circle cx="661.39" cy="293.73" r="1.79" fill="#3a3c50" fill-opacity="0.65"/><circle cx="662.72" cy="292.9" r="1.79" fill="#3a3c50" fill-opacity="0.65"/><circle cx="662.48" cy="294.17" r="1.79" fill="#3a3c50" fill-opacity="0.65"/><circle cx="619.9" cy="280.66" r="1.96" fill="#26283a" fill-opacity="0.52"/><circle cx="617.81" cy="279.59" r="1.96" fill="#26283a" fill-opacity="0.52"/><circle cx="619.6" cy="278.81" r="1.96" fill="#26283a" fill-opacity="0.52"/><circle cx="643.05" cy="265.73" r="1.73" fill="#3a3c50" fill-opacity="0.57"/><circle cx="642.85" cy="266.65" r="1.73" fill="#3a3c50" fill-opacity="0.57"/><circle cx="633.75" cy="293.93" r="1.74" fill="#3a3c50" fill-opacity="0.79"/><circle cx="634.27" cy="294.04" r="1.74" fill="#3a3c50" fill-opacity="0.79"/><circle cx="591.42" cy="286.41" r="1.8" fill="#3a3c50" fill-opacity="0.52"/><circle cx="590.71" cy="286.13" r="1.8" fill="#3a3c50" fill-opacity="0.52"/><circle cx="591.2" cy="286.76" r="1.8" fill="#3a3c50" fill-opacity="0.52"/><circle cx="655.69" cy="312.84" r="1.85" fill="#3a3c50" fill-opacity="0.67"/><circle cx="656.52" cy="313.8" r="1.85" fill="#3a3c50" fill-opacity="0.67"/><circle cx="653.64" cy="320.52" r="1.44" fill="#3a3c50" fill-opacity="0.63"/><circle cx="639.77" cy="279.92" r="1.56" fill="#3a3c50" fill-opacity="0.74"/><circle cx="633.8" cy="325.99" r="1.54" fill="#26283a" fill-opacity="0.59"/><circle cx="597.89" cy="318.44" r="1.49" fill="#3a3c50" fill-opacity="0.74"/><circle cx="652.47" cy="288.11" r="1.51" fill="#44465c" fill-opacity="0.62"/><circle cx="653.14" cy="288.41" r="1.51" fill="#44465c" fill-opacity="0.62"/><circle cx="653.29" cy="289.55" r="1.51" fill="#44465c" fill-opacity="0.62"/><circle cx="599.84" cy="273.14" r="1.51" fill="#2e3040" fill-opacity="0.82"/><circle cx="599.2" cy="273.39" r="1.51" fill="#2e3040" fill-opacity="0.82"/><circle cx="600" cy="274.48" r="1.51" fill="#2e3040" fill-opacity="0.82"/><circle cx="609.21" cy="324.29" r="1.48" fill="#26283a" fill-opacity="0.83"/><circle cx="589.99" cy="291.28" r="1.76" fill="#3a3c50" fill-opacity="0.72"/><circle cx="590.38" cy="291.13" r="1.76" fill="#3a3c50" fill-opacity="0.72"/><circle cx="590.25" cy="290.83" r="1.76" fill="#3a3c50" fill-opacity="0.72"/><circle cx="625.83" cy="274.61" r="1.42" fill="#3a3c50" fill-opacity="0.72"/><circle cx="626.72" cy="273.76" r="1.42" fill="#3a3c50" fill-opacity="0.72"/><circle cx="624.72" cy="335.57" r="1.62" fill="#26283a" fill-opacity="0.55"/><circle cx="625.17" cy="337.14" r="1.62" fill="#26283a" fill-opacity="0.55"/><circle cx="624.74" cy="336.07" r="1.62" fill="#26283a" fill-opacity="0.55"/><circle cx="608.49" cy="329.73" r="1.59" fill="#26283a" fill-opacity="0.83"/><circle cx="631.46" cy="312.53" r="1.47" fill="#26283a" fill-opacity="0.58"/><circle cx="608.35" cy="302.32" r="1.44" fill="#3a3c50" fill-opacity="0.72"/><circle cx="608.14" cy="300.91" r="1.44" fill="#3a3c50" fill-opacity="0.72"/><circle cx="608.24" cy="301.03" r="1.44" fill="#3a3c50" fill-opacity="0.72"/><circle cx="647.33" cy="322.34" r="1.89" fill="#44465c" fill-opacity="0.69"/><circle cx="647.41" cy="321.52" r="1.89" fill="#44465c" fill-opacity="0.69"/><circle cx="625.35" cy="282.58" r="1.96" fill="#44465c" fill-opacity="0.65"/><circle cx="625.81" cy="284.21" r="1.96" fill="#44465c" fill-opacity="0.65"/><circle cx="625.71" cy="284.02" r="1.96" fill="#44465c" fill-opacity="0.65"/><circle cx="597.5" cy="324.34" r="1.91" fill="#2e3040" fill-opacity="0.53"/><circle cx="598.1" cy="324.63" r="1.91" fill="#2e3040" fill-opacity="0.53"/><circle cx="598.13" cy="324.59" r="1.91" fill="#2e3040" fill-opacity="0.53"/><circle cx="644.81" cy="334.15" r="1.33" fill="#2e3040" fill-opacity="0.58"/><circle cx="617.09" cy="306.7" r="1.8" fill="#3a3c50" fill-opacity="0.65"/><circle cx="616.47" cy="307.86" r="1.8" fill="#3a3c50" fill-opacity="0.65"/><circle cx="616.79" cy="306.29" r="1.8" fill="#3a3c50" fill-opacity="0.65"/><circle cx="613.56" cy="270.39" r="1.65" fill="#26283a" fill-opacity="0.52"/><circle cx="612.58" cy="271.9" r="1.65" fill="#26283a" fill-opacity="0.52"/><circle cx="612.71" cy="272.22" r="1.65" fill="#26283a" fill-opacity="0.52"/><circle cx="651.16" cy="325.25" r="1.4" fill="#44465c" fill-opacity="0.56"/><circle cx="650.93" cy="325.02" r="1.4" fill="#44465c" fill-opacity="0.56"/><circle cx="648.05" cy="328.23" r="1.46" fill="#26283a" fill-opacity="0.61"/><circle cx="648.97" cy="327.6" r="1.46" fill="#26283a" fill-opacity="0.61"/><circle cx="648.95" cy="327.25" r="1.46" fill="#26283a" fill-opacity="0.61"/><circle cx="644.83" cy="268.5" r="1.63" fill="#2e3040" fill-opacity="0.73"/><circle cx="644.53" cy="268.07" r="1.63" fill="#2e3040" fill-opacity="0.73"/><circle cx="646.43" cy="268.4" r="1.63" fill="#2e3040" fill-opacity="0.73"/><circle cx="633.28" cy="337.22" r="1.18" fill="#44465c" fill-opacity="0.72"/><circle cx="660.69" cy="302.59" r="1.88" fill="#2e3040" fill-opacity="0.53"/><circle cx="662.51" cy="304.31" r="1.88" fill="#2e3040" fill-opacity="0.53"/><circle cx="594.28" cy="282.16" r="1.51" fill="#26283a" fill-opacity="0.62"/><circle cx="593.65" cy="283.39" r="1.51" fill="#26283a" fill-opacity="0.62"/><circle cx="594.26" cy="282.09" r="1.51" fill="#26283a" fill-opacity="0.62"/><circle cx="653.85" cy="329.39" r="1.19" fill="#26283a" fill-opacity="0.62"/><circle cx="653.98" cy="294.29" r="1.42" fill="#3a3c50" fill-opacity="0.79"/><circle cx="626.83" cy="263.92" r="1.12" fill="#26283a" fill-opacity="0.62"/><circle cx="630.03" cy="307.46" r="1.2" fill="#44465c" fill-opacity="0.65"/><circle cx="650.68" cy="329.98" r="1.18" fill="#2e3040" fill-opacity="0.74"/><circle cx="609.46" cy="305.12" r="1.32" fill="#26283a" fill-opacity="0.85"/><circle cx="609.95" cy="304.25" r="1.32" fill="#26283a" fill-opacity="0.85"/><circle cx="609.39" cy="305.27" r="1.32" fill="#26283a" fill-opacity="0.85"/><circle cx="646.02" cy="293.37" r="1.64" fill="#2e3040" fill-opacity="0.64"/><circle cx="645.88" cy="293.85" r="1.64" fill="#2e3040" fill-opacity="0.64"/><circle cx="646.61" cy="293.66" r="1.64" fill="#2e3040" fill-opacity="0.64"/><circle cx="608.8" cy="293.5" r="1.47" fill="#44465c" fill-opacity="0.78"/><circle cx="608.51" cy="293.37" r="1.47" fill="#44465c" fill-opacity="0.78"/><circle cx="615.05" cy="290.1" r="1.99" fill="#3a3c50" fill-opacity="0.99"/><circle cx="614.76" cy="290.17" r="1.99" fill="#3a3c50" fill-opacity="0.99"/><circle cx="615.14" cy="291.74" r="1.99" fill="#3a3c50" fill-opacity="0.99"/><circle cx="601.28" cy="314.6" r="2.51" fill="#44465c" fill-opacity="0.87"/><circle cx="601.61" cy="315.92" r="2.51" fill="#44465c" fill-opacity="0.87"/><circle cx="603.24" cy="316.71" r="2.51" fill="#44465c" fill-opacity="0.87"/><circle cx="599.65" cy="305.58" r="2.08" fill="#44465c" fill-opacity="0.96"/><circle cx="599.66" cy="306.6" r="2.08" fill="#44465c" fill-opacity="0.96"/><circle cx="600.71" cy="271.92" r="2.06" fill="#3a3c50" fill-opacity="0.99"/><circle cx="601.63" cy="271.2" r="2.06" fill="#3a3c50" fill-opacity="0.99"/><circle cx="614.34" cy="302.56" r="1.87" fill="#26283a" fill-opacity="0.93"/><circle cx="615.5" cy="301.91" r="1.87" fill="#26283a" fill-opacity="0.93"/><circle cx="625.73" cy="325.41" r="2.66" fill="#26283a" fill-opacity="0.96"/><circle cx="626.44" cy="325.91" r="2.66" fill="#26283a" fill-opacity="0.96"/><circle cx="619.39" cy="310.7" r="2.05" fill="#26283a" fill-opacity="0.93"/><circle cx="617.32" cy="310.54" r="2.05" fill="#26283a" fill-opacity="0.93"/></g></g><g clip-path="url(#w4)"><rect x="421.5" y="343.3" width="82.4" height="82.4" fill="#aacdbd"/><rect x="421.5" y="343.3" width="82.4" height="82.4" filter="url(#w4n0)"/><rect x="421.5" y="343.3" width="82.4" height="82.4" filter="url(#w4n1)"/><g filter="url(#bl)"><circle cx="480.44" cy="413.19" r="1.5" fill="#3a3344" fill-opacity="0.95"/><circle cx="480.06" cy="380.46" r="1.38" fill="#4a3f5e" fill-opacity="0.7"/><circle cx="484.28" cy="411.18" r="1.45" fill="#4a3f5e" fill-opacity="0.83"/><circle cx="483.76" cy="412.02" r="1.45" fill="#4a3f5e" fill-opacity="0.83"/><circle cx="483.37" cy="412.84" r="1.45" fill="#4a3f5e" fill-opacity="0.83"/><circle cx="451.91" cy="396.22" r="1.36" fill="#4a3f5e" fill-opacity="0.94"/><circle cx="451.72" cy="396.11" r="1.36" fill="#4a3f5e" fill-opacity="0.94"/><circle cx="465.18" cy="392.47" r="1.4" fill="#2a2430" fill-opacity="0.72"/><circle cx="466.38" cy="392.09" r="1.4" fill="#2a2430" fill-opacity="0.72"/><circle cx="464.68" cy="354.64" r="1.28" fill="#4a3f5e" fill-opacity="0.87"/><circle cx="465.78" cy="353.82" r="1.28" fill="#4a3f5e" fill-opacity="0.87"/><circle cx="464.94" cy="353.89" r="1.28" fill="#4a3f5e" fill-opacity="0.87"/><circle cx="432.08" cy="411.13" r="1.23" fill="#4a3f5e" fill-opacity="0.95"/><circle cx="464.67" cy="384.68" r="0.88" fill="#2a2430" fill-opacity="0.87"/><circle cx="487.83" cy="405.61" r="1.49" fill="#6e5e76" fill-opacity="0.8"/><circle cx="471.2" cy="391.4" r="1.36" fill="#3a3344" fill-opacity="0.81"/><circle cx="471.68" cy="390.57" r="1.36" fill="#3a3344" fill-opacity="0.81"/><circle cx="501.84" cy="381.44" r="1.45" fill="#6e5e76" fill-opacity="0.85"/><circle cx="474.22" cy="373.43" r="0.88" fill="#3a3344" fill-opacity="0.93"/><circle cx="481.91" cy="391.49" r="1.12" fill="#3a3344" fill-opacity="0.77"/><circle cx="452.97" cy="372.48" r="0.97" fill="#3a3344" fill-opacity="0.71"/><circle cx="486.63" cy="369.59" r="2.36" fill="#4a3f5e" fill-opacity="0.96"/><circle cx="486.57" cy="370.84" r="2.36" fill="#4a3f5e" fill-opacity="0.96"/><circle cx="485.76" cy="369.91" r="2.36" fill="#4a3f5e" fill-opacity="0.96"/><circle cx="456.5" cy="418.92" r="1.61" fill="#2a2430" fill-opacity="0.99"/><circle cx="456.47" cy="420.18" r="1.61" fill="#2a2430" fill-opacity="0.99"/><circle cx="433.19" cy="399.44" r="2.2" fill="#2a2430" fill-opacity="0.83"/><circle cx="433.86" cy="401.09" r="2.2" fill="#2a2430" fill-opacity="0.83"/><circle cx="474.94" cy="391.44" r="1.83" fill="#4a3f5e" fill-opacity="0.91"/><circle cx="475.46" cy="389.83" r="1.83" fill="#4a3f5e" fill-opacity="0.91"/><circle cx="476" cy="389.87" r="1.83" fill="#4a3f5e" fill-opacity="0.91"/></g></g><g clip-path="url(#w5)"><rect x="504.7" y="342.7" width="81.8" height="81.8" fill="#a8cbbc"/><rect x="504.7" y="342.7" width="81.8" height="81.8" filter="url(#w5n0)"/><rect x="504.7" y="342.7" width="81.8" height="81.8" filter="url(#w5n1)"/><g filter="url(#bl)"><circle cx="559.72" cy="379.84" r="0.82" fill="#3a3344" fill-opacity="0.76"/><circle cx="524.42" cy="415.07" r="1.01" fill="#4a3f5e" fill-opacity="0.8"/><circle cx="529.74" cy="348.04" r="1.44" fill="#4a3f5e" fill-opacity="0.87"/><circle cx="530.77" cy="391.41" r="0.9" fill="#4a3f5e" fill-opacity="0.91"/><circle cx="566.74" cy="377.9" r="1.5" fill="#2a2430" fill-opacity="0.78"/><circle cx="524.38" cy="393.14" r="1.29" fill="#3a3344" fill-opacity="0.98"/><circle cx="524.62" cy="393.96" r="1.29" fill="#3a3344" fill-opacity="0.98"/><circle cx="524.05" cy="393.08" r="1.29" fill="#3a3344" fill-opacity="0.98"/><circle cx="527.24" cy="372.71" r="1.34" fill="#3a3344" fill-opacity="0.93"/><circle cx="568.29" cy="397.65" r="0.89" fill="#3a3344" fill-opacity="0.72"/><circle cx="545.89" cy="386.69" r="1.21" fill="#2a2430" fill-opacity="0.75"/><circle cx="533.98" cy="404.89" r="0.97" fill="#4a3f5e" fill-opacity="0.72"/><circle cx="547.66" cy="399.39" r="1.56" fill="#2a2430" fill-opacity="0.86"/><circle cx="547.83" cy="400.3" r="1.56" fill="#2a2430" fill-opacity="0.86"/><circle cx="537.84" cy="384.45" r="2.07" fill="#2a2430" fill-opacity="0.99"/><circle cx="537.52" cy="383.8" r="2.07" fill="#2a2430" fill-opacity="0.99"/><circle cx="547.68" cy="397.02" r="1.59" fill="#1e1a22" fill-opacity="1"/><circle cx="546.76" cy="398.39" r="1.59" fill="#1e1a22" fill-opacity="1"/><circle cx="547.87" cy="398.12" r="1.59" fill="#1e1a22" fill-opacity="1"/><circle cx="535.19" cy="391.74" r="1.86" fill="#1e1a22" fill-opacity="0.86"/><circle cx="533.71" cy="392.04" r="1.86" fill="#1e1a22" fill-opacity="0.86"/><circle cx="534.71" cy="390.4" r="1.86" fill="#1e1a22" fill-opacity="0.86"/><circle cx="548.88" cy="389.85" r="2.18" fill="#1e1a22" fill-opacity="0.88"/><circle cx="550.37" cy="388.61" r="2.18" fill="#1e1a22" fill-opacity="0.88"/><circle cx="550.05" cy="388.57" r="2.18" fill="#1e1a22" fill-opacity="0.88"/></g></g><g clip-path="url(#w6)"><rect x="587" y="342.2" width="82.2" height="82.2" fill="#b1c7be"/><rect x="587" y="342.2" width="82.2" height="82.2" filter="url(#w6n0)"/><rect x="587" y="342.2" width="82.2" height="82.2" filter="url(#w6n1)"/><g filter="url(#bl)"><circle cx="662.74" cy="365.6" r="1.5" fill="#2a2a30" fill-opacity="0.61"/><circle cx="662.19" cy="364.96" r="1.5" fill="#2a2a30" fill-opacity="0.61"/><circle cx="662.78" cy="365.02" r="1.5" fill="#2a2a30" fill-opacity="0.61"/><circle cx="622.05" cy="385.27" r="0.9" fill="#6a6a66" fill-opacity="0.77"/><circle cx="622.83" cy="390.51" r="1.39" fill="#55555c" fill-opacity="0.86"/><circle cx="622.47" cy="390.52" r="1.39" fill="#55555c" fill-opacity="0.86"/><circle cx="598.41" cy="369.03" r="1.18" fill="#2a2a30" fill-opacity="0.93"/><circle cx="636.77" cy="351.47" r="1" fill="#3a3a40" fill-opacity="0.81"/><circle cx="617.81" cy="377.73" r="1.31" fill="#55555c" fill-opacity="0.98"/><circle cx="657.21" cy="406.8" r="1.45" fill="#6a6a66" fill-opacity="0.82"/><circle cx="635.96" cy="350.5" r="1.44" fill="#3a3a40" fill-opacity="0.73"/><circle cx="636.01" cy="349.74" r="1.44" fill="#3a3a40" fill-opacity="0.73"/><circle cx="637.11" cy="381.18" r="1.3" fill="#2a2a30" fill-opacity="0.67"/><circle cx="633.96" cy="417.69" r="0.87" fill="#6a6a66" fill-opacity="0.9"/><circle cx="615.7" cy="395.57" r="0.89" fill="#6a6a66" fill-opacity="0.82"/><circle cx="624.75" cy="394.56" r="1.47" fill="#3a3a40" fill-opacity="0.88"/><circle cx="641.2" cy="392.6" r="0.81" fill="#55555c" fill-opacity="0.86"/><circle cx="601.26" cy="358.91" r="0.88" fill="#3a3a40" fill-opacity="0.82"/><circle cx="648.24" cy="359.08" r="0.86" fill="#55555c" fill-opacity="0.64"/><circle cx="594.18" cy="369.52" r="1.1" fill="#2a2a30" fill-opacity="0.74"/><circle cx="657.01" cy="358.51" r="1.41" fill="#55555c" fill-opacity="0.6"/><circle cx="658.29" cy="357.53" r="1.41" fill="#55555c" fill-opacity="0.6"/><circle cx="658.36" cy="356.88" r="1.41" fill="#55555c" fill-opacity="0.6"/><circle cx="608.75" cy="355.66" r="1.56" fill="#6a6a66" fill-opacity="0.88"/><circle cx="608.99" cy="354.08" r="1.56" fill="#6a6a66" fill-opacity="0.88"/><circle cx="608.63" cy="354.25" r="1.56" fill="#6a6a66" fill-opacity="0.88"/><circle cx="646.75" cy="382.53" r="0.87" fill="#6a6a66" fill-opacity="0.75"/><circle cx="600.5" cy="400.27" r="1.29" fill="#55555c" fill-opacity="0.71"/><circle cx="664.32" cy="393.96" r="1.28" fill="#55555c" fill-opacity="0.82"/><circle cx="665.29" cy="392.77" r="1.28" fill="#55555c" fill-opacity="0.82"/><circle cx="605.35" cy="405.26" r="1.59" fill="#55555c" fill-opacity="0.83"/><circle cx="606.89" cy="405.41" r="1.59" fill="#55555c" fill-opacity="0.83"/><circle cx="606.85" cy="406.31" r="1.59" fill="#55555c" fill-opacity="0.83"/><circle cx="602.67" cy="388.48" r="0.9" fill="#3a3a40" fill-opacity="0.74"/><circle cx="656.61" cy="402.36" r="1.27" fill="#55555c" fill-opacity="0.72"/><circle cx="619.01" cy="368.94" r="1.58" fill="#3a3a40" fill-opacity="0.99"/><circle cx="619.25" cy="369.59" r="1.58" fill="#3a3a40" fill-opacity="0.99"/><circle cx="620.1" cy="353.4" r="1.38" fill="#2a2a30" fill-opacity="0.84"/><circle cx="619.7" cy="354.64" r="1.38" fill="#2a2a30" fill-opacity="0.84"/><circle cx="635.66" cy="408.42" r="1.18" fill="#3a3a40" fill-opacity="0.81"/><circle cx="606.93" cy="408.8" r="1.36" fill="#55555c" fill-opacity="0.78"/><circle cx="606.85" cy="408.7" r="1.36" fill="#55555c" fill-opacity="0.78"/><circle cx="604.3" cy="384.1" r="1.05" fill="#3a3a40" fill-opacity="0.68"/><circle cx="616.75" cy="406.95" r="1.43" fill="#6a6a66" fill-opacity="0.75"/><circle cx="618.16" cy="407.13" r="1.43" fill="#6a6a66" fill-opacity="0.75"/><circle cx="617.35" cy="407.31" r="1.43" fill="#6a6a66" fill-opacity="0.75"/><circle cx="666.66" cy="387.44" r="1.56" fill="#3a3a40" fill-opacity="0.97"/><circle cx="618.21" cy="386.72" r="1.45" fill="#6a6a66" fill-opacity="0.85"/><circle cx="618.81" cy="388.42" r="1.45" fill="#6a6a66" fill-opacity="0.85"/><circle cx="619.44" cy="387.94" r="1.45" fill="#6a6a66" fill-opacity="0.85"/><circle cx="617.92" cy="364.21" r="1.76" fill="#707070" fill-opacity="0.7"/><circle cx="616.88" cy="364.98" r="1.76" fill="#707070" fill-opacity="0.7"/><circle cx="617.05" cy="365.35" r="1.76" fill="#707070" fill-opacity="0.7"/><circle cx="617.58" cy="413.53" r="2.32" fill="#707070" fill-opacity="0.46"/><circle cx="616.01" cy="413.3" r="2.32" fill="#707070" fill-opacity="0.46"/><circle cx="592.54" cy="400.07" r="2.5" fill="#707070" fill-opacity="0.49"/><circle cx="594.31" cy="399.73" r="2.5" fill="#707070" fill-opacity="0.49"/><circle cx="661.78" cy="396.18" r="1.73" fill="#505050" fill-opacity="0.61"/><circle cx="661.47" cy="396.12" r="1.73" fill="#505050" fill-opacity="0.61"/><circle cx="659.86" cy="397.67" r="1.73" fill="#505050" fill-opacity="0.61"/><circle cx="622.09" cy="345.17" r="2.21" fill="#707070" fill-opacity="0.48"/><circle cx="621.76" cy="343.93" r="2.21" fill="#707070" fill-opacity="0.48"/><circle cx="621.38" cy="345.41" r="2.21" fill="#707070" fill-opacity="0.48"/><circle cx="660.35" cy="399.88" r="1.77" fill="#505050" fill-opacity="0.55"/><circle cx="661.1" cy="398.69" r="1.77" fill="#505050" fill-opacity="0.55"/><circle cx="660.71" cy="391.95" r="2" fill="#505050" fill-opacity="0.59"/><circle cx="661.96" cy="394.27" r="2" fill="#505050" fill-opacity="0.59"/><circle cx="590.64" cy="369.68" r="1.61" fill="#3a3a3a" fill-opacity="0.42"/><circle cx="590.13" cy="368.57" r="1.61" fill="#3a3a3a" fill-opacity="0.42"/><circle cx="590.68" cy="369.93" r="1.61" fill="#3a3a3a" fill-opacity="0.42"/></g></g><text x="0" y="0" font-size="15.67" text-anchor="middle" font-weight="bold" fill="#000" transform="translate(554.8 793.9) scale(1.08 1) rotate(-90)" stroke="#000" stroke-width="0.3">D3H2</text><text x="0" y="0" font-size="15.52" text-anchor="middle" font-weight="bold" fill="#000" transform="translate(554.8 902.45) scale(1.08 1) rotate(-90)" stroke="#000" stroke-width="0.3">Snord67KO</text><g clip-path="url(#m1)"><rect x="557.6" y="743" width="127.4" height="102.8" fill="#dadbda"/><g filter="url(#bl4)"><circle cx="580" cy="830" r="20" fill="#c8c9c8" fill-opacity="0.6"/><circle cx="670" cy="750" r="18" fill="#cccdcc" fill-opacity="0.5"/><circle cx="620" cy="795" r="25" fill="#e6e6e6" fill-opacity="0.6"/></g><g filter="url(#bl2)"><circle cx="591.6" cy="772" r="11.9" fill="#747678" fill-opacity="0.55"/><circle cx="591.6" cy="772" r="6.3" fill="#5c5e60" fill-opacity="0.55"/><circle cx="580.4" cy="807.5" r="12.75" fill="#747678" fill-opacity="0.55"/><circle cx="580.4" cy="807.5" r="6.75" fill="#5c5e60" fill-opacity="0.55"/><circle cx="625.2" cy="755.5" r="11.05" fill="#747678" fill-opacity="0.55"/><circle cx="625.2" cy="755.5" r="5.85" fill="#5c5e60" fill-opacity="0.55"/><circle cx="643" cy="786" r="8.5" fill="#747678" fill-opacity="0.39"/><circle cx="643" cy="786" r="4.5" fill="#5c5e60" fill-opacity="0.39"/><circle cx="644.8" cy="802.8" r="5.5" fill="#86888a" fill-opacity="0.6"/><circle cx="658.8" cy="769.2" r="5.1" fill="#747678" fill-opacity="0.47"/><circle cx="658.8" cy="769.2" r="2.7" fill="#5c5e60" fill-opacity="0.47"/><circle cx="672.8" cy="777.6" r="6.38" fill="#747678" fill-opacity="0.5"/><circle cx="672.8" cy="777.6" r="3.38" fill="#5c5e60" fill-opacity="0.5"/><circle cx="674.7" cy="751.4" r="4.25" fill="#747678" fill-opacity="0.44"/><circle cx="674.7" cy="751.4" r="2.25" fill="#5c5e60" fill-opacity="0.44"/><circle cx="627" cy="802.8" r="4.48" fill="#6a6c6e" fill-opacity="0.5"/><circle cx="614.9" cy="817.7" r="7" fill="#86888a" fill-opacity="0.54"/><circle cx="629.9" cy="830.8" r="3.92" fill="#6a6c6e" fill-opacity="0.45"/><circle cx="565.4" cy="783.2" r="7.65" fill="#747678" fill-opacity="0.3"/><circle cx="565.4" cy="783.2" r="4.05" fill="#5c5e60" fill-opacity="0.3"/><circle cx="564.5" cy="824.3" r="3.22" fill="#6a6c6e" fill-opacity="0.4"/><circle cx="660.7" cy="820.5" r="4" fill="#86888a" fill-opacity="0.54"/><circle cx="669.1" cy="792.5" r="5.5" fill="#86888a" fill-opacity="0.42"/><circle cx="606.5" cy="772" r="3.22" fill="#6a6c6e" fill-opacity="0.4"/><circle cx="611.2" cy="778.5" r="2.52" fill="#6a6c6e" fill-opacity="0.35"/><circle cx="671" cy="830.8" r="5.1" fill="#747678" fill-opacity="0.47"/><circle cx="671" cy="830.8" r="2.7" fill="#5c5e60" fill-opacity="0.47"/><circle cx="627" cy="782.2" r="4.5" fill="#86888a" fill-opacity="0.3"/><circle cx="564.5" cy="749.5" r="5" fill="#86888a" fill-opacity="0.36"/><circle cx="577.6" cy="839.2" r="5" fill="#86888a" fill-opacity="0.36"/></g><g filter="url(#bl5)"><circle cx="595.69" cy="776.6" r="0.68" fill="#6e7072" fill-opacity="0.69"/><circle cx="582.97" cy="773.52" r="0.77" fill="#555759" fill-opacity="0.39"/><circle cx="594.99" cy="772.61" r="1.03" fill="#4a4c4e" fill-opacity="0.66"/><circle cx="591.01" cy="777.73" r="1.06" fill="#4a4c4e" fill-opacity="0.76"/><circle cx="599.22" cy="773.48" r="1.16" fill="#6e7072" fill-opacity="0.66"/><circle cx="592.83" cy="771.76" r="1.01" fill="#555759" fill-opacity="0.69"/><circle cx="596.69" cy="769.95" r="0.97" fill="#6e7072" fill-opacity="0.78"/><circle cx="593.29" cy="771.16" r="0.79" fill="#4a4c4e" fill-opacity="0.43"/><circle cx="593.64" cy="771.9" r="0.73" fill="#6e7072" fill-opacity="0.58"/><circle cx="593.68" cy="770.68" r="0.63" fill="#606264" fill-opacity="0.61"/><circle cx="594.74" cy="769.14" r="0.91" fill="#4a4c4e" fill-opacity="0.57"/><circle cx="591.36" cy="765.85" r="0.78" fill="#555759" fill-opacity="0.52"/><circle cx="592.83" cy="770.88" r="0.56" fill="#4a4c4e" fill-opacity="0.7"/><circle cx="581.51" cy="770.66" r="0.78" fill="#6e7072" fill-opacity="0.68"/><circle cx="587.28" cy="772.84" r="0.93" fill="#6e7072" fill-opacity="0.64"/><circle cx="597.19" cy="781.96" r="0.66" fill="#4a4c4e" fill-opacity="0.7"/><circle cx="588.76" cy="771.28" r="0.86" fill="#606264" fill-opacity="0.56"/><circle cx="591.17" cy="775.5" r="0.88" fill="#4a4c4e" fill-opacity="0.52"/><circle cx="600.49" cy="760.83" r="0.86" fill="#555759" fill-opacity="0.58"/><circle cx="587.72" cy="770.43" r="0.8" fill="#4a4c4e" fill-opacity="0.57"/><circle cx="582.28" cy="782.61" r="0.79" fill="#606264" fill-opacity="0.54"/><circle cx="596.62" cy="772.05" r="0.88" fill="#606264" fill-opacity="0.56"/><circle cx="592.1" cy="772.09" r="0.91" fill="#4a4c4e" fill-opacity="0.71"/><circle cx="592.74" cy="768.27" r="1.07" fill="#606264" fill-opacity="0.36"/><circle cx="602.35" cy="768.02" r="0.82" fill="#606264" fill-opacity="0.46"/><circle cx="595.8" cy="775.45" r="0.94" fill="#606264" fill-opacity="0.48"/><circle cx="591.85" cy="772.44" r="0.96" fill="#606264" fill-opacity="0.55"/><circle cx="584.82" cy="785.95" r="0.83" fill="#4a4c4e" fill-opacity="0.49"/><circle cx="590.83" cy="773.16" r="0.68" fill="#555759" fill-opacity="0.78"/><circle cx="587.36" cy="773.94" r="1.18" fill="#555759" fill-opacity="0.36"/><circle cx="592.04" cy="772.58" r="0.99" fill="#6e7072" fill-opacity="0.6"/><circle cx="592.27" cy="775.59" r="1.18" fill="#6e7072" fill-opacity="0.45"/><circle cx="587.72" cy="766.76" r="0.72" fill="#6e7072" fill-opacity="0.38"/><circle cx="590.08" cy="776.83" r="1.18" fill="#4a4c4e" fill-opacity="0.49"/><circle cx="595.08" cy="767.71" r="1.02" fill="#6e7072" fill-opacity="0.6"/><circle cx="601.06" cy="782.12" r="0.89" fill="#4a4c4e" fill-opacity="0.62"/><circle cx="592.75" cy="777.57" r="1.08" fill="#4a4c4e" fill-opacity="0.52"/><circle cx="589.26" cy="775.35" r="0.64" fill="#6e7072" fill-opacity="0.62"/><circle cx="585.81" cy="772.28" r="0.85" fill="#4a4c4e" fill-opacity="0.5"/><circle cx="593.25" cy="770.28" r="1.13" fill="#4a4c4e" fill-opacity="0.42"/><circle cx="593.5" cy="769.63" r="0.59" fill="#6e7072" fill-opacity="0.45"/><circle cx="588.16" cy="765.31" r="1.09" fill="#606264" fill-opacity="0.76"/><circle cx="597.11" cy="763.04" r="0.87" fill="#4a4c4e" fill-opacity="0.68"/><circle cx="593.59" cy="773.17" r="0.62" fill="#555759" fill-opacity="0.47"/><circle cx="589.21" cy="776.2" r="0.74" fill="#4a4c4e" fill-opacity="0.48"/><circle cx="591.72" cy="771.87" r="0.92" fill="#6e7072" fill-opacity="0.41"/><circle cx="590.26" cy="771.55" r="0.55" fill="#555759" fill-opacity="0.72"/><circle cx="591.01" cy="772.91" r="0.93" fill="#6e7072" fill-opacity="0.38"/><circle cx="578.08" cy="767.58" r="0.76" fill="#606264" fill-opacity="0.6"/><circle cx="597.18" cy="769.16" r="0.82" fill="#606264" fill-opacity="0.4"/><circle cx="593.96" cy="772.7" r="0.51" fill="#6e7072" fill-opacity="0.4"/><circle cx="597.85" cy="766.49" r="0.53" fill="#555759" fill-opacity="0.7"/><circle cx="588.5" cy="770.12" r="0.98" fill="#555759" fill-opacity="0.68"/><circle cx="596.29" cy="775.53" r="1.14" fill="#6e7072" fill-opacity="0.71"/><circle cx="588.4" cy="771.12" r="1" fill="#606264" fill-opacity="0.4"/><circle cx="587.42" cy="766.09" r="0.53" fill="#4a4c4e" fill-opacity="0.7"/><circle cx="592.33" cy="771.63" r="0.77" fill="#6e7072" fill-opacity="0.38"/><circle cx="596.28" cy="769.17" r="1.18" fill="#6e7072" fill-opacity="0.4"/><circle cx="594.42" cy="784.7" r="0.88" fill="#6e7072" fill-opacity="0.65"/><circle cx="590.92" cy="783.86" r="0.88" fill="#606264" fill-opacity="0.44"/><circle cx="590.86" cy="772.89" r="1.03" fill="#4a4c4e" fill-opacity="0.64"/><circle cx="590.07" cy="770.07" r="1.16" fill="#6e7072" fill-opacity="0.78"/><circle cx="595.78" cy="773.1" r="0.91" fill="#606264" fill-opacity="0.46"/><circle cx="599.9" cy="778.11" r="0.93" fill="#4a4c4e" fill-opacity="0.46"/><circle cx="591.69" cy="772.01" r="0.89" fill="#4a4c4e" fill-opacity="0.68"/><circle cx="594.02" cy="772.33" r="0.51" fill="#606264" fill-opacity="0.57"/><circle cx="594.34" cy="768.8" r="1.06" fill="#4a4c4e" fill-opacity="0.58"/><circle cx="588.49" cy="766.72" r="0.63" fill="#555759" fill-opacity="0.79"/><circle cx="592.15" cy="770.85" r="0.86" fill="#606264" fill-opacity="0.41"/><circle cx="592.33" cy="774.61" r="0.88" fill="#4a4c4e" fill-opacity="0.7"/><circle cx="594.5" cy="765.94" r="0.89" fill="#555759" fill-opacity="0.43"/><circle cx="585.59" cy="774.71" r="0.61" fill="#555759" fill-opacity="0.46"/><circle cx="601.85" cy="776.39" r="0.88" fill="#6e7072" fill-opacity="0.73"/><circle cx="589.1" cy="772.76" r="0.78" fill="#606264" fill-opacity="0.43"/><circle cx="587.7" cy="772.35" r="1.18" fill="#4a4c4e" fill-opacity="0.38"/><circle cx="582.96" cy="783.15" r="0.6" fill="#555759" fill-opacity="0.41"/><circle cx="592.96" cy="771.86" r="0.62" fill="#4a4c4e" fill-opacity="0.46"/><circle cx="599.59" cy="772.38" r="0.87" fill="#6e7072" fill-opacity="0.77"/><circle cx="591.07" cy="771.36" r="0.98" fill="#555759" fill-opacity="0.67"/><circle cx="588.8" cy="776.61" r="0.93" fill="#606264" fill-opacity="0.79"/><circle cx="593.4" cy="781.25" r="0.95" fill="#606264" fill-opacity="0.42"/><circle cx="592.11" cy="766.97" r="1.12" fill="#606264" fill-opacity="0.48"/><circle cx="590.5" cy="775.41" r="0.99" fill="#6e7072" fill-opacity="0.62"/><circle cx="592.36" cy="771.04" r="1.13" fill="#6e7072" fill-opacity="0.43"/><circle cx="591.59" cy="773.65" r="1.03" fill="#4a4c4e" fill-opacity="0.57"/><circle cx="585.31" cy="776.97" r="0.95" fill="#6e7072" fill-opacity="0.58"/><circle cx="591.72" cy="772.2" r="1.19" fill="#606264" fill-opacity="0.63"/><circle cx="591.4" cy="773.79" r="1.14" fill="#555759" fill-opacity="0.79"/><circle cx="584.63" cy="765.71" r="0.56" fill="#555759" fill-opacity="0.79"/><circle cx="590.13" cy="773.34" r="1.06" fill="#6e7072" fill-opacity="0.53"/><circle cx="598.47" cy="767.64" r="0.84" fill="#555759" fill-opacity="0.4"/><circle cx="588.91" cy="770.03" r="0.79" fill="#4a4c4e" fill-opacity="0.65"/><circle cx="590.59" cy="777.75" r="1.17" fill="#6e7072" fill-opacity="0.61"/><circle cx="597.06" cy="773.07" r="1.18" fill="#555759" fill-opacity="0.73"/><circle cx="592.06" cy="773.64" r="0.69" fill="#606264" fill-opacity="0.72"/><circle cx="584.34" cy="774.54" r="1.1" fill="#555759" fill-opacity="0.6"/><circle cx="584.96" cy="772.38" r="0.9" fill="#6e7072" fill-opacity="0.44"/><circle cx="594.75" cy="764.11" r="1.13" fill="#4a4c4e" fill-opacity="0.4"/><circle cx="591.33" cy="756.35" r="1.03" fill="#555759" fill-opacity="0.38"/><circle cx="588.39" cy="775.26" r="1.06" fill="#6e7072" fill-opacity="0.58"/><circle cx="591.44" cy="772.2" r="0.81" fill="#6e7072" fill-opacity="0.51"/><circle cx="591.56" cy="771.99" r="0.74" fill="#6e7072" fill-opacity="0.4"/><circle cx="596.77" cy="769.07" r="1.2" fill="#555759" fill-opacity="0.79"/><circle cx="586.34" cy="773.29" r="1.08" fill="#6e7072" fill-opacity="0.77"/><circle cx="589.29" cy="762.49" r="0.81" fill="#555759" fill-opacity="0.51"/><circle cx="592.36" cy="772.02" r="0.77" fill="#6e7072" fill-opacity="0.79"/><circle cx="585.26" cy="782.56" r="0.99" fill="#4a4c4e" fill-opacity="0.57"/><circle cx="591.29" cy="760.2" r="0.95" fill="#606264" fill-opacity="0.63"/><circle cx="586.48" cy="775.39" r="1.16" fill="#606264" fill-opacity="0.73"/><circle cx="592.31" cy="765.56" r="1.07" fill="#4a4c4e" fill-opacity="0.51"/><circle cx="591.29" cy="775.33" r="0.88" fill="#555759" fill-opacity="0.56"/><circle cx="590.87" cy="784.36" r="0.62" fill="#4a4c4e" fill-opacity="0.47"/><circle cx="593.24" cy="773.17" r="0.55" fill="#6e7072" fill-opacity="0.36"/><circle cx="590.31" cy="771.94" r="1.16" fill="#4a4c4e" fill-opacity="0.53"/><circle cx="590.32" cy="768.84" r="0.65" fill="#606264" fill-opacity="0.47"/><circle cx="593.96" cy="773.2" r="1.08" fill="#606264" fill-opacity="0.56"/><circle cx="586.89" cy="770.22" r="1.01" fill="#606264" fill-opacity="0.51"/><circle cx="591.5" cy="770.38" r="0.77" fill="#6e7072" fill-opacity="0.43"/><circle cx="592.53" cy="768.35" r="0.66" fill="#555759" fill-opacity="0.73"/><circle cx="595.71" cy="772.8" r="1.13" fill="#6e7072" fill-opacity="0.49"/><circle cx="590.87" cy="772.33" r="0.63" fill="#555759" fill-opacity="0.74"/><circle cx="581.91" cy="766.74" r="0.91" fill="#555759" fill-opacity="0.62"/><circle cx="591.34" cy="775.38" r="0.6" fill="#6e7072" fill-opacity="0.51"/><circle cx="591.6" cy="771.43" r="0.67" fill="#555759" fill-opacity="0.67"/><circle cx="589.9" cy="776.67" r="0.84" fill="#4a4c4e" fill-opacity="0.78"/><circle cx="595.37" cy="773.1" r="1.07" fill="#4a4c4e" fill-opacity="0.75"/><circle cx="593.6" cy="781.39" r="1.07" fill="#6e7072" fill-opacity="0.5"/><circle cx="592.72" cy="770.19" r="0.58" fill="#555759" fill-opacity="0.39"/><circle cx="586.64" cy="775.62" r="0.62" fill="#555759" fill-opacity="0.46"/><circle cx="591.56" cy="772.19" r="0.88" fill="#6e7072" fill-opacity="0.45"/><circle cx="590.71" cy="768.02" r="1.14" fill="#4a4c4e" fill-opacity="0.37"/><circle cx="593.78" cy="764.92" r="1.1" fill="#606264" fill-opacity="0.75"/><circle cx="592.16" cy="771.21" r="0.61" fill="#555759" fill-opacity="0.71"/><circle cx="595.57" cy="772.77" r="0.77" fill="#4a4c4e" fill-opacity="0.6"/><circle cx="591.39" cy="780.03" r="0.71" fill="#4a4c4e" fill-opacity="0.37"/><circle cx="595.67" cy="773.64" r="1.09" fill="#4a4c4e" fill-opacity="0.77"/><circle cx="592.32" cy="768.34" r="0.85" fill="#555759" fill-opacity="0.69"/><circle cx="590.95" cy="770.45" r="1.09" fill="#6e7072" fill-opacity="0.53"/><circle cx="585.58" cy="765.5" r="0.67" fill="#4a4c4e" fill-opacity="0.61"/><circle cx="592" cy="770.33" r="0.62" fill="#6e7072" fill-opacity="0.62"/><circle cx="589.55" cy="771.18" r="0.75" fill="#6e7072" fill-opacity="0.59"/><circle cx="591.53" cy="771.7" r="0.88" fill="#4a4c4e" fill-opacity="0.67"/><circle cx="591.52" cy="770.1" r="0.68" fill="#4a4c4e" fill-opacity="0.42"/><circle cx="600.63" cy="766.94" r="1.1" fill="#4a4c4e" fill-opacity="0.37"/><circle cx="593.9" cy="773.48" r="0.76" fill="#606264" fill-opacity="0.37"/><circle cx="585.19" cy="770.72" r="0.81" fill="#555759" fill-opacity="0.75"/><circle cx="592.06" cy="766.51" r="1.02" fill="#606264" fill-opacity="0.39"/><circle cx="592.87" cy="768.13" r="0.56" fill="#4a4c4e" fill-opacity="0.74"/><circle cx="592.26" cy="772.25" r="0.68" fill="#6e7072" fill-opacity="0.71"/><circle cx="597.92" cy="763.94" r="0.71" fill="#6e7072" fill-opacity="0.73"/><circle cx="587.66" cy="771.93" r="0.86" fill="#6e7072" fill-opacity="0.78"/><circle cx="579.76" cy="765.08" r="0.57" fill="#6e7072" fill-opacity="0.59"/><circle cx="587.28" cy="770.33" r="0.86" fill="#4a4c4e" fill-opacity="0.75"/><circle cx="594.99" cy="765.98" r="0.7" fill="#555759" fill-opacity="0.44"/><circle cx="589.37" cy="773.86" r="0.59" fill="#4a4c4e" fill-opacity="0.37"/><circle cx="593.89" cy="766.7" r="0.96" fill="#606264" fill-opacity="0.54"/><circle cx="590.98" cy="773.35" r="0.86" fill="#4a4c4e" fill-opacity="0.59"/><circle cx="597.76" cy="780.34" r="1.14" fill="#606264" fill-opacity="0.7"/><circle cx="587.23" cy="769.84" r="0.82" fill="#606264" fill-opacity="0.77"/><circle cx="593.09" cy="771.71" r="1.07" fill="#4a4c4e" fill-opacity="0.77"/><circle cx="593.21" cy="767.17" r="0.9" fill="#606264" fill-opacity="0.7"/><circle cx="589.93" cy="766.51" r="1.02" fill="#606264" fill-opacity="0.8"/><circle cx="592.67" cy="768.46" r="0.92" fill="#606264" fill-opacity="0.59"/><circle cx="593.54" cy="775.42" r="0.6" fill="#555759" fill-opacity="0.6"/><circle cx="593.76" cy="770.57" r="1.01" fill="#4a4c4e" fill-opacity="0.72"/><circle cx="597.49" cy="771.2" r="0.98" fill="#4a4c4e" fill-opacity="0.44"/><circle cx="599.03" cy="775.31" r="1.1" fill="#555759" fill-opacity="0.64"/><circle cx="593.41" cy="775.46" r="1.1" fill="#4a4c4e" fill-opacity="0.62"/><circle cx="590.28" cy="800.32" r="0.65" fill="#555759" fill-opacity="0.62"/><circle cx="581.08" cy="806.73" r="1.12" fill="#6e7072" fill-opacity="0.55"/><circle cx="577.9" cy="810.26" r="0.84" fill="#4a4c4e" fill-opacity="0.72"/><circle cx="582.68" cy="807.47" r="0.68" fill="#555759" fill-opacity="0.35"/><circle cx="570.51" cy="805.48" r="0.55" fill="#6e7072" fill-opacity="0.37"/><circle cx="585.98" cy="799.94" r="0.82" fill="#555759" fill-opacity="0.78"/><circle cx="578.64" cy="802.52" r="1.08" fill="#606264" fill-opacity="0.79"/><circle cx="574.08" cy="805.75" r="0.9" fill="#606264" fill-opacity="0.59"/><circle cx="573.66" cy="805.68" r="0.79" fill="#606264" fill-opacity="0.55"/><circle cx="590.73" cy="818.63" r="0.81" fill="#555759" fill-opacity="0.6"/><circle cx="585.34" cy="806.77" r="1.2" fill="#4a4c4e" fill-opacity="0.52"/><circle cx="573.7" cy="812.23" r="1.16" fill="#4a4c4e" fill-opacity="0.75"/><circle cx="583.77" cy="805.79" r="0.83" fill="#606264" fill-opacity="0.64"/><circle cx="583.67" cy="803.13" r="1.04" fill="#6e7072" fill-opacity="0.56"/><circle cx="583.57" cy="810.35" r="0.51" fill="#555759" fill-opacity="0.72"/><circle cx="576.67" cy="811.59" r="0.59" fill="#606264" fill-opacity="0.78"/><circle cx="576" cy="810.18" r="0.79" fill="#606264" fill-opacity="0.55"/><circle cx="580.75" cy="805.45" r="0.84" fill="#6e7072" fill-opacity="0.78"/><circle cx="578.61" cy="808.77" r="0.64" fill="#555759" fill-opacity="0.45"/><circle cx="581.5" cy="807.68" r="0.68" fill="#6e7072" fill-opacity="0.7"/><circle cx="582.48" cy="808.99" r="0.5" fill="#6e7072" fill-opacity="0.63"/><circle cx="583.91" cy="807.41" r="0.88" fill="#6e7072" fill-opacity="0.51"/><circle cx="583.32" cy="806.47" r="0.89" fill="#6e7072" fill-opacity="0.73"/><circle cx="580.37" cy="806.9" r="1.2" fill="#606264" fill-opacity="0.43"/><circle cx="580.6" cy="806.94" r="0.65" fill="#4a4c4e" fill-opacity="0.74"/><circle cx="581.84" cy="808.92" r="0.81" fill="#6e7072" fill-opacity="0.76"/><circle cx="581.85" cy="808.79" r="0.77" fill="#555759" fill-opacity="0.43"/><circle cx="580.28" cy="810.03" r="1.02" fill="#606264" fill-opacity="0.74"/><circle cx="576.72" cy="803.4" r="1.05" fill="#606264" fill-opacity="0.74"/><circle cx="591.47" cy="815.85" r="1.03" fill="#606264" fill-opacity="0.77"/><circle cx="581.31" cy="807.32" r="0.81" fill="#4a4c4e" fill-opacity="0.45"/><circle cx="579.11" cy="815.77" r="0.99" fill="#6e7072" fill-opacity="0.42"/><circle cx="580.08" cy="815.46" r="1.13" fill="#4a4c4e" fill-opacity="0.59"/><circle cx="576.36" cy="804.2" r="0.6" fill="#6e7072" fill-opacity="0.47"/><circle cx="577.73" cy="807.84" r="0.85" fill="#6e7072" fill-opacity="0.46"/><circle cx="583.7" cy="814.09" r="1.03" fill="#6e7072" fill-opacity="0.59"/><circle cx="584.84" cy="809.2" r="0.95" fill="#555759" fill-opacity="0.49"/><circle cx="571.23" cy="807.86" r="0.73" fill="#555759" fill-opacity="0.75"/><circle cx="579.92" cy="806.08" r="1.08" fill="#4a4c4e" fill-opacity="0.6"/><circle cx="576.63" cy="798.82" r="0.66" fill="#555759" fill-opacity="0.58"/><circle cx="579.25" cy="805.69" r="1.04" fill="#606264" fill-opacity="0.72"/><circle cx="581.44" cy="813.02" r="1.02" fill="#606264" fill-opacity="0.66"/><circle cx="585.33" cy="807.03" r="0.86" fill="#4a4c4e" fill-opacity="0.4"/><circle cx="575.99" cy="813.81" r="0.58" fill="#555759" fill-opacity="0.66"/><circle cx="589.67" cy="809.94" r="0.57" fill="#606264" fill-opacity="0.46"/><circle cx="575.42" cy="806.56" r="0.75" fill="#4a4c4e" fill-opacity="0.41"/><circle cx="573.3" cy="812.71" r="0.67" fill="#606264" fill-opacity="0.47"/><circle cx="576.52" cy="807.13" r="0.73" fill="#4a4c4e" fill-opacity="0.51"/><circle cx="583.11" cy="799.75" r="0.92" fill="#606264" fill-opacity="0.53"/><circle cx="576.05" cy="798.41" r="0.93" fill="#6e7072" fill-opacity="0.6"/><circle cx="569.35" cy="804.97" r="0.94" fill="#555759" fill-opacity="0.37"/><circle cx="571.48" cy="807.02" r="0.62" fill="#555759" fill-opacity="0.75"/><circle cx="579.12" cy="815.73" r="1.16" fill="#606264" fill-opacity="0.56"/><circle cx="579.54" cy="808.1" r="0.57" fill="#606264" fill-opacity="0.38"/><circle cx="585.95" cy="806.71" r="1.06" fill="#4a4c4e" fill-opacity="0.63"/><circle cx="574.26" cy="809.69" r="0.59" fill="#4a4c4e" fill-opacity="0.76"/><circle cx="582.55" cy="810.16" r="1.09" fill="#606264" fill-opacity="0.51"/><circle cx="579.55" cy="810.63" r="0.61" fill="#6e7072" fill-opacity="0.72"/><circle cx="577.3" cy="809.59" r="0.71" fill="#4a4c4e" fill-opacity="0.59"/><circle cx="580.95" cy="807.53" r="1.07" fill="#555759" fill-opacity="0.52"/><circle cx="575.27" cy="805.4" r="1.05" fill="#6e7072" fill-opacity="0.47"/><circle cx="576.95" cy="811.16" r="0.78" fill="#6e7072" fill-opacity="0.37"/><circle cx="570.33" cy="809.37" r="0.5" fill="#4a4c4e" fill-opacity="0.72"/><circle cx="578.31" cy="806.22" r="0.87" fill="#606264" fill-opacity="0.6"/><circle cx="583.72" cy="791.69" r="0.75" fill="#6e7072" fill-opacity="0.72"/><circle cx="580.62" cy="814.88" r="1.07" fill="#555759" fill-opacity="0.4"/><circle cx="582.62" cy="806.81" r="0.53" fill="#606264" fill-opacity="0.54"/><circle cx="580.06" cy="805.11" r="0.68" fill="#4a4c4e" fill-opacity="0.63"/><circle cx="574.26" cy="811.13" r="0.74" fill="#555759" fill-opacity="0.64"/><circle cx="571.7" cy="806.46" r="0.54" fill="#4a4c4e" fill-opacity="0.75"/><circle cx="582.69" cy="811.8" r="0.74" fill="#4a4c4e" fill-opacity="0.79"/><circle cx="586.44" cy="808.33" r="1.13" fill="#6e7072" fill-opacity="0.63"/><circle cx="584.11" cy="806.37" r="0.67" fill="#606264" fill-opacity="0.65"/><circle cx="581.03" cy="804.65" r="0.82" fill="#6e7072" fill-opacity="0.52"/><circle cx="575.62" cy="800.8" r="0.8" fill="#6e7072" fill-opacity="0.59"/><circle cx="568.18" cy="801.62" r="1.15" fill="#555759" fill-opacity="0.42"/><circle cx="579.54" cy="808.35" r="0.55" fill="#555759" fill-opacity="0.56"/><circle cx="579.7" cy="808.19" r="0.85" fill="#606264" fill-opacity="0.76"/><circle cx="582.18" cy="810.1" r="0.68" fill="#6e7072" fill-opacity="0.53"/><circle cx="580.07" cy="807.13" r="1.02" fill="#555759" fill-opacity="0.59"/><circle cx="570.98" cy="815.21" r="1.19" fill="#555759" fill-opacity="0.65"/><circle cx="580.18" cy="807.84" r="0.67" fill="#555759" fill-opacity="0.43"/><circle cx="574.29" cy="803.87" r="1.06" fill="#555759" fill-opacity="0.67"/><circle cx="580.19" cy="806.95" r="0.96" fill="#4a4c4e" fill-opacity="0.46"/><circle cx="581.71" cy="800.51" r="0.77" fill="#4a4c4e" fill-opacity="0.64"/><circle cx="573.86" cy="808.37" r="1.18" fill="#555759" fill-opacity="0.7"/><circle cx="585.16" cy="808.13" r="1.01" fill="#555759" fill-opacity="0.62"/><circle cx="586.23" cy="806.99" r="1" fill="#606264" fill-opacity="0.7"/><circle cx="572.45" cy="798.31" r="0.89" fill="#6e7072" fill-opacity="0.66"/><circle cx="580.62" cy="806.94" r="0.85" fill="#606264" fill-opacity="0.51"/><circle cx="587.3" cy="817.19" r="1.05" fill="#4a4c4e" fill-opacity="0.68"/><circle cx="577.66" cy="812.06" r="0.6" fill="#606264" fill-opacity="0.46"/><circle cx="579.64" cy="808.18" r="1.17" fill="#606264" fill-opacity="0.45"/><circle cx="580.8" cy="807.69" r="0.91" fill="#555759" fill-opacity="0.59"/><circle cx="580.35" cy="807.27" r="0.82" fill="#555759" fill-opacity="0.39"/><circle cx="583.78" cy="806.03" r="0.61" fill="#4a4c4e" fill-opacity="0.36"/><circle cx="577.76" cy="809.28" r="0.92" fill="#4a4c4e" fill-opacity="0.77"/><circle cx="581.47" cy="806.02" r="0.6" fill="#555759" fill-opacity="0.65"/><circle cx="588.39" cy="806.84" r="0.66" fill="#555759" fill-opacity="0.51"/><circle cx="570.55" cy="805.28" r="0.56" fill="#606264" fill-opacity="0.44"/><circle cx="577.4" cy="808.2" r="0.91" fill="#606264" fill-opacity="0.69"/><circle cx="580.03" cy="819.41" r="0.54" fill="#606264" fill-opacity="0.42"/><circle cx="587.88" cy="815.71" r="0.58" fill="#6e7072" fill-opacity="0.64"/><circle cx="580.55" cy="813.31" r="0.65" fill="#6e7072" fill-opacity="0.4"/><circle cx="583.11" cy="805.68" r="0.77" fill="#555759" fill-opacity="0.72"/><circle cx="569.78" cy="801.8" r="1.01" fill="#4a4c4e" fill-opacity="0.71"/><circle cx="589.56" cy="806.7" r="0.88" fill="#555759" fill-opacity="0.47"/><circle cx="577.93" cy="804.58" r="0.97" fill="#555759" fill-opacity="0.73"/><circle cx="581.22" cy="807.33" r="0.69" fill="#4a4c4e" fill-opacity="0.65"/><circle cx="583.92" cy="801.44" r="0.63" fill="#4a4c4e" fill-opacity="0.55"/><circle cx="583.08" cy="808.28" r="0.88" fill="#606264" fill-opacity="0.76"/><circle cx="590.57" cy="814.32" r="0.97" fill="#4a4c4e" fill-opacity="0.73"/><circle cx="581.18" cy="806.15" r="0.85" fill="#6e7072" fill-opacity="0.58"/><circle cx="581.66" cy="811.15" r="0.75" fill="#4a4c4e" fill-opacity="0.5"/><circle cx="588.85" cy="810.35" r="1.12" fill="#606264" fill-opacity="0.56"/><circle cx="578.2" cy="806.23" r="0.55" fill="#6e7072" fill-opacity="0.39"/><circle cx="573.3" cy="812.66" r="0.71" fill="#606264" fill-opacity="0.76"/><circle cx="579.76" cy="807.62" r="1.15" fill="#6e7072" fill-opacity="0.36"/><circle cx="580.37" cy="807.57" r="0.92" fill="#606264" fill-opacity="0.38"/><circle cx="571" cy="800" r="1.05" fill="#606264" fill-opacity="0.54"/><circle cx="582.65" cy="807.48" r="0.58" fill="#4a4c4e" fill-opacity="0.4"/><circle cx="576.19" cy="814.94" r="1.15" fill="#4a4c4e" fill-opacity="0.64"/><circle cx="572.13" cy="802.77" r="1.09" fill="#6e7072" fill-opacity="0.5"/><circle cx="581.19" cy="807.06" r="0.88" fill="#555759" fill-opacity="0.76"/><circle cx="576.94" cy="811.64" r="0.91" fill="#6e7072" fill-opacity="0.49"/><circle cx="573.34" cy="807.12" r="1.08" fill="#606264" fill-opacity="0.73"/><circle cx="578.56" cy="806" r="0.94" fill="#606264" fill-opacity="0.69"/><circle cx="579.94" cy="807.84" r="0.7" fill="#4a4c4e" fill-opacity="0.38"/><circle cx="582.75" cy="811.8" r="0.56" fill="#606264" fill-opacity="0.6"/><circle cx="579.09" cy="805.89" r="0.66" fill="#4a4c4e" fill-opacity="0.47"/><circle cx="579.96" cy="807.55" r="1.11" fill="#555759" fill-opacity="0.72"/><circle cx="585.48" cy="810.09" r="0.72" fill="#606264" fill-opacity="0.74"/><circle cx="584.42" cy="811.96" r="1.02" fill="#4a4c4e" fill-opacity="0.8"/><circle cx="578.42" cy="808.63" r="0.61" fill="#4a4c4e" fill-opacity="0.67"/><circle cx="578.72" cy="802.09" r="0.63" fill="#555759" fill-opacity="0.45"/><circle cx="575.29" cy="804.37" r="1.18" fill="#4a4c4e" fill-opacity="0.67"/><circle cx="579.19" cy="807.82" r="0.82" fill="#606264" fill-opacity="0.45"/><circle cx="586.11" cy="804.92" r="0.51" fill="#6e7072" fill-opacity="0.36"/><circle cx="580.38" cy="808.37" r="1.04" fill="#4a4c4e" fill-opacity="0.59"/><circle cx="580.54" cy="807.76" r="1.16" fill="#555759" fill-opacity="0.44"/><circle cx="578.83" cy="813.8" r="0.77" fill="#4a4c4e" fill-opacity="0.44"/><circle cx="580.56" cy="807.85" r="0.98" fill="#606264" fill-opacity="0.78"/><circle cx="576.17" cy="805.13" r="0.84" fill="#4a4c4e" fill-opacity="0.65"/><circle cx="576.69" cy="805.52" r="0.93" fill="#6e7072" fill-opacity="0.72"/><circle cx="575.91" cy="804.95" r="0.64" fill="#6e7072" fill-opacity="0.78"/><circle cx="584.48" cy="800.32" r="0.89" fill="#6e7072" fill-opacity="0.62"/><circle cx="579.7" cy="797.97" r="0.92" fill="#555759" fill-opacity="0.72"/><circle cx="577.48" cy="801.72" r="0.87" fill="#6e7072" fill-opacity="0.62"/><circle cx="580.2" cy="810.89" r="0.53" fill="#6e7072" fill-opacity="0.56"/><circle cx="575.14" cy="814.23" r="0.86" fill="#555759" fill-opacity="0.66"/><circle cx="583.2" cy="806.09" r="0.77" fill="#6e7072" fill-opacity="0.37"/><circle cx="587.24" cy="813.25" r="1.11" fill="#4a4c4e" fill-opacity="0.47"/><circle cx="574.4" cy="805.91" r="0.73" fill="#606264" fill-opacity="0.62"/><circle cx="580.9" cy="805.37" r="1.11" fill="#555759" fill-opacity="0.67"/><circle cx="577.59" cy="812.72" r="0.55" fill="#606264" fill-opacity="0.78"/><circle cx="571.79" cy="800.61" r="0.66" fill="#555759" fill-opacity="0.69"/><circle cx="580.4" cy="807.49" r="0.71" fill="#6e7072" fill-opacity="0.54"/><circle cx="570.87" cy="805.91" r="0.82" fill="#4a4c4e" fill-opacity="0.77"/><circle cx="580.21" cy="807.63" r="0.67" fill="#555759" fill-opacity="0.46"/><circle cx="578.85" cy="808.71" r="0.65" fill="#555759" fill-opacity="0.67"/><circle cx="580.02" cy="808.68" r="1" fill="#606264" fill-opacity="0.55"/><circle cx="583.38" cy="813" r="0.6" fill="#606264" fill-opacity="0.55"/><circle cx="579.05" cy="809.57" r="1.16" fill="#4a4c4e" fill-opacity="0.61"/><circle cx="578.45" cy="814.67" r="0.88" fill="#606264" fill-opacity="0.54"/><circle cx="580.47" cy="807.39" r="0.58" fill="#555759" fill-opacity="0.74"/><circle cx="580.27" cy="797.87" r="1.02" fill="#606264" fill-opacity="0.55"/><circle cx="582.24" cy="799.12" r="0.86" fill="#555759" fill-opacity="0.41"/><circle cx="583.09" cy="806.08" r="1.18" fill="#4a4c4e" fill-opacity="0.45"/><circle cx="575.96" cy="799.13" r="0.51" fill="#4a4c4e" fill-opacity="0.35"/><circle cx="575.56" cy="806.32" r="0.73" fill="#4a4c4e" fill-opacity="0.63"/><circle cx="575.54" cy="805.61" r="0.91" fill="#606264" fill-opacity="0.75"/><circle cx="580.82" cy="808.44" r="0.77" fill="#4a4c4e" fill-opacity="0.46"/><circle cx="574.96" cy="805.53" r="0.78" fill="#4a4c4e" fill-opacity="0.6"/><circle cx="578.63" cy="807.44" r="0.57" fill="#555759" fill-opacity="0.45"/><circle cx="581.53" cy="809.77" r="1.06" fill="#555759" fill-opacity="0.38"/><circle cx="578.8" cy="808.1" r="0.66" fill="#606264" fill-opacity="0.78"/><circle cx="583.97" cy="808.87" r="0.66" fill="#555759" fill-opacity="0.4"/><circle cx="581.11" cy="809.79" r="1.02" fill="#4a4c4e" fill-opacity="0.39"/><circle cx="580.57" cy="806.76" r="1" fill="#6e7072" fill-opacity="0.74"/><circle cx="577.67" cy="791.82" r="1.01" fill="#555759" fill-opacity="0.5"/><circle cx="624.45" cy="756.44" r="1.11" fill="#6e7072" fill-opacity="0.74"/><circle cx="615.24" cy="764.12" r="0.8" fill="#555759" fill-opacity="0.72"/><circle cx="623.17" cy="755.64" r="0.95" fill="#555759" fill-opacity="0.38"/><circle cx="626.1" cy="752.58" r="1.12" fill="#606264" fill-opacity="0.76"/><circle cx="625.35" cy="755.43" r="0.82" fill="#606264" fill-opacity="0.49"/><circle cx="630.63" cy="754.04" r="0.86" fill="#606264" fill-opacity="0.41"/><circle cx="630.53" cy="764.92" r="1" fill="#555759" fill-opacity="0.43"/><circle cx="622.24" cy="751.68" r="0.61" fill="#555759" fill-opacity="0.39"/><circle cx="624.61" cy="755" r="0.62" fill="#6e7072" fill-opacity="0.49"/><circle cx="617.65" cy="759.15" r="0.88" fill="#6e7072" fill-opacity="0.76"/><circle cx="625.7" cy="754.77" r="0.63" fill="#4a4c4e" fill-opacity="0.79"/><circle cx="624.9" cy="753.49" r="0.63" fill="#606264" fill-opacity="0.68"/><circle cx="621.85" cy="759.24" r="1.1" fill="#606264" fill-opacity="0.5"/><circle cx="626.8" cy="757.01" r="1.16" fill="#4a4c4e" fill-opacity="0.79"/><circle cx="627.08" cy="753.85" r="0.54" fill="#606264" fill-opacity="0.5"/><circle cx="616.87" cy="761.32" r="0.75" fill="#4a4c4e" fill-opacity="0.45"/><circle cx="624.32" cy="758.89" r="1.18" fill="#555759" fill-opacity="0.52"/><circle cx="626.44" cy="754.48" r="0.6" fill="#555759" fill-opacity="0.38"/><circle cx="614.22" cy="750.04" r="0.92" fill="#6e7072" fill-opacity="0.74"/><circle cx="624.54" cy="755.77" r="0.86" fill="#555759" fill-opacity="0.58"/><circle cx="623.91" cy="757.15" r="0.64" fill="#555759" fill-opacity="0.41"/><circle cx="625.44" cy="756.41" r="0.61" fill="#606264" fill-opacity="0.43"/><circle cx="625.98" cy="751.84" r="0.99" fill="#555759" fill-opacity="0.39"/><circle cx="623.88" cy="753.82" r="0.64" fill="#606264" fill-opacity="0.42"/><circle cx="623.51" cy="751.12" r="1.15" fill="#555759" fill-opacity="0.49"/><circle cx="617.39" cy="756.47" r="0.53" fill="#4a4c4e" fill-opacity="0.73"/><circle cx="621.24" cy="755.5" r="0.86" fill="#606264" fill-opacity="0.62"/><circle cx="629.44" cy="752.01" r="0.9" fill="#6e7072" fill-opacity="0.5"/><circle cx="626.01" cy="754.4" r="0.95" fill="#606264" fill-opacity="0.36"/><circle cx="632.82" cy="771.76" r="0.73" fill="#606264" fill-opacity="0.47"/><circle cx="629.24" cy="746.54" r="0.79" fill="#4a4c4e" fill-opacity="0.48"/><circle cx="618.16" cy="747.64" r="0.53" fill="#6e7072" fill-opacity="0.54"/><circle cx="623.86" cy="754.35" r="1" fill="#6e7072" fill-opacity="0.61"/><circle cx="617.56" cy="749.29" r="0.97" fill="#606264" fill-opacity="0.41"/><circle cx="630.18" cy="758.87" r="0.99" fill="#555759" fill-opacity="0.53"/><circle cx="618.02" cy="757.87" r="1.08" fill="#555759" fill-opacity="0.37"/><circle cx="623.94" cy="753.99" r="0.86" fill="#6e7072" fill-opacity="0.61"/><circle cx="624.87" cy="754.49" r="1.14" fill="#555759" fill-opacity="0.6"/><circle cx="617.81" cy="755.63" r="0.89" fill="#6e7072" fill-opacity="0.42"/><circle cx="624.68" cy="755.17" r="0.54" fill="#606264" fill-opacity="0.72"/><circle cx="622.16" cy="756.75" r="0.71" fill="#4a4c4e" fill-opacity="0.55"/><circle cx="630.71" cy="749.75" r="0.64" fill="#555759" fill-opacity="0.55"/><circle cx="628.81" cy="749.2" r="1.18" fill="#555759" fill-opacity="0.61"/><circle cx="623.07" cy="755.79" r="0.9" fill="#4a4c4e" fill-opacity="0.55"/><circle cx="625.99" cy="756.81" r="0.83" fill="#606264" fill-opacity="0.47"/><circle cx="630.91" cy="755.19" r="0.73" fill="#555759" fill-opacity="0.71"/><circle cx="624.98" cy="751.31" r="0.99" fill="#6e7072" fill-opacity="0.56"/><circle cx="624.44" cy="755.24" r="0.62" fill="#606264" fill-opacity="0.62"/><circle cx="625.36" cy="754.83" r="0.5" fill="#606264" fill-opacity="0.4"/><circle cx="622.78" cy="757.77" r="0.96" fill="#555759" fill-opacity="0.63"/><circle cx="622.87" cy="756.43" r="1.08" fill="#4a4c4e" fill-opacity="0.39"/><circle cx="629.73" cy="759.12" r="0.88" fill="#555759" fill-opacity="0.55"/><circle cx="629.7" cy="765.39" r="0.53" fill="#555759" fill-opacity="0.78"/><circle cx="622.16" cy="753.56" r="0.84" fill="#606264" fill-opacity="0.76"/><circle cx="625.79" cy="751.9" r="0.63" fill="#4a4c4e" fill-opacity="0.6"/><circle cx="627.3" cy="748.82" r="0.55" fill="#555759" fill-opacity="0.55"/><circle cx="623.12" cy="759.99" r="0.77" fill="#6e7072" fill-opacity="0.48"/><circle cx="618.19" cy="759.99" r="0.73" fill="#4a4c4e" fill-opacity="0.42"/><circle cx="614.58" cy="752.7" r="1.02" fill="#6e7072" fill-opacity="0.58"/><circle cx="622.91" cy="760.4" r="0.74" fill="#555759" fill-opacity="0.62"/><circle cx="625.44" cy="757.01" r="0.82" fill="#555759" fill-opacity="0.4"/><circle cx="628.22" cy="757.78" r="0.54" fill="#555759" fill-opacity="0.8"/><circle cx="620.14" cy="753.49" r="0.77" fill="#6e7072" fill-opacity="0.49"/><circle cx="624.67" cy="753.31" r="0.95" fill="#6e7072" fill-opacity="0.49"/><circle cx="625.26" cy="752.39" r="0.81" fill="#6e7072" fill-opacity="0.4"/><circle cx="629.5" cy="759.72" r="0.72" fill="#6e7072" fill-opacity="0.78"/><circle cx="619.44" cy="753.26" r="0.72" fill="#6e7072" fill-opacity="0.5"/><circle cx="622.64" cy="748.92" r="1.08" fill="#555759" fill-opacity="0.42"/><circle cx="616.82" cy="753.54" r="0.54" fill="#606264" fill-opacity="0.76"/><circle cx="625.84" cy="744.96" r="0.73" fill="#4a4c4e" fill-opacity="0.5"/><circle cx="620.62" cy="760.93" r="0.79" fill="#606264" fill-opacity="0.76"/><circle cx="623.32" cy="759.97" r="1.2" fill="#6e7072" fill-opacity="0.65"/><circle cx="629.55" cy="764.11" r="1.17" fill="#555759" fill-opacity="0.46"/><circle cx="628.79" cy="748.22" r="0.72" fill="#555759" fill-opacity="0.67"/><circle cx="622.56" cy="764.87" r="0.57" fill="#6e7072" fill-opacity="0.78"/><circle cx="628.48" cy="758.26" r="1.05" fill="#555759" fill-opacity="0.69"/><circle cx="629.36" cy="760.81" r="0.95" fill="#606264" fill-opacity="0.77"/><circle cx="625.93" cy="758.22" r="0.61" fill="#555759" fill-opacity="0.78"/><circle cx="629.22" cy="760.79" r="0.8" fill="#606264" fill-opacity="0.62"/><circle cx="624.92" cy="752.98" r="0.98" fill="#555759" fill-opacity="0.36"/><circle cx="625.44" cy="754.19" r="0.91" fill="#4a4c4e" fill-opacity="0.77"/><circle cx="632.71" cy="760.25" r="0.87" fill="#555759" fill-opacity="0.44"/><circle cx="624.74" cy="753.76" r="1.19" fill="#6e7072" fill-opacity="0.56"/><circle cx="615.92" cy="753.79" r="1.12" fill="#555759" fill-opacity="0.44"/><circle cx="632.78" cy="750.58" r="0.53" fill="#555759" fill-opacity="0.38"/><circle cx="625.43" cy="755.68" r="1.06" fill="#4a4c4e" fill-opacity="0.74"/><circle cx="618.94" cy="766.57" r="0.9" fill="#6e7072" fill-opacity="0.65"/><circle cx="628.04" cy="759.05" r="0.76" fill="#606264" fill-opacity="0.77"/><circle cx="614.78" cy="764.84" r="1.15" fill="#555759" fill-opacity="0.38"/><circle cx="625.65" cy="761.41" r="0.51" fill="#6e7072" fill-opacity="0.56"/><circle cx="623.88" cy="754.31" r="1.07" fill="#4a4c4e" fill-opacity="0.37"/><circle cx="625.69" cy="754.86" r="0.69" fill="#555759" fill-opacity="0.74"/><circle cx="622.91" cy="749.13" r="1.05" fill="#4a4c4e" fill-opacity="0.58"/><circle cx="632.61" cy="763.31" r="1.14" fill="#606264" fill-opacity="0.61"/><circle cx="623.81" cy="757.43" r="0.95" fill="#6e7072" fill-opacity="0.78"/><circle cx="626.45" cy="752.03" r="0.76" fill="#555759" fill-opacity="0.48"/><circle cx="623.08" cy="755.87" r="1.06" fill="#6e7072" fill-opacity="0.39"/><circle cx="624.85" cy="755.4" r="0.85" fill="#555759" fill-opacity="0.59"/><circle cx="621.58" cy="748.49" r="0.88" fill="#6e7072" fill-opacity="0.46"/><circle cx="628.08" cy="755.46" r="0.77" fill="#606264" fill-opacity="0.55"/><circle cx="634.17" cy="759.53" r="0.76" fill="#4a4c4e" fill-opacity="0.51"/><circle cx="629.95" cy="751.21" r="0.64" fill="#4a4c4e" fill-opacity="0.35"/><circle cx="622.93" cy="756.54" r="0.84" fill="#4a4c4e" fill-opacity="0.61"/><circle cx="624.68" cy="755.29" r="0.77" fill="#4a4c4e" fill-opacity="0.65"/><circle cx="630.72" cy="756.52" r="0.65" fill="#606264" fill-opacity="0.7"/><circle cx="628.63" cy="754.37" r="0.81" fill="#4a4c4e" fill-opacity="0.47"/><circle cx="626.01" cy="757.06" r="0.91" fill="#555759" fill-opacity="0.49"/><circle cx="631.32" cy="754.47" r="0.78" fill="#6e7072" fill-opacity="0.79"/><circle cx="617.9" cy="752.61" r="0.65" fill="#4a4c4e" fill-opacity="0.38"/><circle cx="628.68" cy="760.16" r="1.18" fill="#4a4c4e" fill-opacity="0.72"/><circle cx="624.88" cy="760.96" r="0.88" fill="#606264" fill-opacity="0.41"/><circle cx="616.44" cy="755.4" r="0.6" fill="#6e7072" fill-opacity="0.73"/><circle cx="623.65" cy="756.05" r="0.88" fill="#555759" fill-opacity="0.67"/><circle cx="637.89" cy="756.67" r="0.64" fill="#606264" fill-opacity="0.63"/><circle cx="626.01" cy="755.85" r="0.69" fill="#4a4c4e" fill-opacity="0.6"/><circle cx="625.36" cy="755.64" r="0.98" fill="#6e7072" fill-opacity="0.39"/><circle cx="618.59" cy="755.57" r="0.53" fill="#555759" fill-opacity="0.37"/><circle cx="632.57" cy="762.11" r="0.53" fill="#606264" fill-opacity="0.69"/><circle cx="626.46" cy="759.42" r="0.65" fill="#606264" fill-opacity="0.75"/><circle cx="625.67" cy="754.76" r="0.8" fill="#555759" fill-opacity="0.48"/><circle cx="627.92" cy="748.9" r="0.54" fill="#4a4c4e" fill-opacity="0.54"/><circle cx="628.45" cy="754.77" r="1.09" fill="#6e7072" fill-opacity="0.55"/><circle cx="626.64" cy="751.81" r="0.52" fill="#6e7072" fill-opacity="0.78"/><circle cx="617.31" cy="760.2" r="1.16" fill="#555759" fill-opacity="0.8"/><circle cx="625.64" cy="753.76" r="0.76" fill="#6e7072" fill-opacity="0.49"/><circle cx="628" cy="769.07" r="0.68" fill="#6e7072" fill-opacity="0.4"/><circle cx="621.93" cy="747.98" r="0.5" fill="#606264" fill-opacity="0.47"/><circle cx="626.82" cy="749.65" r="0.7" fill="#555759" fill-opacity="0.71"/><circle cx="624.78" cy="754.44" r="1.04" fill="#6e7072" fill-opacity="0.59"/><circle cx="626.25" cy="755.66" r="0.66" fill="#6e7072" fill-opacity="0.64"/><circle cx="626.62" cy="754.26" r="0.86" fill="#4a4c4e" fill-opacity="0.46"/><circle cx="619.24" cy="755.81" r="0.58" fill="#6e7072" fill-opacity="0.51"/><circle cx="618.82" cy="747.47" r="0.8" fill="#6e7072" fill-opacity="0.73"/><circle cx="632.07" cy="756.54" r="0.78" fill="#555759" fill-opacity="0.54"/><circle cx="629.61" cy="757.26" r="0.57" fill="#606264" fill-opacity="0.57"/><circle cx="621.67" cy="757.37" r="0.86" fill="#4a4c4e" fill-opacity="0.5"/><circle cx="631.52" cy="753.16" r="0.68" fill="#4a4c4e" fill-opacity="0.6"/><circle cx="624.91" cy="752.79" r="0.57" fill="#606264" fill-opacity="0.55"/><circle cx="625.2" cy="753.26" r="0.78" fill="#6e7072" fill-opacity="0.36"/><circle cx="616.26" cy="750.38" r="0.59" fill="#6e7072" fill-opacity="0.57"/><circle cx="625.28" cy="755.37" r="1.06" fill="#6e7072" fill-opacity="0.62"/><circle cx="625.2" cy="756.89" r="0.53" fill="#6e7072" fill-opacity="0.39"/><circle cx="624.44" cy="754.86" r="0.55" fill="#4a4c4e" fill-opacity="0.61"/><circle cx="624.34" cy="756.62" r="0.56" fill="#6e7072" fill-opacity="0.63"/><circle cx="626.51" cy="753.71" r="0.94" fill="#555759" fill-opacity="0.5"/><circle cx="625.51" cy="758.3" r="0.67" fill="#555759" fill-opacity="0.49"/><circle cx="627.73" cy="755.38" r="0.71" fill="#4a4c4e" fill-opacity="0.65"/><circle cx="625.12" cy="760" r="0.96" fill="#555759" fill-opacity="0.42"/><circle cx="625.33" cy="757.9" r="0.64" fill="#555759" fill-opacity="0.72"/><circle cx="628.96" cy="754.66" r="1.06" fill="#4a4c4e" fill-opacity="0.49"/><circle cx="625.53" cy="755.28" r="0.65" fill="#4a4c4e" fill-opacity="0.67"/><circle cx="624.61" cy="756.98" r="0.65" fill="#606264" fill-opacity="0.58"/><circle cx="625.83" cy="753.29" r="0.55" fill="#555759" fill-opacity="0.4"/><circle cx="624.41" cy="755.68" r="1.08" fill="#6e7072" fill-opacity="0.35"/><circle cx="631.94" cy="753.45" r="0.63" fill="#555759" fill-opacity="0.49"/><circle cx="623.32" cy="755.27" r="0.71" fill="#606264" fill-opacity="0.47"/><circle cx="642.85" cy="786.21" r="0.51" fill="#6e7072" fill-opacity="0.26"/><circle cx="643.94" cy="786.49" r="0.82" fill="#606264" fill-opacity="0.28"/><circle cx="642.6" cy="785.25" r="0.95" fill="#555759" fill-opacity="0.44"/><circle cx="642.72" cy="785.34" r="0.97" fill="#4a4c4e" fill-opacity="0.38"/><circle cx="641.94" cy="778.18" r="0.62" fill="#4a4c4e" fill-opacity="0.32"/><circle cx="645.86" cy="787.19" r="1.11" fill="#606264" fill-opacity="0.53"/><circle cx="645.48" cy="787.46" r="0.51" fill="#606264" fill-opacity="0.36"/><circle cx="643.72" cy="785.94" r="0.77" fill="#6e7072" fill-opacity="0.41"/><circle cx="642.5" cy="785.89" r="0.84" fill="#6e7072" fill-opacity="0.29"/><circle cx="640.94" cy="784.12" r="0.87" fill="#4a4c4e" fill-opacity="0.51"/><circle cx="643.33" cy="786.43" r="0.79" fill="#6e7072" fill-opacity="0.51"/><circle cx="643.86" cy="785.19" r="0.55" fill="#4a4c4e" fill-opacity="0.29"/><circle cx="640.67" cy="787.46" r="0.53" fill="#555759" fill-opacity="0.34"/><circle cx="641.33" cy="787.56" r="0.71" fill="#4a4c4e" fill-opacity="0.54"/><circle cx="642.24" cy="793.16" r="1.12" fill="#555759" fill-opacity="0.27"/><circle cx="641.36" cy="786.2" r="0.54" fill="#6e7072" fill-opacity="0.52"/><circle cx="645.69" cy="786.25" r="0.53" fill="#6e7072" fill-opacity="0.39"/><circle cx="646.69" cy="793.28" r="1.07" fill="#6e7072" fill-opacity="0.5"/><circle cx="648.98" cy="783.42" r="1.11" fill="#4a4c4e" fill-opacity="0.29"/><circle cx="641.75" cy="785.95" r="0.85" fill="#606264" fill-opacity="0.38"/><circle cx="643.08" cy="785.9" r="0.68" fill="#6e7072" fill-opacity="0.36"/><circle cx="654.06" cy="785.53" r="0.9" fill="#6e7072" fill-opacity="0.53"/><circle cx="645.52" cy="783.15" r="0.94" fill="#606264" fill-opacity="0.27"/><circle cx="635.82" cy="789.98" r="0.91" fill="#4a4c4e" fill-opacity="0.55"/><circle cx="638.15" cy="787.24" r="1.16" fill="#555759" fill-opacity="0.39"/><circle cx="638.86" cy="785.69" r="1.12" fill="#4a4c4e" fill-opacity="0.33"/><circle cx="642.2" cy="785.5" r="0.59" fill="#555759" fill-opacity="0.38"/><circle cx="639.74" cy="793.99" r="0.81" fill="#555759" fill-opacity="0.4"/><circle cx="640.51" cy="788.23" r="0.7" fill="#4a4c4e" fill-opacity="0.42"/><circle cx="642.62" cy="786.76" r="0.86" fill="#555759" fill-opacity="0.31"/><circle cx="642.87" cy="783.92" r="0.95" fill="#6e7072" fill-opacity="0.52"/><circle cx="641.34" cy="782.57" r="0.97" fill="#4a4c4e" fill-opacity="0.42"/><circle cx="642" cy="785.59" r="0.51" fill="#4a4c4e" fill-opacity="0.33"/><circle cx="643.22" cy="786.43" r="0.83" fill="#606264" fill-opacity="0.25"/><circle cx="643.65" cy="785.34" r="0.74" fill="#4a4c4e" fill-opacity="0.25"/><circle cx="631.29" cy="785.11" r="0.78" fill="#555759" fill-opacity="0.32"/><circle cx="642.84" cy="786.12" r="0.88" fill="#555759" fill-opacity="0.26"/><circle cx="642.66" cy="786.18" r="1.07" fill="#606264" fill-opacity="0.46"/><circle cx="650.82" cy="784.57" r="0.92" fill="#6e7072" fill-opacity="0.37"/><circle cx="639.74" cy="785.77" r="0.69" fill="#606264" fill-opacity="0.42"/><circle cx="650.11" cy="787.08" r="0.79" fill="#6e7072" fill-opacity="0.3"/><circle cx="641.79" cy="785.66" r="1.04" fill="#555759" fill-opacity="0.33"/><circle cx="633.39" cy="791.85" r="1.16" fill="#6e7072" fill-opacity="0.52"/><circle cx="641.74" cy="785.58" r="0.7" fill="#606264" fill-opacity="0.42"/><circle cx="643.44" cy="784.93" r="0.69" fill="#4a4c4e" fill-opacity="0.33"/><circle cx="646.87" cy="782.21" r="0.61" fill="#606264" fill-opacity="0.4"/><circle cx="644.7" cy="788.65" r="0.58" fill="#4a4c4e" fill-opacity="0.3"/><circle cx="643.27" cy="786.18" r="0.88" fill="#6e7072" fill-opacity="0.49"/><circle cx="647.51" cy="787.72" r="1.02" fill="#555759" fill-opacity="0.36"/><circle cx="641.51" cy="786.61" r="0.74" fill="#606264" fill-opacity="0.52"/><circle cx="644.32" cy="785.44" r="1.07" fill="#6e7072" fill-opacity="0.42"/><circle cx="644.2" cy="785.92" r="0.8" fill="#6e7072" fill-opacity="0.43"/><circle cx="643.97" cy="788.31" r="0.75" fill="#6e7072" fill-opacity="0.27"/><circle cx="640.37" cy="784.26" r="1.18" fill="#555759" fill-opacity="0.29"/><circle cx="642.77" cy="784.82" r="0.64" fill="#555759" fill-opacity="0.36"/><circle cx="641.16" cy="785.68" r="0.94" fill="#555759" fill-opacity="0.49"/><circle cx="642.56" cy="787.37" r="0.78" fill="#6e7072" fill-opacity="0.36"/><circle cx="643.37" cy="784.04" r="0.87" fill="#4a4c4e" fill-opacity="0.36"/><circle cx="645.3" cy="789.41" r="0.91" fill="#6e7072" fill-opacity="0.43"/><circle cx="641.62" cy="788.23" r="0.84" fill="#606264" fill-opacity="0.27"/><circle cx="641.7" cy="784.91" r="0.89" fill="#6e7072" fill-opacity="0.54"/><circle cx="651.34" cy="791.35" r="0.55" fill="#555759" fill-opacity="0.33"/><circle cx="642.15" cy="781.48" r="0.69" fill="#606264" fill-opacity="0.42"/><circle cx="645.2" cy="783.62" r="1" fill="#6e7072" fill-opacity="0.32"/><circle cx="642.62" cy="783.4" r="0.52" fill="#6e7072" fill-opacity="0.45"/><circle cx="641.41" cy="792.12" r="1.04" fill="#4a4c4e" fill-opacity="0.46"/><circle cx="636.91" cy="788.45" r="0.72" fill="#6e7072" fill-opacity="0.46"/><circle cx="643.22" cy="782.13" r="0.54" fill="#6e7072" fill-opacity="0.51"/><circle cx="641.62" cy="782.5" r="0.59" fill="#4a4c4e" fill-opacity="0.25"/><circle cx="645.42" cy="784.94" r="0.89" fill="#6e7072" fill-opacity="0.49"/><circle cx="642.38" cy="786.87" r="1.15" fill="#606264" fill-opacity="0.41"/><circle cx="642.44" cy="785.52" r="1.08" fill="#555759" fill-opacity="0.49"/><circle cx="640.81" cy="786.43" r="0.92" fill="#4a4c4e" fill-opacity="0.49"/><circle cx="636.88" cy="791.01" r="1.16" fill="#6e7072" fill-opacity="0.53"/><circle cx="640.47" cy="791.05" r="1.15" fill="#555759" fill-opacity="0.4"/><circle cx="641.93" cy="784.67" r="0.92" fill="#6e7072" fill-opacity="0.33"/><circle cx="636.84" cy="786.42" r="0.7" fill="#606264" fill-opacity="0.37"/><circle cx="643.93" cy="786.93" r="1.18" fill="#4a4c4e" fill-opacity="0.51"/><circle cx="645.45" cy="784.73" r="0.61" fill="#555759" fill-opacity="0.49"/><circle cx="647.09" cy="787.09" r="0.56" fill="#4a4c4e" fill-opacity="0.47"/><circle cx="640.73" cy="784.77" r="0.6" fill="#606264" fill-opacity="0.28"/><circle cx="644.24" cy="784.12" r="1.14" fill="#555759" fill-opacity="0.3"/><circle cx="637.29" cy="783.13" r="0.62" fill="#6e7072" fill-opacity="0.51"/><circle cx="644.63" cy="779.86" r="0.9" fill="#555759" fill-opacity="0.35"/><circle cx="647.58" cy="780.16" r="0.53" fill="#4a4c4e" fill-opacity="0.5"/><circle cx="641.98" cy="789.29" r="0.82" fill="#4a4c4e" fill-opacity="0.52"/><circle cx="643.71" cy="786.22" r="1.15" fill="#606264" fill-opacity="0.39"/><circle cx="645.79" cy="788.53" r="1.17" fill="#555759" fill-opacity="0.34"/><circle cx="641.11" cy="782.78" r="1.02" fill="#4a4c4e" fill-opacity="0.36"/><circle cx="642.05" cy="782.35" r="0.57" fill="#6e7072" fill-opacity="0.5"/><circle cx="644.45" cy="788.15" r="1.08" fill="#606264" fill-opacity="0.54"/><circle cx="644.43" cy="787.74" r="0.66" fill="#4a4c4e" fill-opacity="0.32"/><circle cx="643.79" cy="784.75" r="0.97" fill="#6e7072" fill-opacity="0.53"/><circle cx="641.31" cy="786.67" r="0.68" fill="#606264" fill-opacity="0.47"/><circle cx="641.66" cy="788.92" r="1.01" fill="#6e7072" fill-opacity="0.35"/><circle cx="643.32" cy="785.66" r="1.2" fill="#555759" fill-opacity="0.38"/><circle cx="634.58" cy="786.86" r="0.57" fill="#4a4c4e" fill-opacity="0.38"/><circle cx="643.55" cy="786.68" r="0.97" fill="#555759" fill-opacity="0.3"/><circle cx="642.71" cy="788.07" r="1.02" fill="#555759" fill-opacity="0.25"/><circle cx="642.84" cy="789.41" r="0.84" fill="#4a4c4e" fill-opacity="0.35"/><circle cx="644.23" cy="785.21" r="0.64" fill="#555759" fill-opacity="0.27"/><circle cx="642.1" cy="783.8" r="0.98" fill="#606264" fill-opacity="0.48"/><circle cx="643.03" cy="785.66" r="0.77" fill="#606264" fill-opacity="0.46"/><circle cx="642.78" cy="786.14" r="1.2" fill="#606264" fill-opacity="0.54"/><circle cx="643.02" cy="785.32" r="0.55" fill="#6e7072" fill-opacity="0.32"/><circle cx="638.92" cy="786.73" r="0.74" fill="#606264" fill-opacity="0.47"/><circle cx="644.15" cy="786.91" r="0.94" fill="#555759" fill-opacity="0.49"/><circle cx="642.72" cy="785.94" r="1.09" fill="#6e7072" fill-opacity="0.37"/><circle cx="648.81" cy="786.17" r="0.65" fill="#6e7072" fill-opacity="0.46"/><circle cx="639.54" cy="788.72" r="0.57" fill="#555759" fill-opacity="0.53"/><circle cx="642.55" cy="785.29" r="0.89" fill="#4a4c4e" fill-opacity="0.52"/><circle cx="641.99" cy="789.64" r="0.6" fill="#606264" fill-opacity="0.39"/><circle cx="640.17" cy="787.19" r="0.53" fill="#606264" fill-opacity="0.4"/><circle cx="642.96" cy="786.41" r="0.7" fill="#606264" fill-opacity="0.55"/><circle cx="642.8" cy="789.57" r="0.96" fill="#6e7072" fill-opacity="0.47"/><circle cx="645.6" cy="783.98" r="0.77" fill="#4a4c4e" fill-opacity="0.43"/><circle cx="645.2" cy="785.6" r="0.71" fill="#6e7072" fill-opacity="0.5"/><circle cx="647.81" cy="784.63" r="0.94" fill="#606264" fill-opacity="0.29"/><circle cx="643.23" cy="786.01" r="0.8" fill="#555759" fill-opacity="0.41"/><circle cx="647.11" cy="786.86" r="0.51" fill="#6e7072" fill-opacity="0.25"/><circle cx="660.05" cy="768.2" r="0.97" fill="#555759" fill-opacity="0.62"/><circle cx="657.45" cy="769.85" r="0.94" fill="#4a4c4e" fill-opacity="0.31"/><circle cx="655.76" cy="771.7" r="0.96" fill="#6e7072" fill-opacity="0.41"/><circle cx="659.94" cy="769.11" r="0.53" fill="#555759" fill-opacity="0.43"/><circle cx="657.26" cy="768.25" r="0.86" fill="#4a4c4e" fill-opacity="0.43"/><circle cx="658.7" cy="769.09" r="1.11" fill="#555759" fill-opacity="0.6"/><circle cx="659.49" cy="776.7" r="0.84" fill="#4a4c4e" fill-opacity="0.6"/><circle cx="656.56" cy="770.45" r="0.78" fill="#606264" fill-opacity="0.6"/><circle cx="658.79" cy="769.27" r="0.93" fill="#6e7072" fill-opacity="0.56"/><circle cx="658.41" cy="770.27" r="0.71" fill="#4a4c4e" fill-opacity="0.48"/><circle cx="659.34" cy="767.98" r="0.97" fill="#4a4c4e" fill-opacity="0.51"/><circle cx="658.68" cy="769.6" r="1.01" fill="#606264" fill-opacity="0.33"/><circle cx="658.98" cy="769.49" r="1.05" fill="#6e7072" fill-opacity="0.5"/><circle cx="658.63" cy="768.22" r="0.65" fill="#6e7072" fill-opacity="0.56"/><circle cx="656.66" cy="765.21" r="1.06" fill="#555759" fill-opacity="0.32"/><circle cx="659.49" cy="768.81" r="0.78" fill="#6e7072" fill-opacity="0.37"/><circle cx="659.25" cy="771.73" r="0.73" fill="#606264" fill-opacity="0.37"/><circle cx="657.01" cy="767.97" r="1.07" fill="#555759" fill-opacity="0.55"/><circle cx="656.36" cy="766.92" r="1" fill="#606264" fill-opacity="0.44"/><circle cx="658.38" cy="766.58" r="0.85" fill="#555759" fill-opacity="0.59"/><circle cx="659.05" cy="769.82" r="0.69" fill="#606264" fill-opacity="0.38"/><circle cx="658.18" cy="768.31" r="0.52" fill="#555759" fill-opacity="0.45"/><circle cx="658.72" cy="770.93" r="1.04" fill="#555759" fill-opacity="0.57"/><circle cx="660.63" cy="768.47" r="0.71" fill="#606264" fill-opacity="0.45"/><circle cx="659.83" cy="767.92" r="0.7" fill="#606264" fill-opacity="0.48"/><circle cx="659.66" cy="770.42" r="0.91" fill="#555759" fill-opacity="0.45"/><circle cx="661.32" cy="770.43" r="0.82" fill="#606264" fill-opacity="0.31"/><circle cx="658.05" cy="770.43" r="0.5" fill="#6e7072" fill-opacity="0.6"/><circle cx="659.75" cy="767.03" r="0.76" fill="#6e7072" fill-opacity="0.59"/><circle cx="658.72" cy="767.65" r="1.1" fill="#606264" fill-opacity="0.64"/><circle cx="659.34" cy="769.5" r="1.14" fill="#6e7072" fill-opacity="0.57"/><circle cx="661.79" cy="772.12" r="1.11" fill="#4a4c4e" fill-opacity="0.46"/><circle cx="660.42" cy="774.29" r="0.83" fill="#555759" fill-opacity="0.56"/><circle cx="658.81" cy="769.25" r="0.57" fill="#606264" fill-opacity="0.42"/><circle cx="658.61" cy="769.28" r="0.94" fill="#6e7072" fill-opacity="0.51"/><circle cx="659.45" cy="770.68" r="0.85" fill="#555759" fill-opacity="0.59"/><circle cx="661.28" cy="771.52" r="0.5" fill="#606264" fill-opacity="0.62"/><circle cx="658.93" cy="769.78" r="1.15" fill="#555759" fill-opacity="0.35"/><circle cx="658.44" cy="767.43" r="1.07" fill="#4a4c4e" fill-opacity="0.64"/><circle cx="659.8" cy="768.67" r="0.61" fill="#6e7072" fill-opacity="0.38"/><circle cx="658.05" cy="769.8" r="0.55" fill="#6e7072" fill-opacity="0.39"/><circle cx="660.02" cy="769.8" r="0.61" fill="#555759" fill-opacity="0.53"/><circle cx="658.42" cy="768" r="0.55" fill="#606264" fill-opacity="0.68"/><circle cx="657.77" cy="770.52" r="0.7" fill="#6e7072" fill-opacity="0.46"/><circle cx="655.92" cy="768.13" r="1.15" fill="#4a4c4e" fill-opacity="0.6"/><circle cx="657.34" cy="769.82" r="0.8" fill="#555759" fill-opacity="0.47"/><circle cx="655.91" cy="768.01" r="1.2" fill="#4a4c4e" fill-opacity="0.59"/><circle cx="661.21" cy="769.96" r="0.76" fill="#6e7072" fill-opacity="0.36"/><circle cx="658.38" cy="766.98" r="0.82" fill="#6e7072" fill-opacity="0.5"/><circle cx="657.89" cy="768.56" r="0.59" fill="#555759" fill-opacity="0.41"/><circle cx="659.61" cy="767.77" r="0.8" fill="#555759" fill-opacity="0.55"/><circle cx="658.48" cy="770.17" r="1" fill="#6e7072" fill-opacity="0.38"/><circle cx="658.54" cy="768.42" r="0.65" fill="#4a4c4e" fill-opacity="0.68"/><circle cx="656.76" cy="769.77" r="0.79" fill="#4a4c4e" fill-opacity="0.36"/><circle cx="659.93" cy="769.57" r="1.08" fill="#6e7072" fill-opacity="0.65"/><circle cx="658.06" cy="770" r="1.1" fill="#4a4c4e" fill-opacity="0.65"/><circle cx="653.51" cy="765.65" r="0.86" fill="#4a4c4e" fill-opacity="0.51"/><circle cx="661.41" cy="769.93" r="1.09" fill="#555759" fill-opacity="0.55"/><circle cx="656.45" cy="774.58" r="0.81" fill="#555759" fill-opacity="0.47"/><circle cx="659.36" cy="769.9" r="1.2" fill="#6e7072" fill-opacity="0.56"/><circle cx="652.91" cy="768.74" r="1.09" fill="#606264" fill-opacity="0.38"/><circle cx="656.03" cy="768.67" r="0.65" fill="#6e7072" fill-opacity="0.66"/><circle cx="659.98" cy="771.31" r="0.74" fill="#606264" fill-opacity="0.65"/><circle cx="662.01" cy="762.98" r="1.06" fill="#555759" fill-opacity="0.59"/><circle cx="659.97" cy="768.42" r="0.9" fill="#4a4c4e" fill-opacity="0.59"/><circle cx="653.8" cy="764.32" r="0.56" fill="#555759" fill-opacity="0.47"/><circle cx="659.59" cy="769.64" r="0.53" fill="#555759" fill-opacity="0.42"/><circle cx="656.37" cy="764.94" r="1.02" fill="#6e7072" fill-opacity="0.67"/><circle cx="660.33" cy="773.1" r="0.56" fill="#6e7072" fill-opacity="0.44"/><circle cx="658.14" cy="772.16" r="0.91" fill="#606264" fill-opacity="0.62"/><circle cx="655.99" cy="766.38" r="1.03" fill="#606264" fill-opacity="0.57"/><circle cx="657.98" cy="771.78" r="1.18" fill="#555759" fill-opacity="0.58"/><circle cx="673" cy="777.48" r="1.17" fill="#555759" fill-opacity="0.56"/><circle cx="672.37" cy="778.45" r="1" fill="#606264" fill-opacity="0.64"/><circle cx="666.18" cy="776.53" r="1" fill="#555759" fill-opacity="0.67"/><circle cx="676.45" cy="773.44" r="0.59" fill="#6e7072" fill-opacity="0.46"/><circle cx="673" cy="777.07" r="0.58" fill="#6e7072" fill-opacity="0.62"/><circle cx="672.9" cy="778.36" r="0.91" fill="#606264" fill-opacity="0.32"/><circle cx="674.1" cy="774.04" r="1.03" fill="#555759" fill-opacity="0.72"/><circle cx="673.33" cy="777.53" r="1.12" fill="#4a4c4e" fill-opacity="0.7"/><circle cx="675.22" cy="777.35" r="1.11" fill="#555759" fill-opacity="0.72"/><circle cx="669.91" cy="779.67" r="0.93" fill="#606264" fill-opacity="0.39"/><circle cx="676.2" cy="781.54" r="0.59" fill="#4a4c4e" fill-opacity="0.56"/><circle cx="677.37" cy="777.59" r="0.75" fill="#555759" fill-opacity="0.6"/><circle cx="675.2" cy="777.73" r="0.8" fill="#6e7072" fill-opacity="0.44"/><circle cx="677.93" cy="783.32" r="0.8" fill="#606264" fill-opacity="0.63"/><circle cx="671.85" cy="778.91" r="0.69" fill="#606264" fill-opacity="0.41"/><circle cx="673.64" cy="776.43" r="0.85" fill="#4a4c4e" fill-opacity="0.35"/><circle cx="678.72" cy="777.22" r="0.67" fill="#6e7072" fill-opacity="0.64"/><circle cx="672.79" cy="777.51" r="1.17" fill="#555759" fill-opacity="0.56"/><circle cx="673.31" cy="776.85" r="0.61" fill="#606264" fill-opacity="0.72"/><circle cx="677.37" cy="780.35" r="1.15" fill="#555759" fill-opacity="0.4"/><circle cx="674.43" cy="772" r="0.99" fill="#6e7072" fill-opacity="0.55"/><circle cx="674.07" cy="777.12" r="0.62" fill="#4a4c4e" fill-opacity="0.46"/><circle cx="673.9" cy="780.14" r="0.56" fill="#6e7072" fill-opacity="0.49"/><circle cx="675.38" cy="778.68" r="0.97" fill="#606264" fill-opacity="0.45"/><circle cx="674.46" cy="774.96" r="0.93" fill="#4a4c4e" fill-opacity="0.39"/><circle cx="671.31" cy="778.53" r="0.87" fill="#6e7072" fill-opacity="0.46"/><circle cx="673.64" cy="778.39" r="0.71" fill="#555759" fill-opacity="0.39"/><circle cx="672.21" cy="775.56" r="0.93" fill="#555759" fill-opacity="0.66"/><circle cx="672.2" cy="779.12" r="0.95" fill="#4a4c4e" fill-opacity="0.69"/><circle cx="672.79" cy="777.56" r="0.89" fill="#555759" fill-opacity="0.69"/><circle cx="669.29" cy="779.22" r="0.75" fill="#606264" fill-opacity="0.62"/><circle cx="676.67" cy="774.89" r="0.9" fill="#555759" fill-opacity="0.59"/><circle cx="672.66" cy="777.21" r="0.91" fill="#606264" fill-opacity="0.53"/><circle cx="674.34" cy="781.16" r="0.99" fill="#555759" fill-opacity="0.32"/><circle cx="672.88" cy="778.63" r="0.79" fill="#6e7072" fill-opacity="0.38"/><circle cx="673.18" cy="781.58" r="0.65" fill="#4a4c4e" fill-opacity="0.58"/><circle cx="673.2" cy="777.11" r="0.88" fill="#555759" fill-opacity="0.46"/><circle cx="673.2" cy="777.57" r="0.6" fill="#606264" fill-opacity="0.67"/><circle cx="672.1" cy="778.03" r="0.54" fill="#6e7072" fill-opacity="0.33"/><circle cx="672.44" cy="777.18" r="0.72" fill="#606264" fill-opacity="0.59"/><circle cx="672.55" cy="773" r="0.84" fill="#4a4c4e" fill-opacity="0.55"/><circle cx="671.33" cy="774.07" r="0.51" fill="#4a4c4e" fill-opacity="0.49"/><circle cx="673.24" cy="779.27" r="1.14" fill="#555759" fill-opacity="0.71"/><circle cx="673.21" cy="779.41" r="0.71" fill="#6e7072" fill-opacity="0.5"/><circle cx="672.31" cy="777.41" r="0.82" fill="#4a4c4e" fill-opacity="0.61"/><circle cx="674.82" cy="778.61" r="0.71" fill="#6e7072" fill-opacity="0.4"/><circle cx="670.15" cy="786.65" r="0.95" fill="#6e7072" fill-opacity="0.47"/><circle cx="675.92" cy="773.42" r="0.82" fill="#555759" fill-opacity="0.69"/><circle cx="673.25" cy="777.64" r="1.16" fill="#606264" fill-opacity="0.62"/><circle cx="669.54" cy="775.44" r="0.99" fill="#4a4c4e" fill-opacity="0.4"/><circle cx="672.55" cy="777.69" r="1.01" fill="#555759" fill-opacity="0.71"/><circle cx="672.45" cy="776.48" r="0.77" fill="#606264" fill-opacity="0.53"/><circle cx="674.1" cy="773.59" r="0.53" fill="#555759" fill-opacity="0.62"/><circle cx="669.66" cy="776.72" r="1.01" fill="#606264" fill-opacity="0.44"/><circle cx="673.43" cy="778.31" r="0.97" fill="#606264" fill-opacity="0.49"/><circle cx="670.53" cy="780.23" r="0.65" fill="#606264" fill-opacity="0.4"/><circle cx="668.1" cy="778.77" r="1.19" fill="#6e7072" fill-opacity="0.43"/><circle cx="675.43" cy="774.73" r="0.55" fill="#606264" fill-opacity="0.5"/><circle cx="671.47" cy="774.68" r="1.07" fill="#555759" fill-opacity="0.52"/><circle cx="674.94" cy="776.26" r="0.67" fill="#555759" fill-opacity="0.42"/><circle cx="672.86" cy="777.55" r="0.97" fill="#6e7072" fill-opacity="0.41"/><circle cx="678.65" cy="780.44" r="0.62" fill="#6e7072" fill-opacity="0.64"/><circle cx="673.58" cy="777.19" r="0.51" fill="#555759" fill-opacity="0.36"/><circle cx="669.85" cy="778.96" r="1.02" fill="#606264" fill-opacity="0.59"/><circle cx="670.28" cy="776.71" r="0.57" fill="#555759" fill-opacity="0.52"/><circle cx="674.52" cy="773.6" r="0.58" fill="#4a4c4e" fill-opacity="0.46"/><circle cx="668.47" cy="787.08" r="1.06" fill="#4a4c4e" fill-opacity="0.45"/><circle cx="670.56" cy="776.73" r="0.65" fill="#606264" fill-opacity="0.38"/><circle cx="671.81" cy="781.77" r="0.56" fill="#4a4c4e" fill-opacity="0.37"/><circle cx="673.01" cy="777.83" r="0.73" fill="#6e7072" fill-opacity="0.38"/><circle cx="673.41" cy="777.71" r="0.95" fill="#4a4c4e" fill-opacity="0.49"/><circle cx="672.86" cy="777.49" r="1.07" fill="#4a4c4e" fill-opacity="0.64"/><circle cx="671.93" cy="777.55" r="1.11" fill="#4a4c4e" fill-opacity="0.64"/><circle cx="673.94" cy="778.31" r="1.11" fill="#606264" fill-opacity="0.55"/><circle cx="674.75" cy="773.93" r="0.63" fill="#4a4c4e" fill-opacity="0.37"/><circle cx="672.08" cy="777.73" r="0.8" fill="#4a4c4e" fill-opacity="0.48"/><circle cx="672.4" cy="777.47" r="1.13" fill="#6e7072" fill-opacity="0.38"/><circle cx="674.05" cy="776.9" r="1.07" fill="#555759" fill-opacity="0.35"/><circle cx="671.17" cy="779.53" r="0.96" fill="#555759" fill-opacity="0.56"/><circle cx="673.7" cy="779" r="0.61" fill="#4a4c4e" fill-opacity="0.4"/><circle cx="674.86" cy="770.06" r="0.84" fill="#6e7072" fill-opacity="0.64"/><circle cx="670.05" cy="778.6" r="0.75" fill="#6e7072" fill-opacity="0.64"/><circle cx="673.69" cy="776.14" r="0.62" fill="#555759" fill-opacity="0.58"/><circle cx="673.25" cy="778.22" r="1.1" fill="#555759" fill-opacity="0.6"/><circle cx="673.11" cy="777.43" r="0.84" fill="#6e7072" fill-opacity="0.47"/><circle cx="671.92" cy="776.55" r="0.8" fill="#6e7072" fill-opacity="0.51"/><circle cx="671.73" cy="777.75" r="0.52" fill="#606264" fill-opacity="0.56"/><circle cx="674.05" cy="779.12" r="0.65" fill="#6e7072" fill-opacity="0.49"/><circle cx="677.7" cy="777.57" r="0.97" fill="#606264" fill-opacity="0.56"/><circle cx="671.94" cy="775.79" r="1.13" fill="#6e7072" fill-opacity="0.69"/><circle cx="676.88" cy="754.53" r="1.11" fill="#6e7072" fill-opacity="0.61"/><circle cx="676.22" cy="749.02" r="0.55" fill="#4a4c4e" fill-opacity="0.52"/><circle cx="675.05" cy="750.62" r="0.68" fill="#555759" fill-opacity="0.64"/><circle cx="673.95" cy="751.75" r="0.98" fill="#606264" fill-opacity="0.35"/><circle cx="674.5" cy="750.94" r="0.58" fill="#6e7072" fill-opacity="0.58"/><circle cx="673.93" cy="751.39" r="0.57" fill="#4a4c4e" fill-opacity="0.61"/><circle cx="678.55" cy="752.81" r="1" fill="#555759" fill-opacity="0.3"/><circle cx="673.4" cy="749.05" r="0.61" fill="#4a4c4e" fill-opacity="0.4"/><circle cx="675.51" cy="749.1" r="1.05" fill="#6e7072" fill-opacity="0.3"/><circle cx="674.17" cy="753.56" r="1.04" fill="#4a4c4e" fill-opacity="0.5"/><circle cx="675.33" cy="751.5" r="0.68" fill="#6e7072" fill-opacity="0.46"/><circle cx="675.46" cy="751" r="0.59" fill="#4a4c4e" fill-opacity="0.51"/><circle cx="674.71" cy="751.55" r="0.91" fill="#6e7072" fill-opacity="0.61"/><circle cx="676.09" cy="751.43" r="1.07" fill="#606264" fill-opacity="0.51"/><circle cx="674.88" cy="751.73" r="0.66" fill="#606264" fill-opacity="0.48"/><circle cx="675.45" cy="751" r="0.6" fill="#4a4c4e" fill-opacity="0.39"/><circle cx="674.87" cy="751.53" r="0.95" fill="#4a4c4e" fill-opacity="0.29"/><circle cx="675.62" cy="749.17" r="0.83" fill="#4a4c4e" fill-opacity="0.6"/><circle cx="674.22" cy="750.09" r="0.83" fill="#555759" fill-opacity="0.47"/><circle cx="674.76" cy="751.13" r="0.95" fill="#555759" fill-opacity="0.44"/><circle cx="675.25" cy="750.99" r="0.66" fill="#555759" fill-opacity="0.58"/><circle cx="676.69" cy="751" r="0.55" fill="#4a4c4e" fill-opacity="0.36"/><circle cx="673.71" cy="753.17" r="0.82" fill="#6e7072" fill-opacity="0.41"/><circle cx="675.09" cy="752.68" r="1.14" fill="#606264" fill-opacity="0.33"/><circle cx="674.75" cy="751.38" r="1.03" fill="#6e7072" fill-opacity="0.58"/><circle cx="674.2" cy="752.35" r="1.08" fill="#555759" fill-opacity="0.35"/><circle cx="675.37" cy="751.34" r="0.71" fill="#606264" fill-opacity="0.52"/><circle cx="673.21" cy="752.9" r="1.13" fill="#4a4c4e" fill-opacity="0.52"/><circle cx="675.47" cy="750.03" r="1.06" fill="#4a4c4e" fill-opacity="0.6"/><circle cx="674.07" cy="752.29" r="1.16" fill="#6e7072" fill-opacity="0.58"/><circle cx="672.28" cy="752.1" r="1.18" fill="#606264" fill-opacity="0.3"/><circle cx="674.92" cy="755.41" r="0.64" fill="#555759" fill-opacity="0.55"/><circle cx="672.32" cy="753.11" r="0.53" fill="#6e7072" fill-opacity="0.57"/><circle cx="676.54" cy="747.94" r="0.75" fill="#606264" fill-opacity="0.55"/><circle cx="672.73" cy="755.04" r="0.51" fill="#4a4c4e" fill-opacity="0.42"/><circle cx="676.75" cy="750.84" r="0.54" fill="#6e7072" fill-opacity="0.38"/><circle cx="673.5" cy="751.46" r="0.82" fill="#555759" fill-opacity="0.34"/><circle cx="676.69" cy="751.93" r="0.68" fill="#606264" fill-opacity="0.35"/><circle cx="675.59" cy="752.16" r="0.68" fill="#555759" fill-opacity="0.31"/><circle cx="674.83" cy="753.44" r="1.17" fill="#555759" fill-opacity="0.44"/><circle cx="673.22" cy="752.15" r="0.6" fill="#4a4c4e" fill-opacity="0.45"/><circle cx="676.53" cy="750.33" r="0.85" fill="#4a4c4e" fill-opacity="0.42"/><circle cx="674.61" cy="751.16" r="0.58" fill="#6e7072" fill-opacity="0.57"/><circle cx="672.75" cy="752.63" r="1.1" fill="#4a4c4e" fill-opacity="0.38"/><circle cx="674.14" cy="752.5" r="0.54" fill="#606264" fill-opacity="0.55"/><circle cx="674.72" cy="751.44" r="1.02" fill="#555759" fill-opacity="0.31"/><circle cx="672.42" cy="751.06" r="0.8" fill="#555759" fill-opacity="0.56"/><circle cx="673.49" cy="752.21" r="0.73" fill="#606264" fill-opacity="0.46"/><circle cx="674.3" cy="751.26" r="0.56" fill="#555759" fill-opacity="0.5"/><circle cx="674.75" cy="751.34" r="0.75" fill="#555759" fill-opacity="0.56"/><circle cx="675.02" cy="752.02" r="0.53" fill="#606264" fill-opacity="0.51"/><circle cx="673.94" cy="749.27" r="0.72" fill="#606264" fill-opacity="0.54"/><circle cx="674.13" cy="752.01" r="0.81" fill="#606264" fill-opacity="0.63"/><circle cx="673.19" cy="749.92" r="0.79" fill="#555759" fill-opacity="0.53"/><circle cx="674.7" cy="752.78" r="1.17" fill="#6e7072" fill-opacity="0.5"/><circle cx="674.42" cy="752.38" r="1.06" fill="#606264" fill-opacity="0.46"/><circle cx="672.19" cy="752.27" r="1.17" fill="#555759" fill-opacity="0.6"/><circle cx="674.94" cy="753.62" r="1.05" fill="#606264" fill-opacity="0.34"/><circle cx="673.38" cy="752.13" r="0.93" fill="#6e7072" fill-opacity="0.41"/><circle cx="675.17" cy="750.56" r="0.84" fill="#6e7072" fill-opacity="0.45"/><circle cx="565.49" cy="783.23" r="0.73" fill="#555759" fill-opacity="0.37"/><circle cx="568.99" cy="786.65" r="1.05" fill="#606264" fill-opacity="0.23"/><circle cx="563.68" cy="781.41" r="0.87" fill="#6e7072" fill-opacity="0.4"/><circle cx="569.99" cy="776.99" r="0.63" fill="#6e7072" fill-opacity="0.28"/><circle cx="565.33" cy="782.09" r="0.56" fill="#4a4c4e" fill-opacity="0.43"/><circle cx="565.36" cy="783.28" r="1.07" fill="#555759" fill-opacity="0.27"/><circle cx="560.27" cy="785.54" r="1.08" fill="#606264" fill-opacity="0.22"/><circle cx="560.96" cy="787.82" r="1.08" fill="#555759" fill-opacity="0.44"/><circle cx="560.92" cy="780.45" r="0.51" fill="#606264" fill-opacity="0.22"/><circle cx="568.6" cy="780.87" r="0.71" fill="#606264" fill-opacity="0.28"/><circle cx="558.69" cy="783.53" r="1.14" fill="#4a4c4e" fill-opacity="0.44"/><circle cx="570.03" cy="780.89" r="0.83" fill="#555759" fill-opacity="0.23"/><circle cx="566.86" cy="785.2" r="0.7" fill="#555759" fill-opacity="0.35"/><circle cx="565.33" cy="782.98" r="1.12" fill="#4a4c4e" fill-opacity="0.34"/><circle cx="565.98" cy="781.13" r="0.83" fill="#6e7072" fill-opacity="0.3"/><circle cx="569.32" cy="782.53" r="0.66" fill="#4a4c4e" fill-opacity="0.27"/><circle cx="562.47" cy="777.98" r="1.2" fill="#555759" fill-opacity="0.42"/><circle cx="566.98" cy="783.93" r="0.69" fill="#6e7072" fill-opacity="0.31"/><circle cx="560.73" cy="784.23" r="1.01" fill="#4a4c4e" fill-opacity="0.37"/><circle cx="566.33" cy="780.74" r="0.59" fill="#6e7072" fill-opacity="0.22"/><circle cx="567.43" cy="785.8" r="0.8" fill="#555759" fill-opacity="0.43"/><circle cx="567.62" cy="783.25" r="0.98" fill="#4a4c4e" fill-opacity="0.42"/><circle cx="566.42" cy="783.96" r="0.91" fill="#606264" fill-opacity="0.3"/><circle cx="564.1" cy="784.22" r="0.79" fill="#6e7072" fill-opacity="0.27"/><circle cx="566.06" cy="779.54" r="0.88" fill="#555759" fill-opacity="0.31"/><circle cx="563.74" cy="783.43" r="1.1" fill="#606264" fill-opacity="0.26"/><circle cx="565.67" cy="782.72" r="0.57" fill="#555759" fill-opacity="0.37"/><circle cx="571.17" cy="784.51" r="1.12" fill="#606264" fill-opacity="0.2"/><circle cx="564.91" cy="783.46" r="0.88" fill="#6e7072" fill-opacity="0.22"/><circle cx="565.18" cy="782.73" r="0.54" fill="#555759" fill-opacity="0.25"/><circle cx="568.24" cy="780.36" r="0.72" fill="#606264" fill-opacity="0.34"/><circle cx="565.08" cy="783.05" r="1.1" fill="#555759" fill-opacity="0.38"/><circle cx="564.41" cy="782.59" r="1.15" fill="#555759" fill-opacity="0.31"/><circle cx="573.12" cy="781.73" r="1.05" fill="#6e7072" fill-opacity="0.35"/><circle cx="557.05" cy="781.55" r="1" fill="#606264" fill-opacity="0.35"/><circle cx="566.54" cy="782.77" r="1.04" fill="#606264" fill-opacity="0.22"/><circle cx="562.32" cy="782.94" r="1.07" fill="#6e7072" fill-opacity="0.26"/><circle cx="570.09" cy="778.99" r="0.83" fill="#606264" fill-opacity="0.25"/><circle cx="566.03" cy="783.8" r="1.15" fill="#4a4c4e" fill-opacity="0.37"/><circle cx="556.52" cy="789.24" r="0.76" fill="#6e7072" fill-opacity="0.32"/><circle cx="561.33" cy="782.24" r="1.09" fill="#555759" fill-opacity="0.22"/><circle cx="561.67" cy="788.33" r="1" fill="#6e7072" fill-opacity="0.22"/><circle cx="571.2" cy="790.66" r="0.62" fill="#606264" fill-opacity="0.38"/><circle cx="571.69" cy="778.91" r="1.2" fill="#555759" fill-opacity="0.25"/><circle cx="564.13" cy="787.86" r="0.82" fill="#606264" fill-opacity="0.4"/><circle cx="567.18" cy="783.32" r="0.83" fill="#555759" fill-opacity="0.24"/><circle cx="565.36" cy="783.3" r="0.94" fill="#606264" fill-opacity="0.38"/><circle cx="566.43" cy="785.43" r="1.12" fill="#6e7072" fill-opacity="0.36"/><circle cx="568.32" cy="781.02" r="0.75" fill="#4a4c4e" fill-opacity="0.39"/><circle cx="564.34" cy="782.92" r="1.19" fill="#6e7072" fill-opacity="0.35"/><circle cx="575.79" cy="779.3" r="0.74" fill="#606264" fill-opacity="0.4"/><circle cx="569.36" cy="779.25" r="0.63" fill="#555759" fill-opacity="0.35"/><circle cx="570.68" cy="783.41" r="1.1" fill="#606264" fill-opacity="0.25"/><circle cx="565.45" cy="780.68" r="0.95" fill="#4a4c4e" fill-opacity="0.34"/><circle cx="570.22" cy="776.82" r="0.81" fill="#555759" fill-opacity="0.3"/><circle cx="564.19" cy="785.75" r="0.81" fill="#606264" fill-opacity="0.37"/><circle cx="556.96" cy="778.65" r="1.13" fill="#4a4c4e" fill-opacity="0.25"/><circle cx="563.7" cy="783.73" r="0.84" fill="#606264" fill-opacity="0.43"/><circle cx="564.38" cy="781.33" r="0.95" fill="#606264" fill-opacity="0.22"/><circle cx="566.27" cy="782.95" r="1.14" fill="#555759" fill-opacity="0.21"/><circle cx="567.06" cy="785.79" r="0.52" fill="#606264" fill-opacity="0.31"/><circle cx="565.28" cy="782.53" r="1.14" fill="#6e7072" fill-opacity="0.28"/><circle cx="567.87" cy="784.76" r="0.56" fill="#606264" fill-opacity="0.23"/><circle cx="567.38" cy="788.59" r="0.82" fill="#6e7072" fill-opacity="0.28"/><circle cx="563.18" cy="781.85" r="0.67" fill="#606264" fill-opacity="0.32"/><circle cx="566.62" cy="783.88" r="0.91" fill="#606264" fill-opacity="0.42"/><circle cx="564.12" cy="782.73" r="0.72" fill="#4a4c4e" fill-opacity="0.42"/><circle cx="563.5" cy="774.56" r="0.65" fill="#555759" fill-opacity="0.38"/><circle cx="567.26" cy="780.08" r="0.9" fill="#606264" fill-opacity="0.26"/><circle cx="563.8" cy="783.08" r="1.01" fill="#6e7072" fill-opacity="0.41"/><circle cx="567.58" cy="785.18" r="0.84" fill="#6e7072" fill-opacity="0.41"/><circle cx="563.31" cy="781.94" r="1.18" fill="#606264" fill-opacity="0.27"/><circle cx="564.8" cy="782.5" r="0.96" fill="#606264" fill-opacity="0.27"/><circle cx="566.03" cy="783.71" r="0.59" fill="#606264" fill-opacity="0.31"/><circle cx="562.63" cy="788.67" r="0.59" fill="#6e7072" fill-opacity="0.32"/><circle cx="565.79" cy="784.86" r="1.2" fill="#606264" fill-opacity="0.26"/><circle cx="566.85" cy="785.36" r="0.74" fill="#555759" fill-opacity="0.38"/><circle cx="566.86" cy="781.29" r="0.65" fill="#555759" fill-opacity="0.32"/><circle cx="564.69" cy="783.06" r="0.6" fill="#606264" fill-opacity="0.35"/><circle cx="564.74" cy="783.13" r="0.92" fill="#4a4c4e" fill-opacity="0.38"/><circle cx="564.91" cy="782.04" r="0.84" fill="#6e7072" fill-opacity="0.38"/><circle cx="561.12" cy="792.65" r="0.89" fill="#4a4c4e" fill-opacity="0.32"/><circle cx="562.56" cy="782.77" r="0.68" fill="#6e7072" fill-opacity="0.38"/><circle cx="558.6" cy="788.59" r="0.62" fill="#606264" fill-opacity="0.22"/><circle cx="572.08" cy="789.03" r="0.84" fill="#4a4c4e" fill-opacity="0.25"/><circle cx="564.74" cy="784.27" r="0.77" fill="#606264" fill-opacity="0.4"/><circle cx="565.35" cy="782.98" r="0.67" fill="#6e7072" fill-opacity="0.23"/><circle cx="567.04" cy="792.21" r="1.14" fill="#4a4c4e" fill-opacity="0.25"/><circle cx="563.23" cy="782.22" r="0.58" fill="#555759" fill-opacity="0.3"/><circle cx="566.37" cy="782.74" r="0.73" fill="#606264" fill-opacity="0.28"/><circle cx="564.54" cy="780.06" r="1.04" fill="#4a4c4e" fill-opacity="0.25"/><circle cx="566.48" cy="781.65" r="0.59" fill="#606264" fill-opacity="0.22"/><circle cx="561.63" cy="782.83" r="0.68" fill="#6e7072" fill-opacity="0.31"/><circle cx="566.06" cy="784.09" r="0.99" fill="#4a4c4e" fill-opacity="0.39"/><circle cx="562.8" cy="782.74" r="0.75" fill="#6e7072" fill-opacity="0.39"/><circle cx="564.12" cy="783.7" r="1.03" fill="#555759" fill-opacity="0.39"/><circle cx="565.42" cy="782.78" r="0.69" fill="#555759" fill-opacity="0.4"/><circle cx="566.12" cy="784.85" r="0.81" fill="#606264" fill-opacity="0.4"/><circle cx="567.26" cy="783.66" r="0.75" fill="#6e7072" fill-opacity="0.27"/><circle cx="565.17" cy="786.73" r="0.56" fill="#4a4c4e" fill-opacity="0.33"/><circle cx="565.29" cy="780.75" r="0.89" fill="#555759" fill-opacity="0.25"/><circle cx="566.54" cy="783.94" r="0.77" fill="#606264" fill-opacity="0.26"/><circle cx="557.75" cy="777.27" r="1.08" fill="#6e7072" fill-opacity="0.25"/><circle cx="566.14" cy="785.46" r="0.58" fill="#606264" fill-opacity="0.4"/><circle cx="564.39" cy="782.74" r="0.56" fill="#555759" fill-opacity="0.41"/><circle cx="566.47" cy="783.89" r="1.12" fill="#6e7072" fill-opacity="0.23"/><circle cx="562.36" cy="776.11" r="0.6" fill="#555759" fill-opacity="0.36"/><circle cx="562.36" cy="784.49" r="0.71" fill="#606264" fill-opacity="0.33"/><circle cx="674.03" cy="833.61" r="0.87" fill="#606264" fill-opacity="0.31"/><circle cx="674.09" cy="829.62" r="0.97" fill="#555759" fill-opacity="0.62"/><circle cx="671.71" cy="830.73" r="0.73" fill="#6e7072" fill-opacity="0.51"/><circle cx="671.16" cy="830.49" r="0.92" fill="#6e7072" fill-opacity="0.42"/><circle cx="671.75" cy="833.48" r="0.77" fill="#606264" fill-opacity="0.62"/><circle cx="672.38" cy="830.84" r="0.96" fill="#4a4c4e" fill-opacity="0.41"/><circle cx="671.98" cy="828.61" r="1.18" fill="#4a4c4e" fill-opacity="0.55"/><circle cx="671.91" cy="831.38" r="0.67" fill="#6e7072" fill-opacity="0.63"/><circle cx="668.83" cy="830.43" r="1.04" fill="#555759" fill-opacity="0.49"/><circle cx="670.45" cy="830.27" r="0.6" fill="#4a4c4e" fill-opacity="0.38"/><circle cx="667.36" cy="829.82" r="0.91" fill="#555759" fill-opacity="0.35"/><circle cx="670.73" cy="831" r="0.69" fill="#6e7072" fill-opacity="0.52"/><circle cx="671.86" cy="826.89" r="1.16" fill="#4a4c4e" fill-opacity="0.31"/><circle cx="666.95" cy="829.51" r="0.67" fill="#606264" fill-opacity="0.67"/><circle cx="669.99" cy="830.42" r="1.04" fill="#606264" fill-opacity="0.39"/><circle cx="671.29" cy="830.66" r="0.87" fill="#4a4c4e" fill-opacity="0.49"/><circle cx="673.16" cy="831.68" r="1" fill="#606264" fill-opacity="0.63"/><circle cx="669.43" cy="833.02" r="0.76" fill="#555759" fill-opacity="0.3"/><circle cx="669.66" cy="830.05" r="0.5" fill="#4a4c4e" fill-opacity="0.4"/><circle cx="671.61" cy="830.42" r="1.04" fill="#6e7072" fill-opacity="0.55"/><circle cx="671.07" cy="830.58" r="0.91" fill="#6e7072" fill-opacity="0.52"/><circle cx="676.48" cy="832.32" r="0.91" fill="#4a4c4e" fill-opacity="0.61"/><circle cx="671.37" cy="832.18" r="0.78" fill="#606264" fill-opacity="0.37"/><circle cx="670.54" cy="830.51" r="0.97" fill="#555759" fill-opacity="0.64"/><circle cx="673.98" cy="830.05" r="0.95" fill="#6e7072" fill-opacity="0.37"/><circle cx="671.8" cy="830.79" r="0.7" fill="#606264" fill-opacity="0.47"/><circle cx="663.95" cy="827.35" r="0.96" fill="#606264" fill-opacity="0.39"/><circle cx="670.98" cy="828.6" r="1.07" fill="#606264" fill-opacity="0.57"/><circle cx="671.29" cy="833.9" r="1.12" fill="#555759" fill-opacity="0.47"/><circle cx="668.89" cy="826.58" r="1.06" fill="#4a4c4e" fill-opacity="0.39"/><circle cx="668.09" cy="830.06" r="1.03" fill="#6e7072" fill-opacity="0.49"/><circle cx="669.74" cy="829.87" r="0.57" fill="#555759" fill-opacity="0.32"/><circle cx="671.22" cy="831.64" r="1.09" fill="#6e7072" fill-opacity="0.59"/><circle cx="669.26" cy="828.69" r="0.57" fill="#606264" fill-opacity="0.49"/><circle cx="671.62" cy="830.61" r="1.09" fill="#555759" fill-opacity="0.66"/><circle cx="672.38" cy="831.5" r="0.66" fill="#606264" fill-opacity="0.56"/><circle cx="670.88" cy="828.73" r="0.52" fill="#6e7072" fill-opacity="0.43"/><circle cx="671.09" cy="830.75" r="0.79" fill="#4a4c4e" fill-opacity="0.41"/><circle cx="671.17" cy="832.31" r="1.11" fill="#606264" fill-opacity="0.53"/><circle cx="669.33" cy="829.86" r="0.82" fill="#606264" fill-opacity="0.44"/><circle cx="670.85" cy="831.15" r="1.02" fill="#4a4c4e" fill-opacity="0.52"/><circle cx="671.66" cy="833.39" r="1.04" fill="#4a4c4e" fill-opacity="0.55"/><circle cx="671.59" cy="831.48" r="0.85" fill="#6e7072" fill-opacity="0.59"/><circle cx="670.99" cy="832.01" r="0.51" fill="#606264" fill-opacity="0.63"/><circle cx="670.7" cy="831.45" r="0.78" fill="#4a4c4e" fill-opacity="0.56"/><circle cx="668.48" cy="831.31" r="0.65" fill="#555759" fill-opacity="0.61"/><circle cx="668.42" cy="833.22" r="1.18" fill="#555759" fill-opacity="0.48"/><circle cx="668.02" cy="831.12" r="0.56" fill="#4a4c4e" fill-opacity="0.64"/><circle cx="673.72" cy="829.99" r="1.03" fill="#6e7072" fill-opacity="0.37"/><circle cx="670.86" cy="829.85" r="0.92" fill="#606264" fill-opacity="0.37"/><circle cx="670.74" cy="832.15" r="1.02" fill="#6e7072" fill-opacity="0.65"/><circle cx="672.6" cy="833.16" r="0.51" fill="#606264" fill-opacity="0.46"/><circle cx="672.42" cy="831.48" r="0.86" fill="#555759" fill-opacity="0.41"/><circle cx="672" cy="832.65" r="0.71" fill="#555759" fill-opacity="0.6"/><circle cx="670.03" cy="829.1" r="0.65" fill="#555759" fill-opacity="0.57"/><circle cx="671.6" cy="832.92" r="0.76" fill="#606264" fill-opacity="0.55"/><circle cx="671.06" cy="830.26" r="0.85" fill="#606264" fill-opacity="0.64"/><circle cx="671.43" cy="831.73" r="0.99" fill="#6e7072" fill-opacity="0.43"/><circle cx="669.13" cy="833.47" r="0.88" fill="#555759" fill-opacity="0.39"/><circle cx="671.95" cy="827.9" r="0.54" fill="#555759" fill-opacity="0.4"/><circle cx="669.55" cy="835.3" r="0.94" fill="#6e7072" fill-opacity="0.67"/><circle cx="667.59" cy="830.98" r="0.84" fill="#555759" fill-opacity="0.31"/><circle cx="670.3" cy="831.4" r="0.63" fill="#6e7072" fill-opacity="0.6"/><circle cx="669.71" cy="826.99" r="0.67" fill="#6e7072" fill-opacity="0.63"/><circle cx="669.41" cy="832.66" r="0.54" fill="#606264" fill-opacity="0.36"/><circle cx="676.89" cy="832.84" r="0.83" fill="#4a4c4e" fill-opacity="0.61"/><circle cx="676.63" cy="831.31" r="1.07" fill="#6e7072" fill-opacity="0.39"/><circle cx="671.43" cy="831.66" r="0.67" fill="#606264" fill-opacity="0.39"/><circle cx="673.84" cy="833.02" r="1.13" fill="#606264" fill-opacity="0.6"/><circle cx="670.4" cy="832.4" r="0.94" fill="#555759" fill-opacity="0.41"/><circle cx="671.38" cy="829.19" r="0.74" fill="#606264" fill-opacity="0.37"/><circle cx="668.15" cy="831.45" r="1.01" fill="#555759" fill-opacity="0.59"/><circle cx="627" cy="802.8" r="2.72" fill="#55575a" fill-opacity="0.6"/><circle cx="629.9" cy="830.8" r="2.38" fill="#55575a" fill-opacity="0.54"/><circle cx="564.5" cy="824.3" r="1.95" fill="#55575a" fill-opacity="0.48"/><circle cx="606.5" cy="772" r="1.95" fill="#55575a" fill-opacity="0.48"/><circle cx="611.2" cy="778.5" r="1.53" fill="#55575a" fill-opacity="0.42"/></g></g><rect x="559.05" y="744.45" width="124.5" height="99.9" fill="none" stroke="#727476" stroke-width="2.9"/><g clip-path="url(#m2)"><rect x="557.6" y="851.1" width="127.4" height="102.3" fill="#d2d3d2"/><g filter="url(#bl4)"><circle cx="670" cy="870" r="22" fill="#c4c5c4" fill-opacity="0.6"/><circle cx="570" cy="935" r="18" fill="#c8c9c8" fill-opacity="0.6"/><circle cx="610" cy="905" r="28" fill="#e2e2e2" fill-opacity="0.6"/></g><g filter="url(#bl2)"><circle cx="580.4" cy="894" r="4.62" fill="#6a6c6e" fill-opacity="0.5"/><circle cx="580.4" cy="899" r="2.8" fill="#6a6c6e" fill-opacity="0.35"/><circle cx="638.3" cy="891.2" r="5.32" fill="#6a6c6e" fill-opacity="0.5"/><circle cx="656" cy="887.4" r="5.32" fill="#6a6c6e" fill-opacity="0.42"/><circle cx="601.8" cy="886.5" r="3.36" fill="#6a6c6e" fill-opacity="0.35"/><circle cx="591.6" cy="859.4" r="3.22" fill="#6a6c6e" fill-opacity="0.4"/><circle cx="653.2" cy="873.4" r="5" fill="#86888a" fill-opacity="0.6"/><circle cx="614.9" cy="928.5" r="4" fill="#86888a" fill-opacity="0.72"/><circle cx="643.9" cy="936" r="5" fill="#86888a" fill-opacity="0.66"/><circle cx="577.6" cy="912.7" r="3.36" fill="#6a6c6e" fill-opacity="0.35"/><circle cx="669.1" cy="915.5" r="1.82" fill="#6a6c6e" fill-opacity="0.55"/><circle cx="591.6" cy="942.6" r="1.82" fill="#6a6c6e" fill-opacity="0.5"/><circle cx="598.1" cy="945.4" r="1.82" fill="#6a6c6e" fill-opacity="0.5"/><circle cx="609.3" cy="895.8" r="4" fill="#86888a" fill-opacity="0.42"/><circle cx="564.5" cy="881.8" r="2.1" fill="#6a6c6e" fill-opacity="0.3"/><circle cx="616.8" cy="886.5" r="1.68" fill="#6a6c6e" fill-opacity="0.35"/><circle cx="655.1" cy="913.6" r="2.1" fill="#6a6c6e" fill-opacity="0.3"/><circle cx="656" cy="918.6" r="1.68" fill="#6a6c6e" fill-opacity="0.3"/><circle cx="667.2" cy="933.2" r="2" fill="#86888a" fill-opacity="0.48"/><circle cx="669.1" cy="887.4" r="5" fill="#86888a" fill-opacity="0.3"/><circle cx="564.5" cy="931.3" r="7" fill="#86888a" fill-opacity="0.36"/><circle cx="568.2" cy="895.8" r="1.68" fill="#6a6c6e" fill-opacity="0.3"/><circle cx="635.5" cy="900.5" r="1.4" fill="#6a6c6e" fill-opacity="0.3"/><circle cx="635.5" cy="904.3" r="1.4" fill="#6a6c6e" fill-opacity="0.3"/><circle cx="574.8" cy="916.4" r="1.4" fill="#6a6c6e" fill-opacity="0.3"/></g><g filter="url(#bl5)"><circle cx="580.4" cy="894" r="2.8" fill="#55575a" fill-opacity="0.6"/><circle cx="580.4" cy="899" r="1.7" fill="#55575a" fill-opacity="0.42"/><circle cx="638.3" cy="891.2" r="3.23" fill="#55575a" fill-opacity="0.6"/><circle cx="656" cy="887.4" r="3.23" fill="#55575a" fill-opacity="0.51"/><circle cx="601.8" cy="886.5" r="2.04" fill="#55575a" fill-opacity="0.42"/><circle cx="591.6" cy="859.4" r="1.95" fill="#55575a" fill-opacity="0.48"/><circle cx="577.6" cy="912.7" r="2.04" fill="#55575a" fill-opacity="0.42"/><circle cx="669.1" cy="915.5" r="1.1" fill="#55575a" fill-opacity="0.6"/><circle cx="591.6" cy="942.6" r="1.1" fill="#55575a" fill-opacity="0.6"/><circle cx="598.1" cy="945.4" r="1.1" fill="#55575a" fill-opacity="0.6"/><circle cx="564.5" cy="881.8" r="1.27" fill="#55575a" fill-opacity="0.36"/><circle cx="616.8" cy="886.5" r="1.02" fill="#55575a" fill-opacity="0.42"/><circle cx="655.1" cy="913.6" r="1.27" fill="#55575a" fill-opacity="0.36"/><circle cx="656" cy="918.6" r="1.02" fill="#55575a" fill-opacity="0.36"/><circle cx="568.2" cy="895.8" r="1.02" fill="#55575a" fill-opacity="0.36"/><circle cx="635.5" cy="900.5" r="0.85" fill="#55575a" fill-opacity="0.36"/><circle cx="635.5" cy="904.3" r="0.85" fill="#55575a" fill-opacity="0.36"/><circle cx="574.8" cy="916.4" r="0.85" fill="#55575a" fill-opacity="0.36"/></g></g><rect x="559.05" y="852.55" width="124.5" height="99.4" fill="none" stroke="#727476" stroke-width="2.9"/><line x1="655.2" y1="838.3" x2="679.7" y2="838.3" stroke="#222" stroke-width="0.9" stroke-linecap="butt"/><line x1="655.6" y1="836.1" x2="655.6" y2="840.5" stroke="#222" stroke-width="0.9" stroke-linecap="butt"/><line x1="679.3" y1="836.1" x2="679.3" y2="840.5" stroke="#222" stroke-width="0.9" stroke-linecap="butt"/><text x="667.2" y="836.6" font-size="5" text-anchor="middle" font-weight="bold" fill="#222" textLength="17.47" lengthAdjust="spacingAndGlyphs" stroke="#222" stroke-width="0.1">200 µm</text><line x1="655.2" y1="946.3" x2="679.7" y2="946.3" stroke="#222" stroke-width="0.9" stroke-linecap="butt"/><line x1="655.6" y1="944.1" x2="655.6" y2="948.5" stroke="#222" stroke-width="0.9" stroke-linecap="butt"/><line x1="679.3" y1="944.1" x2="679.3" y2="948.5" stroke="#222" stroke-width="0.9" stroke-linecap="butt"/><text x="667.2" y="944.6" font-size="5" text-anchor="middle" font-weight="bold" fill="#222" textLength="17.47" lengthAdjust="spacingAndGlyphs" stroke="#222" stroke-width="0.1">200 µm</text></svg></body></html>
